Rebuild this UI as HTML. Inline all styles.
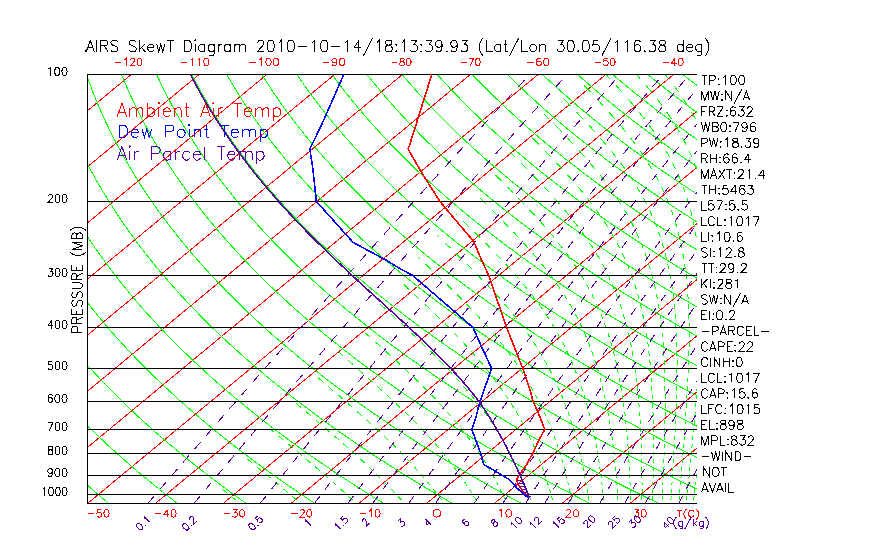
<!DOCTYPE html><html><head><meta charset="utf-8"><style>html,body{margin:0;padding:0;background:#fff;width:870px;height:560px;overflow:hidden}svg{display:block}text{font-family:"Liberation Sans",sans-serif}</style></head><body>
<svg width="870" height="560" viewBox="0 0 870 560">
<defs><clipPath id="c"><rect x="87" y="74" width="610" height="430"/></clipPath></defs>
<g clip-path="url(#c)" fill="none" shape-rendering="crispEdges">
<path d="M-454.9,503.5L63.4,74.5M-387.1,503.5L131.2,74.5M-319.3,503.5L199.0,74.5M-251.5,503.5L266.8,74.5M-183.7,503.5L334.6,74.5M-115.9,503.5L402.4,74.5M-48.1,503.5L470.2,74.5M19.7,503.5L538.0,74.5M87.5,503.5L605.8,74.5M155.3,503.5L673.6,74.5M223.1,503.5L741.4,74.5M290.9,503.5L809.2,74.5M358.7,503.5L877.0,74.5M426.5,503.5L944.8,74.5M494.3,503.5L1012.6,74.5M562.1,503.5L1080.4,74.5M629.9,503.5L1148.2,74.5M697.7,503.5L1216.0,74.5M765.5,503.5L1283.8,74.5" stroke="#f00"/>
<path d="M108.8,503.5L106.7,501.7L104.6,500.0L102.5,498.2L100.4,496.4L98.3,494.6L96.1,492.8L94.0,490.9L91.9,489.0L89.7,487.2L87.5,485.2L85.4,483.3L83.2,481.4L81.0,479.4L78.8,477.4L76.6,475.4L74.4,473.4L72.1,471.3L69.9,469.2L67.6,467.1L65.4,465.0L63.1,462.8L60.8,460.6L58.5,458.4L56.2,456.2L53.9,453.9L51.6,451.6L49.2,449.3L46.9,447.0L44.5,444.6L42.2,442.2L39.8,439.7L37.4,437.2L35.0,434.7L32.6,432.2L30.1,429.6L27.7,427.0L25.3,424.3L22.8,421.6L20.3,418.9L17.8,416.1L15.3,413.2L12.8,410.4L10.3,407.5L7.7,404.5L5.2,401.5L2.6,398.4L0.1,395.3L-2.5,392.1L-5.1,388.9L-7.8,385.6L-10.4,382.3L-13.0,378.9L-15.7,375.4L-18.4,371.8L-21.0,368.2L-23.7,364.6L-26.4,360.8L-29.2,357.0L-31.9,353.0L-34.7,349.0L-37.4,344.9L-40.2,340.7L-43.0,336.5L-45.8,332.1L-48.6,327.6L-51.4,322.9L-54.2,318.2L-57.1,313.3L-59.9,308.4L-62.8,303.2L-65.6,297.9L-68.5,292.5L-71.4,286.9L-74.2,281.1L-77.1,275.1L-80.0,268.9L-82.9,262.5L-85.7,255.9L-88.6,249.0L-91.4,241.9L-94.2,234.4L-97.0,226.7L-99.8,218.6L-102.5,210.1L-105.2,201.2L-107.8,191.8L-110.3,182.0L-112.7,171.6L-115.0,160.5L-117.2,148.8L-119.1,136.2L-120.9,122.7L-122.4,108.1L-123.5,92.2L-124.1,74.8M177.5,503.5L175.2,501.7L173.0,500.0L170.7,498.2L168.4,496.4L166.1,494.6L163.7,492.8L161.4,490.9L159.1,489.0L156.7,487.2L154.3,485.2L152.0,483.3L149.6,481.4L147.2,479.4L144.8,477.4L142.4,475.4L139.9,473.4L137.5,471.3L135.0,469.2L132.6,467.1L130.1,465.0L127.6,462.8L125.1,460.6L122.6,458.4L120.1,456.2L117.5,453.9L115.0,451.6L112.4,449.3L109.8,447.0L107.2,444.6L104.6,442.2L102.0,439.7L99.4,437.2L96.7,434.7L94.0,432.2L91.4,429.6L88.7,427.0L86.0,424.3L83.3,421.6L80.5,418.9L77.8,416.1L75.0,413.2L72.2,410.4L69.4,407.5L66.6,404.5L63.8,401.5L60.9,398.4L58.1,395.3L55.2,392.1L52.3,388.9L49.4,385.6L46.5,382.3L43.5,378.9L40.5,375.4L37.6,371.8L34.6,368.2L31.6,364.6L28.5,360.8L25.5,357.0L22.4,353.0L19.3,349.0L16.2,344.9L13.1,340.7L9.9,336.5L6.8,332.1L3.6,327.6L0.4,322.9L-2.8,318.2L-6.0,313.3L-9.3,308.4L-12.6,303.2L-15.8,297.9L-19.1,292.5L-22.4,286.9L-25.7,281.1L-29.1,275.1L-32.4,268.9L-35.8,262.5L-39.1,255.9L-42.5,249.0L-45.8,241.9L-49.2,234.4L-52.5,226.7L-55.8,218.6L-59.1,210.1L-62.4,201.2L-65.6,191.8L-68.8,182.0L-71.9,171.6L-74.9,160.5L-77.8,148.8L-80.5,136.2L-83.1,122.7L-85.4,108.1L-87.4,92.2L-89.0,74.8M246.3,503.5L243.8,501.7L241.3,500.0L238.9,498.2L236.4,496.4L233.9,494.6L231.3,492.8L228.8,490.9L226.3,489.0L223.7,487.2L221.2,485.2L218.6,483.3L216.0,481.4L213.4,479.4L210.8,477.4L208.1,475.4L205.5,473.4L202.9,471.3L200.2,469.2L197.5,467.1L194.8,465.0L192.1,462.8L189.4,460.6L186.6,458.4L183.9,456.2L181.1,453.9L178.3,451.6L175.5,449.3L172.7,447.0L169.9,444.6L167.1,442.2L164.2,439.7L161.3,437.2L158.4,434.7L155.5,432.2L152.6,429.6L149.7,427.0L146.7,424.3L143.7,421.6L140.7,418.9L137.7,416.1L134.7,413.2L131.6,410.4L128.6,407.5L125.5,404.5L122.4,401.5L119.2,398.4L116.1,395.3L112.9,392.1L109.7,388.9L106.5,385.6L103.3,382.3L100.1,378.9L96.8,375.4L93.5,371.8L90.2,368.2L86.8,364.6L83.5,360.8L80.1,357.0L76.7,353.0L73.3,349.0L69.8,344.9L66.3,340.7L62.8,336.5L59.3,332.1L55.8,327.6L52.2,322.9L48.6,318.2L45.0,313.3L41.3,308.4L37.7,303.2L34.0,297.9L30.3,292.5L26.5,286.9L22.8,281.1L19.0,275.1L15.2,268.9L11.4,262.5L7.5,255.9L3.7,249.0L-0.2,241.9L-4.1,234.4L-8.0,226.7L-11.8,218.6L-15.7,210.1L-19.6,201.2L-23.4,191.8L-27.2,182.0L-31.0,171.6L-34.7,160.5L-38.3,148.8L-41.9,136.2L-45.2,122.7L-48.4,108.1L-51.3,92.2L-53.9,74.8M315.0,503.5L312.4,501.7L309.7,500.0L307.0,498.2L304.4,496.4L301.7,494.6L298.9,492.8L296.2,490.9L293.5,489.0L290.7,487.2L288.0,485.2L285.2,483.3L282.4,481.4L279.6,479.4L276.8,477.4L273.9,475.4L271.1,473.4L268.2,471.3L265.3,469.2L262.4,467.1L259.5,465.0L256.6,462.8L253.7,460.6L250.7,458.4L247.7,456.2L244.7,453.9L241.7,451.6L238.7,449.3L235.6,447.0L232.6,444.6L229.5,442.2L226.4,439.7L223.3,437.2L220.2,434.7L217.0,432.2L213.8,429.6L210.6,427.0L207.4,424.3L204.2,421.6L200.9,418.9L197.7,416.1L194.4,413.2L191.0,410.4L187.7,407.5L184.3,404.5L180.9,401.5L177.5,398.4L174.1,395.3L170.7,392.1L167.2,388.9L163.7,385.6L160.1,382.3L156.6,378.9L153.0,375.4L149.4,371.8L145.8,368.2L142.1,364.6L138.4,360.8L134.7,357.0L131.0,353.0L127.2,349.0L123.4,344.9L119.6,340.7L115.7,336.5L111.8,332.1L107.9,327.6L104.0,322.9L100.0,318.2L96.0,313.3L92.0,308.4L87.9,303.2L83.8,297.9L79.6,292.5L75.5,286.9L71.3,281.1L67.0,275.1L62.8,268.9L58.5,262.5L54.1,255.9L49.8,249.0L45.4,241.9L41.0,234.4L36.6,226.7L32.1,218.6L27.7,210.1L23.2,201.2L18.7,191.8L14.3,182.0L9.8,171.6L5.4,160.5L1.1,148.8L-3.2,136.2L-7.4,122.7L-11.4,108.1L-15.3,92.2L-18.8,74.8M383.8,503.5L380.9,501.7L378.1,500.0L375.2,498.2L372.4,496.4L369.5,494.6L366.6,492.8L363.6,490.9L360.7,489.0L357.7,487.2L354.8,485.2L351.8,483.3L348.8,481.4L345.8,479.4L342.8,477.4L339.7,475.4L336.7,473.4L333.6,471.3L330.5,469.2L327.4,467.1L324.2,465.0L321.1,462.8L317.9,460.6L314.8,458.4L311.6,456.2L308.3,453.9L305.1,451.6L301.8,449.3L298.6,447.0L295.3,444.6L291.9,442.2L288.6,439.7L285.3,437.2L281.9,434.7L278.5,432.2L275.0,429.6L271.6,427.0L268.1,424.3L264.6,421.6L261.1,418.9L257.6,416.1L254.0,413.2L250.4,410.4L246.8,407.5L243.2,404.5L239.5,401.5L235.8,398.4L232.1,395.3L228.4,392.1L224.6,388.9L220.8,385.6L217.0,382.3L213.1,378.9L209.3,375.4L205.3,371.8L201.4,368.2L197.4,364.6L193.4,360.8L189.4,357.0L185.3,353.0L181.2,349.0L177.0,344.9L172.9,340.7L168.6,336.5L164.4,332.1L160.1,327.6L155.8,322.9L151.4,318.2L147.0,313.3L142.6,308.4L138.1,303.2L133.6,297.9L129.0,292.5L124.4,286.9L119.8,281.1L115.1,275.1L110.3,268.9L105.6,262.5L100.8,255.9L95.9,249.0L91.0,241.9L86.1,234.4L81.1,226.7L76.1,218.6L71.1,210.1L66.0,201.2L60.9,191.8L55.8,182.0L50.7,171.6L45.6,160.5L40.5,148.8L35.4,136.2L30.4,122.7L25.5,108.1L20.8,92.2L16.3,74.8M452.5,503.5L449.5,501.7L446.5,500.0L443.4,498.2L440.3,496.4L437.3,494.6L434.2,492.8L431.0,490.9L427.9,489.0L424.8,487.2L421.6,485.2L418.4,483.3L415.2,481.4L412.0,479.4L408.8,477.4L405.5,475.4L402.2,473.4L398.9,471.3L395.6,469.2L392.3,467.1L389.0,465.0L385.6,462.8L382.2,460.6L378.8,458.4L375.4,456.2L371.9,453.9L368.5,451.6L365.0,449.3L361.5,447.0L357.9,444.6L354.4,442.2L350.8,439.7L347.2,437.2L343.6,434.7L339.9,432.2L336.3,429.6L332.6,427.0L328.9,424.3L325.1,421.6L321.3,418.9L317.5,416.1L313.7,413.2L309.9,410.4L306.0,407.5L302.1,404.5L298.1,401.5L294.1,398.4L290.1,395.3L286.1,392.1L282.1,388.9L278.0,385.6L273.8,382.3L269.7,378.9L265.5,375.4L261.3,371.8L257.0,368.2L252.7,364.6L248.4,360.8L244.0,357.0L239.6,353.0L235.1,349.0L230.6,344.9L226.1,340.7L221.5,336.5L216.9,332.1L212.3,327.6L207.6,322.9L202.8,318.2L198.0,313.3L193.2,308.4L188.3,303.2L183.4,297.9L178.4,292.5L173.4,286.9L168.3,281.1L163.1,275.1L157.9,268.9L152.7,262.5L147.4,255.9L142.0,249.0L136.6,241.9L131.2,234.4L125.6,226.7L120.1,218.6L114.5,210.1L108.8,201.2L103.1,191.8L97.3,182.0L91.5,171.6L85.7,160.5L79.9,148.8L74.1,136.2L68.3,122.7L62.5,108.1L56.9,92.2L51.4,74.8M521.3,503.5L518.1,501.7L514.8,500.0L511.6,498.2L508.3,496.4L505.1,494.6L501.8,492.8L498.5,490.9L495.1,489.0L491.8,487.2L488.4,485.2L485.0,483.3L481.6,481.4L478.2,479.4L474.8,477.4L471.3,475.4L467.8,473.4L464.3,471.3L460.8,469.2L457.3,467.1L453.7,465.0L450.1,462.8L446.5,460.6L442.9,458.4L439.2,456.2L435.6,453.9L431.9,451.6L428.1,449.3L424.4,447.0L420.6,444.6L416.8,442.2L413.0,439.7L409.2,437.2L405.3,434.7L401.4,432.2L397.5,429.6L393.5,427.0L389.6,424.3L385.6,421.6L381.5,418.9L377.5,416.1L373.4,413.2L369.3,410.4L365.1,407.5L360.9,404.5L356.7,401.5L352.5,398.4L348.2,395.3L343.9,392.1L339.5,388.9L335.1,385.6L330.7,382.3L326.2,378.9L321.7,375.4L317.2,371.8L312.6,368.2L308.0,364.6L303.3,360.8L298.6,357.0L293.9,353.0L289.1,349.0L284.3,344.9L279.4,340.7L274.4,336.5L269.5,332.1L264.4,327.6L259.4,322.9L254.2,318.2L249.1,313.3L243.8,308.4L238.5,303.2L233.2,297.9L227.8,292.5L222.3,286.9L216.8,281.1L211.2,275.1L205.5,268.9L199.8,262.5L194.0,255.9L188.2,249.0L182.2,241.9L176.2,234.4L170.2,226.7L164.0,218.6L157.8,210.1L151.6,201.2L145.2,191.8L138.8,182.0L132.4,171.6L125.8,160.5L119.3,148.8L112.7,136.2L106.1,122.7L99.5,108.1L92.9,92.2L86.5,74.8M590.0,503.5L586.6,501.7L583.2,500.0L579.8,498.2L576.3,496.4L572.9,494.6L569.4,492.8L565.9,490.9L562.3,489.0L558.8,487.2L555.2,485.2L551.6,483.3L548.0,481.4L544.4,479.4L540.8,477.4L537.1,475.4L533.4,473.4L529.7,471.3L525.9,469.2L522.2,467.1L518.4,465.0L514.6,462.8L510.8,460.6L506.9,458.4L503.1,456.2L499.2,453.9L495.2,451.6L491.3,449.3L487.3,447.0L483.3,444.6L479.3,442.2L475.2,439.7L471.1,437.2L467.0,434.7L462.9,432.2L458.7,429.6L454.5,427.0L450.3,424.3L446.0,421.6L441.7,418.9L437.4,416.1L433.1,413.2L428.7,410.4L424.2,407.5L419.8,404.5L415.3,401.5L410.8,398.4L406.2,395.3L401.6,392.1L396.9,388.9L392.3,385.6L387.5,382.3L382.8,378.9L378.0,375.4L373.1,371.8L368.2,368.2L363.3,364.6L358.3,360.8L353.3,357.0L348.2,353.0L343.0,349.0L337.9,344.9L332.6,340.7L327.3,336.5L322.0,332.1L316.6,327.6L311.2,322.9L305.6,318.2L300.1,313.3L294.4,308.4L288.7,303.2L283.0,297.9L277.1,292.5L271.2,286.9L265.3,281.1L259.2,275.1L253.1,268.9L246.9,262.5L240.6,255.9L234.3,249.0L227.8,241.9L221.3,234.4L214.7,226.7L208.0,218.6L201.2,210.1L194.4,201.2L187.4,191.8L180.3,182.0L173.2,171.6L166.0,160.5L158.7,148.8L151.3,136.2L143.9,122.7L136.5,108.1L129.0,92.2L121.6,74.8M658.8,503.5L655.2,501.7L651.6,500.0L648.0,498.2L644.3,496.4L640.7,494.6L637.0,492.8L633.3,490.9L629.5,489.0L625.8,487.2L622.0,485.2L618.2,483.3L614.4,481.4L610.6,479.4L606.7,477.4L602.9,475.4L599.0,473.4L595.0,471.3L591.1,469.2L587.1,467.1L583.1,465.0L579.1,462.8L575.1,460.6L571.0,458.4L566.9,456.2L562.8,453.9L558.6,451.6L554.4,449.3L550.2,447.0L546.0,444.6L541.7,442.2L537.4,439.7L533.1,437.2L528.8,434.7L524.4,432.2L519.9,429.6L515.5,427.0L511.0,424.3L506.5,421.6L501.9,418.9L497.4,416.1L492.7,413.2L488.1,410.4L483.4,407.5L478.6,404.5L473.9,401.5L469.1,398.4L464.2,395.3L459.3,392.1L454.4,388.9L449.4,385.6L444.4,382.3L439.3,378.9L434.2,375.4L429.0,371.8L423.8,368.2L418.6,364.6L413.3,360.8L407.9,357.0L402.5,353.0L397.0,349.0L391.5,344.9L385.9,340.7L380.3,336.5L374.5,332.1L368.8,327.6L363.0,322.9L357.1,318.2L351.1,313.3L345.1,308.4L339.0,303.2L332.8,297.9L326.5,292.5L320.2,286.9L313.8,281.1L307.3,275.1L300.7,268.9L294.0,262.5L287.3,255.9L280.4,249.0L273.4,241.9L266.4,234.4L259.2,226.7L252.0,218.6L244.6,210.1L237.1,201.2L229.6,191.8L221.9,182.0L214.1,171.6L206.1,160.5L198.1,148.8L190.0,136.2L181.7,122.7L173.4,108.1L165.1,92.2L156.7,74.8M727.5,503.5L723.8,501.7L720.0,500.0L716.2,498.2L712.3,496.4L708.5,494.6L704.6,492.8L700.7,490.9L696.8,489.0L692.8,487.2L688.8,485.2L684.9,483.3L680.8,481.4L676.8,479.4L672.7,477.4L668.7,475.4L664.5,473.4L660.4,471.3L656.3,469.2L652.1,467.1L647.9,465.0L643.6,462.8L639.3,460.6L635.1,458.4L630.7,456.2L626.4,453.9L622.0,451.6L617.6,449.3L613.1,447.0L608.7,444.6L604.2,442.2L599.6,439.7L595.1,437.2L590.5,434.7L585.8,432.2L581.2,429.6L576.5,427.0L571.7,424.3L567.0,421.6L562.1,418.9L557.3,416.1L552.4,413.2L547.5,410.4L542.5,407.5L537.5,404.5L532.5,401.5L527.4,398.4L522.2,395.3L517.0,392.1L511.8,388.9L506.5,385.6L501.2,382.3L495.8,378.9L490.4,375.4L485.0,371.8L479.4,368.2L473.8,364.6L468.2,360.8L462.5,357.0L456.8,353.0L451.0,349.0L445.1,344.9L439.2,340.7L433.2,336.5L427.1,332.1L421.0,327.6L414.7,322.9L408.5,318.2L402.1,313.3L395.7,308.4L389.2,303.2L382.6,297.9L375.9,292.5L369.1,286.9L362.3,281.1L355.3,275.1L348.3,268.9L341.1,262.5L333.9,255.9L326.5,249.0L319.1,241.9L311.5,234.4L303.8,226.7L296.0,218.6L288.0,210.1L279.9,201.2L271.7,191.8L263.4,182.0L254.9,171.6L246.3,160.5L237.5,148.8L228.6,136.2L219.6,122.7L210.4,108.1L201.1,92.2L191.8,74.8M796.3,503.5L792.3,501.7L788.3,500.0L784.3,498.2L780.3,496.4L776.3,494.6L772.2,492.8L768.1,490.9L764.0,489.0L759.8,487.2L755.7,485.2L751.5,483.3L747.2,481.4L743.0,479.4L738.7,477.4L734.4,475.4L730.1,473.4L725.8,471.3L721.4,469.2L717.0,467.1L712.6,465.0L708.1,462.8L703.6,460.6L699.1,458.4L694.6,456.2L690.0,453.9L685.4,451.6L680.7,449.3L676.1,447.0L671.4,444.6L666.6,442.2L661.8,439.7L657.0,437.2L652.2,434.7L647.3,432.2L642.4,429.6L637.4,427.0L632.4,424.3L627.4,421.6L622.3,418.9L617.2,416.1L612.1,413.2L606.9,410.4L601.7,407.5L596.4,404.5L591.0,401.5L585.7,398.4L580.2,395.3L574.8,392.1L569.3,388.9L563.7,385.6L558.1,382.3L552.4,378.9L546.7,375.4L540.9,371.8L535.0,368.2L529.1,364.6L523.2,360.8L517.2,357.0L511.1,353.0L504.9,349.0L498.7,344.9L492.4,340.7L486.1,336.5L479.6,332.1L473.1,327.6L466.5,322.9L459.9,318.2L453.1,313.3L446.3,308.4L439.4,303.2L432.4,297.9L425.3,292.5L418.1,286.9L410.8,281.1L403.4,275.1L395.9,268.9L388.2,262.5L380.5,255.9L372.6,249.0L364.7,241.9L356.6,234.4L348.3,226.7L339.9,218.6L331.4,210.1L322.7,201.2L313.9,191.8L304.9,182.0L295.7,171.6L286.4,160.5L276.9,148.8L267.2,136.2L257.4,122.7L247.4,108.1L237.2,92.2L226.8,74.8M865.0,503.5L860.9,501.7L856.7,500.0L852.5,498.2L848.3,496.4L844.1,494.6L839.8,492.8L835.5,490.9L831.2,489.0L826.8,487.2L822.5,485.2L818.1,483.3L813.7,481.4L809.2,479.4L804.7,477.4L800.2,475.4L795.7,473.4L791.1,471.3L786.6,469.2L781.9,467.1L777.3,465.0L772.6,462.8L767.9,460.6L763.2,458.4L758.4,456.2L753.6,453.9L748.8,451.6L743.9,449.3L739.0,447.0L734.0,444.6L729.1,442.2L724.0,439.7L719.0,437.2L713.9,434.7L708.8,432.2L703.6,429.6L698.4,427.0L693.2,424.3L687.9,421.6L682.6,418.9L677.2,416.1L671.8,413.2L666.3,410.4L660.8,407.5L655.2,404.5L649.6,401.5L644.0,398.4L638.3,395.3L632.5,392.1L626.7,388.9L620.8,385.6L614.9,382.3L608.9,378.9L602.9,375.4L596.8,371.8L590.6,368.2L584.4,364.6L578.1,360.8L571.8,357.0L565.4,353.0L558.9,349.0L552.3,344.9L545.7,340.7L539.0,336.5L532.2,332.1L525.3,327.6L518.3,322.9L511.3,318.2L504.1,313.3L496.9,308.4L489.6,303.2L482.2,297.9L474.6,292.5L467.0,286.9L459.3,281.1L451.4,275.1L443.4,268.9L435.3,262.5L427.1,255.9L418.8,249.0L410.3,241.9L401.6,234.4L392.8,226.7L383.9,218.6L374.8,210.1L365.5,201.2L356.1,191.8L346.4,182.0L336.6,171.6L326.6,160.5L316.3,148.8L305.9,136.2L295.2,122.7L284.3,108.1L273.2,92.2L261.9,74.8M933.8,503.5L929.5,501.7L925.1,500.0L920.7,498.2L916.3,496.4L911.9,494.6L907.4,492.8L902.9,490.9L898.4,489.0L893.9,487.2L889.3,485.2L884.7,483.3L880.1,481.4L875.4,479.4L870.7,477.4L866.0,475.4L861.3,473.4L856.5,471.3L851.7,469.2L846.9,467.1L842.0,465.0L837.1,462.8L832.2,460.6L827.2,458.4L822.2,456.2L817.2,453.9L812.1,451.6L807.0,449.3L801.9,447.0L796.7,444.6L791.5,442.2L786.3,439.7L781.0,437.2L775.6,434.7L770.3,432.2L764.8,429.6L759.4,427.0L753.9,424.3L748.3,421.6L742.8,418.9L737.1,416.1L731.4,413.2L725.7,410.4L719.9,407.5L714.1,404.5L708.2,401.5L702.3,398.4L696.3,395.3L690.2,392.1L684.1,388.9L678.0,385.6L671.8,382.3L665.5,378.9L659.1,375.4L652.7,371.8L646.3,368.2L639.7,364.6L633.1,360.8L626.4,357.0L619.7,353.0L612.8,349.0L605.9,344.9L598.9,340.7L591.9,336.5L584.7,332.1L577.5,327.6L570.1,322.9L562.7,318.2L555.2,313.3L547.5,308.4L539.8,303.2L532.0,297.9L524.0,292.5L516.0,286.9L507.8,281.1L499.5,275.1L491.0,268.9L482.5,262.5L473.7,255.9L464.9,249.0L455.9,241.9L446.7,234.4L437.4,226.7L427.9,218.6L418.2,210.1L408.3,201.2L398.2,191.8L387.9,182.0L377.4,171.6L366.7,160.5L355.7,148.8L344.5,136.2L333.0,122.7L321.3,108.1L309.3,92.2L297.0,74.8M1002.6,503.5L998.0,501.7L993.5,500.0L988.9,498.2L984.3,496.4L979.7,494.6L975.0,492.8L970.3,490.9L965.6,489.0L960.9,487.2L956.1,485.2L951.3,483.3L946.5,481.4L941.6,479.4L936.7,477.4L931.8,475.4L926.9,473.4L921.9,471.3L916.9,469.2L911.8,467.1L906.7,465.0L901.6,462.8L896.5,460.6L891.3,458.4L886.1,456.2L880.8,453.9L875.5,451.6L870.2,449.3L864.8,447.0L859.4,444.6L854.0,442.2L848.5,439.7L842.9,437.2L837.4,434.7L831.7,432.2L826.1,429.6L820.4,427.0L814.6,424.3L808.8,421.6L803.0,418.9L797.1,416.1L791.1,413.2L785.1,410.4L779.1,407.5L773.0,404.5L766.8,401.5L760.6,398.4L754.3,395.3L748.0,392.1L741.6,388.9L735.1,385.6L728.6,382.3L722.0,378.9L715.4,375.4L708.6,371.8L701.9,368.2L695.0,364.6L688.1,360.8L681.1,357.0L674.0,353.0L666.8,349.0L659.5,344.9L652.2,340.7L644.8,336.5L637.2,332.1L629.6,327.6L621.9,322.9L614.1,318.2L606.2,313.3L598.2,308.4L590.0,303.2L581.8,297.9L573.4,292.5L564.9,286.9L556.3,281.1L547.5,275.1L538.6,268.9L529.6,262.5L520.4,255.9L511.0,249.0L501.5,241.9L491.8,234.4L481.9,226.7L471.8,218.6L461.6,210.1L451.1,201.2L440.4,191.8L429.5,182.0L418.3,171.6L406.8,160.5L395.1,148.8L383.2,136.2L370.9,122.7L358.3,108.1L345.4,92.2L332.1,74.8M1071.3,503.5L1066.6,501.7L1061.8,500.0L1057.1,498.2L1052.3,496.4L1047.5,494.6L1042.6,492.8L1037.7,490.9L1032.8,489.0L1027.9,487.2L1022.9,485.2L1017.9,483.3L1012.9,481.4L1007.8,479.4L1002.7,477.4L997.6,475.4L992.4,473.4L987.2,471.3L982.0,469.2L976.8,467.1L971.5,465.0L966.1,462.8L960.8,460.6L955.3,458.4L949.9,456.2L944.4,453.9L938.9,451.6L933.3,449.3L927.7,447.0L922.1,444.6L916.4,442.2L910.7,439.7L904.9,437.2L899.1,434.7L893.2,432.2L887.3,429.6L881.3,427.0L875.3,424.3L869.3,421.6L863.2,418.9L857.0,416.1L850.8,413.2L844.5,410.4L838.2,407.5L831.8,404.5L825.4,401.5L818.9,398.4L812.3,395.3L805.7,392.1L799.0,388.9L792.3,385.6L785.4,382.3L778.6,378.9L771.6,375.4L764.6,371.8L757.5,368.2L750.3,364.6L743.0,360.8L735.7,357.0L728.3,353.0L720.7,349.0L713.1,344.9L705.5,340.7L697.7,336.5L689.8,332.1L681.8,327.6L673.7,322.9L665.5,318.2L657.2,313.3L648.8,308.4L640.2,303.2L631.6,297.9L622.8,292.5L613.8,286.9L604.8,281.1L595.6,275.1L586.2,268.9L576.7,262.5L567.0,255.9L557.1,249.0L547.1,241.9L536.9,234.4L526.4,226.7L515.8,218.6L505.0,210.1L493.9,201.2L482.6,191.8L471.0,182.0L459.1,171.6L447.0,160.5L434.6,148.8L421.8,136.2L408.7,122.7L395.3,108.1L381.4,92.2L367.2,74.8M1140.1,503.5L1135.2,501.7L1130.2,500.0L1125.3,498.2L1120.3,496.4L1115.3,494.6L1110.2,492.8L1105.1,490.9L1100.0,489.0L1094.9,487.2L1089.7,485.2L1084.5,483.3L1079.3,481.4L1074.0,479.4L1068.7,477.4L1063.4,475.4L1058.0,473.4L1052.6,471.3L1047.2,469.2L1041.7,467.1L1036.2,465.0L1030.6,462.8L1025.0,460.6L1019.4,458.4L1013.7,456.2L1008.0,453.9L1002.3,451.6L996.5,449.3L990.6,447.0L984.8,444.6L978.8,442.2L972.9,439.7L966.9,437.2L960.8,434.7L954.7,432.2L948.5,429.6L942.3,427.0L936.0,424.3L929.7,421.6L923.4,418.9L916.9,416.1L910.5,413.2L903.9,410.4L897.3,407.5L890.7,404.5L884.0,401.5L877.2,398.4L870.3,395.3L863.4,392.1L856.5,388.9L849.4,385.6L842.3,382.3L835.1,378.9L827.8,375.4L820.5,371.8L813.1,368.2L805.6,364.6L798.0,360.8L790.3,357.0L782.6,353.0L774.7,349.0L766.8,344.9L758.7,340.7L750.6,336.5L742.3,332.1L734.0,327.6L725.5,322.9L716.9,318.2L708.2,313.3L699.4,308.4L690.5,303.2L681.4,297.9L672.2,292.5L662.8,286.9L653.3,281.1L643.6,275.1L633.8,268.9L623.8,262.5L613.6,255.9L603.3,249.0L592.7,241.9L581.9,234.4L571.0,226.7L559.8,218.6L548.3,210.1L536.7,201.2L524.7,191.8L512.5,182.0L500.0,171.6L487.1,160.5L474.0,148.8L460.4,136.2L446.5,122.7L432.2,108.1L417.5,92.2L402.3,74.8M1208.8,503.5L1203.7,501.7L1198.6,500.0L1193.4,498.2L1188.3,496.4L1183.1,494.6L1177.8,492.8L1172.5,490.9L1167.2,489.0L1161.9,487.2L1156.5,485.2L1151.1,483.3L1145.7,481.4L1140.2,479.4L1134.7,477.4L1129.2,475.4L1123.6,473.4L1118.0,471.3L1112.3,469.2L1106.6,467.1L1100.9,465.0L1095.1,462.8L1089.3,460.6L1083.5,458.4L1077.6,456.2L1071.6,453.9L1065.7,451.6L1059.6,449.3L1053.6,447.0L1047.4,444.6L1041.3,442.2L1035.1,439.7L1028.8,437.2L1022.5,434.7L1016.2,432.2L1009.7,429.6L1003.3,427.0L996.8,424.3L990.2,421.6L983.6,418.9L976.9,416.1L970.1,413.2L963.3,410.4L956.5,407.5L949.5,404.5L942.5,401.5L935.5,398.4L928.4,395.3L921.2,392.1L913.9,388.9L906.6,385.6L899.1,382.3L891.6,378.9L884.1,375.4L876.4,371.8L868.7,368.2L860.9,364.6L852.9,360.8L844.9,357.0L836.9,353.0L828.7,349.0L820.4,344.9L812.0,340.7L803.5,336.5L794.9,332.1L786.1,327.6L777.3,322.9L768.3,318.2L759.2,313.3L750.0,308.4L740.7,303.2L731.2,297.9L721.5,292.5L711.7,286.9L701.8,281.1L691.7,275.1L681.4,268.9L670.9,262.5L660.2,255.9L649.4,249.0L638.3,241.9L627.0,234.4L615.5,226.7L603.8,218.6L591.7,210.1L579.5,201.2L566.9,191.8L554.0,182.0L540.8,171.6L527.3,160.5L513.4,148.8L499.1,136.2L484.4,122.7L469.2,108.1L453.6,92.2L437.4,74.8M1277.6,503.5L1272.3,501.7L1267.0,500.0L1261.6,498.2L1256.3,496.4L1250.9,494.6L1245.4,492.8L1240.0,490.9L1234.5,489.0L1228.9,487.2L1223.3,485.2L1217.7,483.3L1212.1,481.4L1206.4,479.4L1200.7,477.4L1195.0,475.4L1189.2,473.4L1183.3,471.3L1177.5,469.2L1171.6,467.1L1165.6,465.0L1159.6,462.8L1153.6,460.6L1147.5,458.4L1141.4,456.2L1135.2,453.9L1129.0,451.6L1122.8,449.3L1116.5,447.0L1110.1,444.6L1103.7,442.2L1097.3,439.7L1090.8,437.2L1084.2,434.7L1077.6,432.2L1071.0,429.6L1064.3,427.0L1057.5,424.3L1050.7,421.6L1043.8,418.9L1036.8,416.1L1029.8,413.2L1022.7,410.4L1015.6,407.5L1008.4,404.5L1001.1,401.5L993.8,398.4L986.4,395.3L978.9,392.1L971.3,388.9L963.7,385.6L956.0,382.3L948.2,378.9L940.3,375.4L932.3,371.8L924.3,368.2L916.1,364.6L907.9,360.8L899.6,357.0L891.1,353.0L882.6,349.0L874.0,344.9L865.2,340.7L856.4,336.5L847.4,332.1L838.3,327.6L829.1,322.9L819.7,318.2L810.3,313.3L800.6,308.4L790.9,303.2L781.0,297.9L770.9,292.5L760.7,286.9L750.3,281.1L739.7,275.1L729.0,268.9L718.0,262.5L706.9,255.9L695.5,249.0L683.9,241.9L672.1,234.4L660.0,226.7L647.7,218.6L635.1,210.1L622.2,201.2L609.1,191.8L595.5,182.0L581.7,171.6L567.4,160.5L552.8,148.8L537.7,136.2L522.2,122.7L506.2,108.1L489.6,92.2L472.5,74.8M1346.3,503.5L1340.8,501.7L1335.4,500.0L1329.8,498.2L1324.3,496.4L1318.7,494.6L1313.0,492.8L1307.4,490.9L1301.7,489.0L1295.9,487.2L1290.2,485.2L1284.4,483.3L1278.5,481.4L1272.6,479.4L1266.7,477.4L1260.7,475.4L1254.7,473.4L1248.7,471.3L1242.6,469.2L1236.5,467.1L1230.3,465.0L1224.1,462.8L1217.9,460.6L1211.6,458.4L1205.2,456.2L1198.9,453.9L1192.4,451.6L1185.9,449.3L1179.4,447.0L1172.8,444.6L1166.2,442.2L1159.5,439.7L1152.7,437.2L1146.0,434.7L1139.1,432.2L1132.2,429.6L1125.2,427.0L1118.2,424.3L1111.1,421.6L1104.0,418.9L1096.8,416.1L1089.5,413.2L1082.1,410.4L1074.7,407.5L1067.3,404.5L1059.7,401.5L1052.1,398.4L1044.4,395.3L1036.6,392.1L1028.8,388.9L1020.8,385.6L1012.8,382.3L1004.7,378.9L996.5,375.4L988.3,371.8L979.9,368.2L971.4,364.6L962.9,360.8L954.2,357.0L945.4,353.0L936.6,349.0L927.6,344.9L918.5,340.7L909.3,336.5L899.9,332.1L890.5,327.6L880.9,322.9L871.2,318.2L861.3,313.3L851.3,308.4L841.1,303.2L830.8,297.9L820.3,292.5L809.6,286.9L798.8,281.1L787.8,275.1L776.5,268.9L765.1,262.5L753.5,255.9L741.6,249.0L729.5,241.9L717.2,234.4L704.6,226.7L691.7,218.6L678.5,210.1L665.0,201.2L651.2,191.8L637.0,182.0L622.5,171.6L607.6,160.5L592.2,148.8L576.4,136.2L560.0,122.7L543.1,108.1L525.7,92.2L507.6,74.8M1415.1,503.5L1409.4,501.7L1403.7,500.0L1398.0,498.2L1392.2,496.4L1386.5,494.6L1380.6,492.8L1374.8,490.9L1368.9,489.0L1362.9,487.2L1357.0,485.2L1351.0,483.3L1344.9,481.4L1338.8,479.4L1332.7,477.4L1326.5,475.4L1320.3,473.4L1314.1,471.3L1307.8,469.2L1301.4,467.1L1295.1,465.0L1288.6,462.8L1282.2,460.6L1275.6,458.4L1269.1,456.2L1262.5,453.9L1255.8,451.6L1249.1,449.3L1242.3,447.0L1235.5,444.6L1228.6,442.2L1221.7,439.7L1214.7,437.2L1207.7,434.7L1200.6,432.2L1193.4,429.6L1186.2,427.0L1178.9,424.3L1171.6,421.6L1164.2,418.9L1156.7,416.1L1149.2,413.2L1141.6,410.4L1133.9,407.5L1126.1,404.5L1118.3,401.5L1110.4,398.4L1102.4,395.3L1094.4,392.1L1086.2,388.9L1078.0,385.6L1069.7,382.3L1061.3,378.9L1052.8,375.4L1044.2,371.8L1035.5,368.2L1026.7,364.6L1017.8,360.8L1008.8,357.0L999.7,353.0L990.5,349.0L981.2,344.9L971.8,340.7L962.2,336.5L952.5,332.1L942.6,327.6L932.7,322.9L922.6,318.2L912.3,313.3L901.9,308.4L891.3,303.2L880.6,297.9L869.7,292.5L858.6,286.9L847.3,281.1L835.8,275.1L824.1,268.9L812.2,262.5L800.1,255.9L787.7,249.0L775.1,241.9L762.3,234.4L749.1,226.7L735.7,218.6L721.9,210.1L707.8,201.2L693.4,191.8L678.6,182.0L663.4,171.6L647.7,160.5L631.6,148.8L615.0,136.2L597.8,122.7L580.1,108.1L561.8,92.2L542.7,74.8M1483.8,503.5L1478.0,501.7L1472.1,500.0L1466.2,498.2L1460.2,496.4L1454.3,494.6L1448.2,492.8L1442.2,490.9L1436.1,489.0L1430.0,487.2L1423.8,485.2L1417.6,483.3L1411.3,481.4L1405.0,479.4L1398.7,477.4L1392.3,475.4L1385.9,473.4L1379.4,471.3L1372.9,469.2L1366.4,467.1L1359.8,465.0L1353.1,462.8L1346.4,460.6L1339.7,458.4L1332.9,456.2L1326.1,453.9L1319.2,451.6L1312.2,449.3L1305.2,447.0L1298.2,444.6L1291.1,442.2L1283.9,439.7L1276.7,437.2L1269.4,434.7L1262.0,432.2L1254.6,429.6L1247.2,427.0L1239.6,424.3L1232.0,421.6L1224.4,418.9L1216.6,416.1L1208.8,413.2L1201.0,410.4L1193.0,407.5L1185.0,404.5L1176.9,401.5L1168.7,398.4L1160.4,395.3L1152.1,392.1L1143.7,388.9L1135.1,385.6L1126.5,382.3L1117.8,378.9L1109.0,375.4L1100.1,371.8L1091.1,368.2L1082.0,364.6L1072.8,360.8L1063.5,357.0L1054.0,353.0L1044.5,349.0L1034.8,344.9L1025.0,340.7L1015.1,336.5L1005.0,332.1L994.8,327.6L984.5,322.9L974.0,318.2L963.3,313.3L952.5,308.4L941.5,303.2L930.4,297.9L919.0,292.5L907.5,286.9L895.8,281.1L883.9,275.1L871.7,268.9L859.3,262.5L846.7,255.9L833.9,249.0L820.7,241.9L807.3,234.4L793.6,226.7L779.6,218.6L765.3,210.1L750.6,201.2L735.5,191.8L720.1,182.0L704.2,171.6L687.8,160.5L671.0,148.8L653.6,136.2L635.7,122.7L617.1,108.1L597.8,92.2L577.8,74.8M1552.6,503.5L1546.5,501.7L1540.5,500.0L1534.4,498.2L1528.2,496.4L1522.1,494.6L1515.8,492.8L1509.6,490.9L1503.3,489.0L1497.0,487.2L1490.6,485.2L1484.2,483.3L1477.7,481.4L1471.2,479.4L1464.7,477.4L1458.1,475.4L1451.5,473.4L1444.8,471.3L1438.1,469.2L1431.3,467.1L1424.5,465.0L1417.6,462.8L1410.7,460.6L1403.8,458.4L1396.7,456.2L1389.7,453.9L1382.6,451.6L1375.4,449.3L1368.1,447.0L1360.9,444.6L1353.5,442.2L1346.1,439.7L1338.6,437.2L1331.1,434.7L1323.5,432.2L1315.9,429.6L1308.1,427.0L1300.4,424.3L1292.5,421.6L1284.6,418.9L1276.6,416.1L1268.5,413.2L1260.4,410.4L1252.1,407.5L1243.8,404.5L1235.5,401.5L1227.0,398.4L1218.5,395.3L1209.8,392.1L1201.1,388.9L1192.3,385.6L1183.4,382.3L1174.4,378.9L1165.2,375.4L1156.0,371.8L1146.7,368.2L1137.3,364.6L1127.8,360.8L1118.1,357.0L1108.3,353.0L1098.4,349.0L1088.4,344.9L1078.3,340.7L1068.0,336.5L1057.6,332.1L1047.0,327.6L1036.3,322.9L1025.4,318.2L1014.3,313.3L1003.1,308.4L991.7,303.2L980.2,297.9L968.4,292.5L956.5,286.9L944.3,281.1L931.9,275.1L919.3,268.9L906.5,262.5L893.4,255.9L880.0,249.0L866.4,241.9L852.4,234.4L838.2,226.7L823.6,218.6L808.7,210.1L793.4,201.2L777.7,191.8L761.6,182.0L745.0,171.6L728.0,160.5L710.4,148.8L692.3,136.2L673.5,122.7L654.1,108.1L633.9,92.2L612.9,74.8M1621.3,503.5L1615.1,501.7L1608.9,500.0L1602.6,498.2L1596.2,496.4L1589.9,494.6L1583.5,492.8L1577.0,490.9L1570.5,489.0L1564.0,487.2L1557.4,485.2L1550.8,483.3L1544.1,481.4L1537.4,479.4L1530.7,477.4L1523.9,475.4L1517.1,473.4L1510.2,471.3L1503.2,469.2L1496.3,467.1L1489.2,465.0L1482.1,462.8L1475.0,460.6L1467.8,458.4L1460.6,456.2L1453.3,453.9L1445.9,451.6L1438.5,449.3L1431.1,447.0L1423.5,444.6L1416.0,442.2L1408.3,439.7L1400.6,437.2L1392.8,434.7L1385.0,432.2L1377.1,429.6L1369.1,427.0L1361.1,424.3L1353.0,421.6L1344.8,418.9L1336.5,416.1L1328.2,413.2L1319.8,410.4L1311.3,407.5L1302.7,404.5L1294.1,401.5L1285.3,398.4L1276.5,395.3L1267.5,392.1L1258.5,388.9L1249.4,385.6L1240.2,382.3L1230.9,378.9L1221.5,375.4L1212.0,371.8L1202.3,368.2L1192.6,364.6L1182.7,360.8L1172.7,357.0L1162.6,353.0L1152.4,349.0L1142.0,344.9L1131.5,340.7L1120.9,336.5L1110.1,332.1L1099.2,327.6L1088.1,322.9L1076.8,318.2L1065.4,313.3L1053.8,308.4L1042.0,303.2L1030.0,297.9L1017.8,292.5L1005.4,286.9L992.8,281.1L980.0,275.1L966.9,268.9L953.6,262.5L940.0,255.9L926.1,249.0L912.0,241.9L897.5,234.4L882.7,226.7L867.6,218.6L852.1,210.1L836.2,201.2L819.9,191.8L803.1,182.0L785.9,171.6L768.1,160.5L749.8,148.8L730.9,136.2L711.3,122.7L691.0,108.1L669.9,92.2L648.0,74.8M1690.1,503.5L1683.7,501.7L1677.2,500.0L1670.7,498.2L1664.2,496.4L1657.7,494.6L1651.1,492.8L1644.4,490.9L1637.7,489.0L1631.0,487.2L1624.2,485.2L1617.4,483.3L1610.5,481.4L1603.6,479.4L1596.7,477.4L1589.7,475.4L1582.6,473.4L1575.5,471.3L1568.4,469.2L1561.2,467.1L1553.9,465.0L1546.6,462.8L1539.3,460.6L1531.9,458.4L1524.4,456.2L1516.9,453.9L1509.3,451.6L1501.7,449.3L1494.0,447.0L1486.2,444.6L1478.4,442.2L1470.5,439.7L1462.6,437.2L1454.6,434.7L1446.5,432.2L1438.3,429.6L1430.1,427.0L1421.8,424.3L1413.4,421.6L1405.0,418.9L1396.5,416.1L1387.9,413.2L1379.2,410.4L1370.4,407.5L1361.6,404.5L1352.6,401.5L1343.6,398.4L1334.5,395.3L1325.3,392.1L1316.0,388.9L1306.6,385.6L1297.1,382.3L1287.4,378.9L1277.7,375.4L1267.9,371.8L1257.9,368.2L1247.9,364.6L1237.7,360.8L1227.4,357.0L1216.9,353.0L1206.4,349.0L1195.6,344.9L1184.8,340.7L1173.8,336.5L1162.6,332.1L1151.3,327.6L1139.9,322.9L1128.2,318.2L1116.4,313.3L1104.4,308.4L1092.2,303.2L1079.8,297.9L1067.2,292.5L1054.3,286.9L1041.3,281.1L1028.0,275.1L1014.5,268.9L1000.7,262.5L986.6,255.9L972.2,249.0L957.6,241.9L942.6,234.4L927.2,226.7L911.5,218.6L895.5,210.1L879.0,201.2L862.0,191.8L844.6,182.0L826.7,171.6L808.3,160.5L789.2,148.8L769.5,136.2L749.2,122.7L728.0,108.1L706.0,92.2L683.1,74.8M1758.8,503.5L1752.2,501.7L1745.6,500.0L1738.9,498.2L1732.2,496.4L1725.5,494.6L1718.7,492.8L1711.8,490.9L1704.9,489.0L1698.0,487.2L1691.0,485.2L1684.0,483.3L1677.0,481.4L1669.8,479.4L1662.7,477.4L1655.5,475.4L1648.2,473.4L1640.9,471.3L1633.5,469.2L1626.1,467.1L1618.7,465.0L1611.1,462.8L1603.6,460.6L1595.9,458.4L1588.2,456.2L1580.5,453.9L1572.7,451.6L1564.8,449.3L1556.9,447.0L1548.9,444.6L1540.8,442.2L1532.7,439.7L1524.5,437.2L1516.3,434.7L1507.9,432.2L1499.5,429.6L1491.1,427.0L1482.5,424.3L1473.9,421.6L1465.2,418.9L1456.4,416.1L1447.5,413.2L1438.6,410.4L1429.6,407.5L1420.4,404.5L1411.2,401.5L1401.9,398.4L1392.5,395.3L1383.0,392.1L1373.4,388.9L1363.7,385.6L1353.9,382.3L1344.0,378.9L1334.0,375.4L1323.8,371.8L1313.5,368.2L1303.2,364.6L1292.6,360.8L1282.0,357.0L1271.2,353.0L1260.3,349.0L1249.3,344.9L1238.1,340.7L1226.7,336.5L1215.2,332.1L1203.5,327.6L1191.6,322.9L1179.6,318.2L1167.4,313.3L1155.0,308.4L1142.4,303.2L1129.6,297.9L1116.5,292.5L1103.3,286.9L1089.8,281.1L1076.1,275.1L1062.1,268.9L1047.8,262.5L1033.2,255.9L1018.4,249.0L1003.2,241.9L987.7,234.4L971.8,226.7L955.5,218.6L938.9,210.1L921.8,201.2L904.2,191.8L886.2,182.0L867.6,171.6L848.4,160.5L828.6,148.8L808.2,136.2L787.0,122.7L765.0,108.1L742.1,92.2L718.2,74.8M1827.6,503.5L1820.8,501.7L1814.0,500.0L1807.1,498.2L1800.2,496.4L1793.3,494.6L1786.3,492.8L1779.2,490.9L1772.1,489.0L1765.0,487.2L1757.8,485.2L1750.6,483.3L1743.4,481.4L1736.0,479.4L1728.7,477.4L1721.3,475.4L1713.8,473.4L1706.3,471.3L1698.7,469.2L1691.1,467.1L1683.4,465.0L1675.6,462.8L1667.8,460.6L1660.0,458.4L1652.1,456.2L1644.1,453.9L1636.1,451.6L1628.0,449.3L1619.8,447.0L1611.6,444.6L1603.3,442.2L1594.9,439.7L1586.5,437.2L1578.0,434.7L1569.4,432.2L1560.8,429.6L1552.0,427.0L1543.2,424.3L1534.4,421.6L1525.4,418.9L1516.3,416.1L1507.2,413.2L1498.0,410.4L1488.7,407.5L1479.3,404.5L1469.8,401.5L1460.2,398.4L1450.5,395.3L1440.7,392.1L1430.9,388.9L1420.9,385.6L1410.7,382.3L1400.5,378.9L1390.2,375.4L1379.7,371.8L1369.2,368.2L1358.4,364.6L1347.6,360.8L1336.6,357.0L1325.5,353.0L1314.3,349.0L1302.9,344.9L1291.3,340.7L1279.6,336.5L1267.7,332.1L1255.7,327.6L1243.4,322.9L1231.0,318.2L1218.4,313.3L1205.6,308.4L1192.6,303.2L1179.4,297.9L1165.9,292.5L1152.2,286.9L1138.3,281.1L1124.1,275.1L1109.6,268.9L1094.9,262.5L1079.8,255.9L1064.5,249.0L1048.8,241.9L1032.7,234.4L1016.3,226.7L999.5,218.6L982.2,210.1L964.5,201.2L946.4,191.8L927.7,182.0L908.4,171.6L888.6,160.5L868.1,148.8L846.8,136.2L824.8,122.7L802.0,108.1L778.1,92.2L753.3,74.8M1896.3,503.5L1889.4,501.7L1882.4,500.0L1875.3,498.2L1868.2,496.4L1861.1,494.6L1853.9,492.8L1846.6,490.9L1839.4,489.0L1832.0,487.2L1824.7,485.2L1817.2,483.3L1809.8,481.4L1802.2,479.4L1794.7,477.4L1787.0,475.4L1779.4,473.4L1771.6,471.3L1763.8,469.2L1756.0,467.1L1748.1,465.0L1740.1,462.8L1732.1,460.6L1724.1,458.4L1715.9,456.2L1707.7,453.9L1699.5,451.6L1691.1,449.3L1682.7,447.0L1674.3,444.6L1665.7,442.2L1657.1,439.7L1648.5,437.2L1639.7,434.7L1630.9,432.2L1622.0,429.6L1613.0,427.0L1604.0,424.3L1594.8,421.6L1585.6,418.9L1576.3,416.1L1566.9,413.2L1557.4,410.4L1547.8,407.5L1538.2,404.5L1528.4,401.5L1518.5,398.4L1508.5,395.3L1498.5,392.1L1488.3,388.9L1478.0,385.6L1467.6,382.3L1457.1,378.9L1446.4,375.4L1435.7,371.8L1424.8,368.2L1413.7,364.6L1402.6,360.8L1391.3,357.0L1379.8,353.0L1368.2,349.0L1356.5,344.9L1344.6,340.7L1332.5,336.5L1320.3,332.1L1307.8,327.6L1295.2,322.9L1282.4,318.2L1269.4,313.3L1256.2,308.4L1242.8,303.2L1229.2,297.9L1215.3,292.5L1201.2,286.9L1186.8,281.1L1172.2,275.1L1157.2,268.9L1142.0,262.5L1126.5,255.9L1110.6,249.0L1094.4,241.9L1077.8,234.4L1060.8,226.7L1043.5,218.6L1025.6,210.1L1007.3,201.2L988.5,191.8L969.2,182.0L949.3,171.6L928.7,160.5L907.5,148.8L885.5,136.2L862.6,122.7L838.9,108.1L814.2,92.2L788.3,74.8M1965.1,503.5L1957.9,501.7L1950.7,500.0L1943.5,498.2L1936.2,496.4L1928.9,494.6L1921.5,492.8L1914.0,490.9L1906.6,489.0L1899.0,487.2L1891.5,485.2L1883.8,483.3L1876.2,481.4L1868.4,479.4L1860.7,477.4L1852.8,475.4L1844.9,473.4L1837.0,471.3L1829.0,469.2L1820.9,467.1L1812.8,465.0L1804.6,462.8L1796.4,460.6L1788.1,458.4L1779.8,456.2L1771.3,453.9L1762.8,451.6L1754.3,449.3L1745.6,447.0L1736.9,444.6L1728.2,442.2L1719.3,439.7L1710.4,437.2L1701.4,434.7L1692.4,432.2L1683.2,429.6L1674.0,427.0L1664.7,424.3L1655.3,421.6L1645.8,418.9L1636.2,416.1L1626.6,413.2L1616.8,410.4L1607.0,407.5L1597.0,404.5L1587.0,401.5L1576.8,398.4L1566.6,395.3L1556.2,392.1L1545.7,388.9L1535.1,385.6L1524.4,382.3L1513.6,378.9L1502.7,375.4L1491.6,371.8L1480.4,368.2L1469.0,364.6L1457.5,360.8L1445.9,357.0L1434.1,353.0L1422.2,349.0L1410.1,344.9L1397.8,340.7L1385.4,336.5L1372.8,332.1L1360.0,327.6L1347.0,322.9L1333.8,318.2L1320.5,313.3L1306.9,308.4L1293.0,303.2L1279.0,297.9L1264.7,292.5L1250.1,286.9L1235.3,281.1L1220.2,275.1L1204.8,268.9L1189.1,262.5L1173.1,255.9L1156.7,249.0L1140.0,241.9L1122.9,234.4L1105.4,226.7L1087.4,218.6L1069.0,210.1L1050.1,201.2L1030.7,191.8L1010.7,182.0L990.1,171.6L968.8,160.5L946.9,148.8L924.1,136.2L900.5,122.7L875.9,108.1L850.3,92.2L823.4,74.8M2033.8,503.5L2026.5,501.7L2019.1,500.0L2011.7,498.2L2004.2,496.4L1996.7,494.6L1989.1,492.8L1981.5,490.9L1973.8,489.0L1966.1,487.2L1958.3,485.2L1950.5,483.3L1942.6,481.4L1934.6,479.4L1926.7,477.4L1918.6,475.4L1910.5,473.4L1902.4,471.3L1894.2,469.2L1885.9,467.1L1877.5,465.0L1869.2,462.8L1860.7,460.6L1852.2,458.4L1843.6,456.2L1834.9,453.9L1826.2,451.6L1817.4,449.3L1808.6,447.0L1799.6,444.6L1790.6,442.2L1781.5,439.7L1772.4,437.2L1763.2,434.7L1753.8,432.2L1744.4,429.6L1735.0,427.0L1725.4,424.3L1715.7,421.6L1706.0,418.9L1696.2,416.1L1686.2,413.2L1676.2,410.4L1666.1,407.5L1655.9,404.5L1645.6,401.5L1635.1,398.4L1624.6,395.3L1613.9,392.1L1603.2,388.9L1592.3,385.6L1581.3,382.3L1570.2,378.9L1558.9,375.4L1547.5,371.8L1536.0,368.2L1524.3,364.6L1512.5,360.8L1500.5,357.0L1488.4,353.0L1476.1,349.0L1463.7,344.9L1451.1,340.7L1438.3,336.5L1425.3,332.1L1412.2,327.6L1398.8,322.9L1385.3,318.2L1371.5,313.3L1357.5,308.4L1343.3,303.2L1328.8,297.9L1314.1,292.5L1299.1,286.9L1283.8,281.1L1268.3,275.1L1252.4,268.9L1236.2,262.5L1219.7,255.9L1202.8,249.0L1185.6,241.9L1168.0,234.4L1149.9,226.7L1131.4,218.6L1112.4,210.1L1092.9,201.2L1072.9,191.8L1052.2,182.0L1031.0,171.6L1009.0,160.5L986.3,148.8L962.7,136.2L938.3,122.7L912.9,108.1L886.3,92.2L858.5,74.8M2102.6,503.5L2095.1,501.7L2087.5,500.0L2079.9,498.2L2072.2,496.4L2064.5,494.6L2056.7,492.8L2048.9,490.9L2041.0,489.0L2033.1,487.2L2025.1,485.2L2017.1,483.3L2009.0,481.4L2000.9,479.4L1992.7,477.4L1984.4,475.4L1976.1,473.4L1967.7,471.3L1959.3,469.2L1950.8,467.1L1942.3,465.0L1933.7,462.8L1925.0,460.6L1916.2,458.4L1907.4,456.2L1898.5,453.9L1889.6,451.6L1880.6,449.3L1871.5,447.0L1862.3,444.6L1853.1,442.2L1843.8,439.7L1834.4,437.2L1824.9,434.7L1815.3,432.2L1805.7,429.6L1795.9,427.0L1786.1,424.3L1776.2,421.6L1766.2,418.9L1756.1,416.1L1745.9,413.2L1735.6,410.4L1725.2,407.5L1714.7,404.5L1704.1,401.5L1693.4,398.4L1682.6,395.3L1671.7,392.1L1660.6,388.9L1649.4,385.6L1638.1,382.3L1626.7,378.9L1615.1,375.4L1603.4,371.8L1591.6,368.2L1579.6,364.6L1567.5,360.8L1555.2,357.0L1542.7,353.0L1530.1,349.0L1517.3,344.9L1504.4,340.7L1491.2,336.5L1477.9,332.1L1464.3,327.6L1450.6,322.9L1436.7,318.2L1422.5,313.3L1408.1,308.4L1393.5,303.2L1378.6,297.9L1363.4,292.5L1348.0,286.9L1332.3,281.1L1316.3,275.1L1300.0,268.9L1283.3,262.5L1266.3,255.9L1249.0,249.0L1231.2,241.9L1213.0,234.4L1194.4,226.7L1175.4,218.6L1155.8,210.1L1135.7,201.2L1115.0,191.8L1093.7,182.0L1071.8,171.6L1049.1,160.5L1025.7,148.8L1001.4,136.2L976.1,122.7L949.8,108.1L922.4,92.2L893.6,74.8M2171.3,503.5L2163.6,501.7L2155.9,500.0L2148.0,498.2L2140.2,496.4L2132.3,494.6L2124.3,492.8L2116.3,490.9L2108.2,489.0L2100.1,487.2L2091.9,485.2L2083.7,483.3L2075.4,481.4L2067.1,479.4L2058.7,477.4L2050.2,475.4L2041.7,473.4L2033.1,471.3L2024.5,469.2L2015.8,467.1L2007.0,465.0L1998.2,462.8L1989.3,460.6L1980.3,458.4L1971.3,456.2L1962.1,453.9L1953.0,451.6L1943.7,449.3L1934.4,447.0L1925.0,444.6L1915.5,442.2L1906.0,439.7L1896.3,437.2L1886.6,434.7L1876.8,432.2L1866.9,429.6L1856.9,427.0L1846.8,424.3L1836.7,421.6L1826.4,418.9L1816.1,416.1L1805.6,413.2L1795.0,410.4L1784.4,407.5L1773.6,404.5L1762.7,401.5L1751.7,398.4L1740.6,395.3L1729.4,392.1L1718.0,388.9L1706.6,385.6L1695.0,382.3L1683.2,378.9L1671.4,375.4L1659.3,371.8L1647.2,368.2L1634.9,364.6L1622.4,360.8L1609.8,357.0L1597.0,353.0L1584.1,349.0L1570.9,344.9L1557.6,340.7L1544.1,336.5L1530.4,332.1L1516.5,327.6L1502.4,322.9L1488.1,318.2L1473.5,313.3L1458.7,308.4L1443.7,303.2L1428.4,297.9L1412.8,292.5L1397.0,286.9L1380.8,281.1L1364.4,275.1L1347.6,268.9L1330.4,262.5L1313.0,255.9L1295.1,249.0L1276.8,241.9L1258.1,234.4L1239.0,226.7L1219.3,218.6L1199.2,210.1L1178.5,201.2L1157.2,191.8L1135.3,182.0L1112.6,171.6L1089.3,160.5L1065.1,148.8L1040.0,136.2L1014.0,122.7L986.8,108.1L958.5,92.2L928.7,74.8M2240.1,503.5L2232.2,501.7L2224.2,500.0L2216.2,498.2L2208.2,496.4L2200.1,494.6L2191.9,492.8L2183.7,490.9L2175.4,489.0L2167.1,487.2L2158.7,485.2L2150.3,483.3L2141.8,481.4L2133.3,479.4L2124.6,477.4L2116.0,475.4L2107.3,473.4L2098.5,471.3L2089.6,469.2L2080.7,467.1L2071.7,465.0L2062.7,462.8L2053.5,460.6L2044.3,458.4L2035.1,456.2L2025.8,453.9L2016.4,451.6L2006.9,449.3L1997.3,447.0L1987.7,444.6L1978.0,442.2L1968.2,439.7L1958.3,437.2L1948.3,434.7L1938.3,432.2L1928.1,429.6L1917.9,427.0L1907.6,424.3L1897.1,421.6L1886.6,418.9L1876.0,416.1L1865.3,413.2L1854.4,410.4L1843.5,407.5L1832.5,404.5L1821.3,401.5L1810.0,398.4L1798.6,395.3L1787.1,392.1L1775.5,388.9L1763.7,385.6L1751.8,382.3L1739.8,378.9L1727.6,375.4L1715.3,371.8L1702.8,368.2L1690.2,364.6L1677.4,360.8L1664.4,357.0L1651.3,353.0L1638.0,349.0L1624.5,344.9L1610.9,340.7L1597.0,336.5L1583.0,332.1L1568.7,327.6L1554.2,322.9L1539.5,318.2L1524.5,313.3L1509.3,308.4L1493.9,303.2L1478.2,297.9L1462.2,292.5L1445.9,286.9L1429.3,281.1L1412.4,275.1L1395.2,268.9L1377.6,262.5L1359.6,255.9L1341.2,249.0L1322.4,241.9L1303.2,234.4L1283.5,226.7L1263.3,218.6L1242.6,210.1L1221.3,201.2L1199.4,191.8L1176.8,182.0L1153.5,171.6L1129.4,160.5L1104.5,148.8L1078.7,136.2L1051.8,122.7L1023.8,108.1L994.5,92.2L963.8,74.8M2308.9,503.5L2300.8,501.7L2292.6,500.0L2284.4,498.2L2276.2,496.4L2267.9,494.6L2259.5,492.8L2251.1,490.9L2242.6,489.0L2234.1,487.2L2225.5,485.2L2216.9,483.3L2208.2,481.4L2199.5,479.4L2190.6,477.4L2181.8,475.4L2172.8,473.4L2163.8,471.3L2154.8,469.2L2145.6,467.1L2136.4,465.0L2127.2,462.8L2117.8,460.6L2108.4,458.4L2098.9,456.2L2089.4,453.9L2079.7,451.6L2070.0,449.3L2060.2,447.0L2050.4,444.6L2040.4,442.2L2030.4,439.7L2020.2,437.2L2010.0,434.7L1999.7,432.2L1989.3,429.6L1978.9,427.0L1968.3,424.3L1957.6,421.6L1946.8,418.9L1935.9,416.1L1924.9,413.2L1913.9,410.4L1902.6,407.5L1891.3,404.5L1879.9,401.5L1868.3,398.4L1856.7,395.3L1844.9,392.1L1832.9,388.9L1820.9,385.6L1808.7,382.3L1796.3,378.9L1783.8,375.4L1771.2,371.8L1758.4,368.2L1745.5,364.6L1732.3,360.8L1719.1,357.0L1705.6,353.0L1692.0,349.0L1678.2,344.9L1664.1,340.7L1649.9,336.5L1635.5,332.1L1620.9,327.6L1606.0,322.9L1590.9,318.2L1575.6,313.3L1560.0,308.4L1544.1,303.2L1528.0,297.9L1511.6,292.5L1494.8,286.9L1477.8,281.1L1460.5,275.1L1442.7,268.9L1424.7,262.5L1406.2,255.9L1387.3,249.0L1368.0,241.9L1348.3,234.4L1328.0,226.7L1307.3,218.6L1286.0,210.1L1264.1,201.2L1241.5,191.8L1218.3,182.0L1194.3,171.6L1169.6,160.5L1143.9,148.8L1117.3,136.2L1089.6,122.7L1060.8,108.1L1030.6,92.2L998.9,74.8M2377.6,503.5L2369.3,501.7L2361.0,500.0L2352.6,498.2L2344.2,496.4L2335.7,494.6L2327.1,492.8L2318.5,490.9L2309.8,489.0L2301.1,487.2L2292.3,485.2L2283.5,483.3L2274.6,481.4L2265.7,479.4L2256.6,477.4L2247.6,475.4L2238.4,473.4L2229.2,471.3L2219.9,469.2L2210.6,467.1L2201.2,465.0L2191.7,462.8L2182.1,460.6L2172.5,458.4L2162.8,456.2L2153.0,453.9L2143.1,451.6L2133.2,449.3L2123.1,447.0L2113.0,444.6L2102.8,442.2L2092.6,439.7L2082.2,437.2L2071.8,434.7L2061.2,432.2L2050.6,429.6L2039.8,427.0L2029.0,424.3L2018.1,421.6L2007.0,418.9L1995.9,416.1L1984.6,413.2L1973.3,410.4L1961.8,407.5L1950.2,404.5L1938.5,401.5L1926.6,398.4L1914.7,395.3L1902.6,392.1L1890.4,388.9L1878.0,385.6L1865.5,382.3L1852.9,378.9L1840.1,375.4L1827.1,371.8L1814.0,368.2L1800.7,364.6L1787.3,360.8L1773.7,357.0L1759.9,353.0L1745.9,349.0L1731.8,344.9L1717.4,340.7L1702.8,336.5L1688.0,332.1L1673.0,327.6L1657.8,322.9L1642.3,318.2L1626.6,313.3L1610.6,308.4L1594.3,303.2L1577.8,297.9L1560.9,292.5L1543.8,286.9L1526.3,281.1L1508.5,275.1L1490.3,268.9L1471.8,262.5L1452.8,255.9L1433.5,249.0L1413.6,241.9L1393.4,234.4L1372.6,226.7L1351.3,218.6L1329.4,210.1L1306.9,201.2L1283.7,191.8L1259.8,182.0L1235.2,171.6L1209.7,160.5L1183.3,148.8L1155.9,136.2L1127.4,122.7L1097.7,108.1L1066.6,92.2L1034.0,74.8M2446.4,503.5L2437.9,501.7L2429.4,500.0L2420.8,498.2L2412.1,496.4L2403.5,494.6L2394.7,492.8L2385.9,490.9L2377.1,489.0L2368.1,487.2L2359.2,485.2L2350.1,483.3L2341.0,481.4L2331.9,479.4L2322.6,477.4L2313.3,475.4L2304.0,473.4L2294.6,471.3L2285.1,469.2L2275.5,467.1L2265.9,465.0L2256.2,462.8L2246.4,460.6L2236.5,458.4L2226.6,456.2L2216.6,453.9L2206.5,451.6L2196.3,449.3L2186.1,447.0L2175.7,444.6L2165.3,442.2L2154.8,439.7L2144.2,437.2L2133.5,434.7L2122.7,432.2L2111.8,429.6L2100.8,427.0L2089.7,424.3L2078.5,421.6L2067.2,418.9L2055.8,416.1L2044.3,413.2L2032.7,410.4L2020.9,407.5L2009.1,404.5L1997.1,401.5L1984.9,398.4L1972.7,395.3L1960.3,392.1L1947.8,388.9L1935.2,385.6L1922.4,382.3L1909.4,378.9L1896.3,375.4L1883.0,371.8L1869.6,368.2L1856.0,364.6L1842.3,360.8L1828.3,357.0L1814.2,353.0L1799.9,349.0L1785.4,344.9L1770.7,340.7L1755.7,336.5L1740.6,332.1L1725.2,327.6L1709.6,322.9L1693.7,318.2L1677.6,313.3L1661.2,308.4L1644.5,303.2L1627.6,297.9L1610.3,292.5L1592.7,286.9L1574.8,281.1L1556.6,275.1L1537.9,268.9L1518.9,262.5L1499.5,255.9L1479.6,249.0L1459.3,241.9L1438.4,234.4L1417.1,226.7L1395.2,218.6L1372.7,210.1L1349.6,201.2L1325.9,191.8L1301.3,182.0L1276.0,171.6L1249.8,160.5L1222.7,148.8L1194.6,136.2L1165.3,122.7L1134.7,108.1L1102.7,92.2L1069.1,74.8" stroke="#0f0"/>
<path d="M235.5,499.9L234.0,498.7L232.5,497.5L231.1,496.3M226.6,492.7L225.1,491.5L223.6,490.3L222.1,489.1M296.7,499.9L295.3,498.7L293.8,497.5L292.4,496.3M288.1,492.7L286.6,491.5L285.2,490.3L283.7,489.1M279.3,485.4L277.8,484.2L276.4,483.0L274.9,481.7M270.4,478.0L268.9,476.8L267.4,475.6L265.9,474.3M261.3,470.6L259.8,469.3L258.3,468.1L256.7,466.8M252.1,463.0L250.6,461.7L249.0,460.5L247.5,459.2M352.3,499.9L351.1,498.7L349.8,497.5L348.5,496.3M344.6,492.7L343.2,491.5L341.9,490.3L340.6,489.1M336.5,485.4L335.1,484.2L333.8,483.0L332.4,481.7M328.2,478.0L326.8,476.8L325.3,475.6L323.9,474.3M319.6,470.6L318.1,469.3L316.7,468.1L315.2,466.8M310.7,463.0L309.3,461.7L307.8,460.5L306.3,459.2M301.7,455.4L300.2,454.1L298.7,452.8L297.1,451.5M292.5,447.6L290.9,446.3L289.4,445.0L287.8,443.7M283.1,439.8L281.5,438.5L280.0,437.2L278.4,435.9M273.6,431.9L272.7,431.1L271.8,430.3L270.9,429.6M401.2,499.9L400.1,498.7L399.0,497.5L397.9,496.3M394.5,492.7L393.4,491.5L392.3,490.3L391.1,489.1M387.6,485.4L386.4,484.2L385.2,483.0L384.0,481.7M380.3,478.0L379.0,476.8L377.8,475.6L376.5,474.3M372.6,470.6L371.3,469.3L370.0,468.1L368.7,466.8M364.6,463.0L363.3,461.7L361.9,460.5L360.5,459.2M356.3,455.4L354.9,454.1L353.5,452.8L352.1,451.5M347.7,447.6L346.2,446.3L344.8,445.0L343.3,443.7M338.8,439.8L337.3,438.5L335.8,437.2L334.3,435.9M329.7,431.9L328.1,430.5L326.6,429.2L325.0,427.9M320.3,423.8L318.7,422.5L317.1,421.1L315.5,419.8M310.7,415.7L309.1,414.3L307.5,413.0L305.9,411.6M301.0,407.5L299.4,406.1L297.8,404.7L296.1,403.3M441.5,499.9L440.6,498.7L439.7,497.5L438.8,496.3M436.1,492.7L435.1,491.5L434.2,490.3L433.2,489.1M430.3,485.4L429.3,484.2L428.3,483.0L427.3,481.7M424.2,478.0L423.1,476.8L422.0,475.6L421.0,474.3M417.7,470.6L416.5,469.3L415.4,468.1L414.3,466.8M410.8,463.0L409.6,461.7L408.4,460.5L407.2,459.2M403.5,455.4L402.3,454.1L401.1,452.8L399.8,451.5M395.9,447.6L394.6,446.3L393.3,445.0L392.0,443.7M387.9,439.8L386.6,438.5L385.2,437.2L383.8,435.9M379.6,431.9L378.1,430.5L376.7,429.2L375.3,427.9M370.9,423.8L369.4,422.5L367.9,421.1L366.4,419.8M361.8,415.7L360.3,414.3L358.8,413.0L357.2,411.6M352.5,407.5L350.9,406.1L349.3,404.7L347.8,403.3M342.9,399.1L341.3,397.7L339.7,396.3L338.1,394.9M333.1,390.7L331.5,389.3L329.9,387.8L328.2,386.4M323.2,382.1L321.6,380.7L319.9,379.2L318.2,377.8M475.9,499.9L475.2,498.7L474.5,497.5L473.8,496.3M471.6,492.7L470.8,491.5L470.1,490.3L469.3,489.1M466.9,485.4L466.1,484.2L465.3,483.0L464.5,481.7M462.0,478.0L461.1,476.8L460.2,475.6L459.4,474.3M456.7,470.6L455.7,469.3L454.8,468.1L453.9,466.8M451.0,463.0L450.0,461.7L449.0,460.5L448.0,459.2M445.0,455.4L443.9,454.1L442.9,452.8L441.8,451.5M438.5,447.6L437.4,446.3L436.3,445.0L435.2,443.7M431.7,439.8L430.5,438.5L429.3,437.2L428.1,435.9M424.4,431.9L423.2,430.5L421.9,429.2L420.7,427.9M416.8,423.8L415.5,422.5L414.1,421.1L412.8,419.8M408.7,415.7L407.3,414.3L405.9,413.0L404.5,411.6M400.2,407.5L398.8,406.1L397.3,404.7L395.8,403.3M391.4,399.1L389.8,397.7L388.3,396.3L386.8,394.9M382.1,390.7L380.6,389.3L379.0,387.8L377.4,386.4M372.6,382.1L371.0,380.7L369.4,379.2L367.8,377.8M362.9,373.4L361.3,372.0L359.7,370.5L358.0,369.0M353.0,364.6L351.3,363.1L349.6,361.7L348.0,360.2M342.9,355.7L341.2,354.2L339.5,352.7L337.8,351.2M505.3,499.9L504.8,498.7L504.2,497.5L503.7,496.3M501.9,492.7L501.3,491.5L500.7,490.3L500.1,489.1M498.3,485.4L497.6,484.2L497.0,483.0L496.3,481.7M494.3,478.0L493.6,476.8L493.0,475.6L492.3,474.3M490.1,470.6L489.4,469.3L488.6,468.1L487.9,466.8M485.6,463.0L484.8,461.7L484.0,460.5L483.2,459.2M480.7,455.4L479.8,454.1L479.0,452.8L478.1,451.5M475.5,447.6L474.5,446.3L473.6,445.0L472.7,443.7M469.8,439.8L468.9,438.5L467.9,437.2L466.9,435.9M463.8,431.9L462.8,430.5L461.7,429.2L460.7,427.9M457.4,423.8L456.3,422.5L455.1,421.1L454.0,419.8M450.5,415.7L449.3,414.3L448.1,413.0L446.9,411.6M443.2,407.5L441.9,406.1L440.6,404.7L439.3,403.3M435.4,399.1L434.0,397.7L432.7,396.3L431.3,394.9M427.1,390.7L425.7,389.3L424.3,387.8L422.8,386.4M418.5,382.1L417.0,380.7L415.6,379.2L414.1,377.8M409.6,373.4L408.0,372.0L406.5,370.5L405.0,369.0M400.2,364.6L398.7,363.1L397.1,361.7L395.5,360.2M390.6,355.7L388.9,354.2L387.3,352.7L385.7,351.2M380.6,346.6L379.0,345.1L377.3,343.6L375.6,342.1M370.4,337.4L368.7,335.9L367.0,334.4L365.3,332.8M360.1,328.1L359.5,327.6L358.9,327.0L358.2,326.5M530.6,499.9L530.2,498.7L529.8,497.5L529.3,496.3M528.0,492.7L527.5,491.5L527.0,490.3L526.6,489.1M525.1,485.4L524.6,484.2L524.1,483.0L523.6,481.7M522.1,478.0L521.5,476.8L521.0,475.6L520.4,474.3M518.8,470.6L518.2,469.3L517.6,468.1L517.0,466.8M515.2,463.0L514.6,461.7L513.9,460.5L513.3,459.2M511.3,455.4L510.7,454.1L510.0,452.8L509.3,451.5M507.2,447.6L506.5,446.3L505.7,445.0L505.0,443.7M502.7,439.8L501.9,438.5L501.1,437.2L500.3,435.9M497.9,431.9L497.0,430.5L496.2,429.2L495.3,427.9M492.6,423.8L491.7,422.5L490.8,421.1L489.9,419.8M487.0,415.7L486.0,414.3L485.0,413.0L484.0,411.6M480.9,407.5L479.8,406.1L478.8,404.7L477.7,403.3M474.4,399.1L473.2,397.7L472.1,396.3L470.9,394.9M467.3,390.7L466.1,389.3L464.9,387.8L463.6,386.4M459.9,382.1L458.6,380.7L457.3,379.2L456.0,377.8M452.1,373.4L450.7,372.0L449.3,370.5L448.0,369.0M443.7,364.6L442.3,363.1L440.9,361.7L439.4,360.2M435.0,355.7L433.5,354.2L432.0,352.7L430.5,351.2M425.8,346.6L424.2,345.1L422.6,343.6L421.0,342.1M416.2,337.4L414.6,335.9L412.9,334.4L411.3,332.8M406.2,328.1L404.5,326.6L402.9,325.0L401.2,323.4M396.0,318.7L394.3,317.1L392.5,315.5L390.8,313.9M385.5,309.1L383.7,307.4L382.0,305.8L380.2,304.2M552.5,499.9L552.2,498.7L551.9,497.5L551.5,496.3M550.5,492.7L550.2,491.5L549.8,490.3L549.4,489.1M548.3,485.4L547.9,484.2L547.6,483.0L547.2,481.7M546.0,478.0L545.6,476.8L545.2,475.6L544.7,474.3M543.4,470.6L543.0,469.3L542.5,468.1L542.1,466.8M540.7,463.0L540.2,461.7L539.7,460.5L539.2,459.2M537.7,455.4L537.2,454.1L536.7,452.8L536.1,451.5M534.5,447.6L533.9,446.3L533.3,445.0L532.8,443.7M531.0,439.8L530.4,438.5L529.7,437.2L529.1,435.9M527.2,431.9L526.5,430.5L525.8,429.2L525.1,427.9M523.0,423.8L522.3,422.5L521.6,421.1L520.8,419.8M518.5,415.7L517.7,414.3L516.9,413.0L516.1,411.6M513.6,407.5L512.8,406.1L511.9,404.7L511.0,403.3M508.3,399.1L507.4,397.7L506.4,396.3L505.5,394.9M502.5,390.7L501.5,389.3L500.5,387.8L499.5,386.4M496.4,382.1L495.3,380.7L494.3,379.2L493.2,377.8M489.8,373.4L488.7,372.0L487.5,370.5L486.4,369.0M482.8,364.6L481.6,363.1L480.3,361.7L479.1,360.2M475.2,355.7L473.9,354.2L472.6,352.7L471.2,351.2M467.1,346.6L465.7,345.1L464.3,343.6L462.9,342.1M458.5,337.4L457.0,335.9L455.5,334.4L454.0,332.8M449.4,328.1L447.9,326.6L446.3,325.0L444.7,323.4M439.9,318.7L438.2,317.1L436.6,315.5L435.0,313.9M429.9,309.1L428.2,307.4L426.5,305.8L424.8,304.2M419.6,299.3L417.9,297.7L416.1,296.0L414.4,294.4M409.0,289.4L407.2,287.8L405.4,286.1L403.7,284.4M571.7,499.9L571.4,498.7L571.2,497.5L571.0,496.3M570.2,492.7L569.9,491.5L569.7,490.3L569.4,489.1M568.6,485.4L568.3,484.2L568.0,483.0L567.7,481.7M566.8,478.0L566.5,476.8L566.2,475.6L565.9,474.3M564.9,470.6L564.5,469.3L564.2,468.1L563.9,466.8M562.8,463.0L562.4,461.7L562.1,460.5L561.7,459.2M560.5,455.4L560.1,454.1L559.7,452.8L559.3,451.5M558.1,447.6L557.6,446.3L557.2,445.0L556.8,443.7M555.4,439.8L554.9,438.5L554.4,437.2L553.9,435.9M552.4,431.9L551.9,430.5L551.4,429.2L550.9,427.9M549.2,423.8L548.7,422.5L548.1,421.1L547.5,419.8M545.7,415.7L545.1,414.3L544.5,413.0L543.9,411.6M541.9,407.5L541.2,406.1L540.5,404.7L539.8,403.3M537.7,399.1L536.9,397.7L536.2,396.3L535.4,394.9M533.1,390.7L532.3,389.3L531.5,387.8L530.6,386.4M528.1,382.1L527.3,380.7L526.4,379.2L525.6,377.8M522.9,373.4L521.9,372.0L521.0,370.5L520.1,369.0M517.1,364.6L516.1,363.1L515.1,361.7L514.0,360.2M510.8,355.7L509.7,354.2L508.6,352.7L507.5,351.2M504.0,346.6L502.9,345.1L501.7,343.6L500.4,342.1M496.7,337.4L495.4,335.9L494.1,334.4L492.8,332.8M488.8,328.1L487.4,326.6L486.0,325.0L484.6,323.4M480.3,318.7L478.8,317.1L477.4,315.5L475.9,313.9M471.3,309.1L469.7,307.4L468.2,305.8L466.6,304.2M461.8,299.3L460.1,297.7L458.5,296.0L456.8,294.4M451.8,289.4L450.1,287.8L448.4,286.1L446.7,284.4M441.4,279.4L439.6,277.7L437.9,276.0L436.1,274.3M430.7,269.1L428.9,267.4L427.1,265.7L425.2,264.0M419.7,258.8L419.2,258.2L418.6,257.7L418.0,257.2M588.6,499.9L588.4,498.7L588.3,497.5L588.1,496.3M587.5,492.7L587.3,491.5L587.2,490.3L587.0,489.1M586.4,485.4L586.2,484.2L585.9,483.0L585.7,481.7M585.1,478.0L584.8,476.8L584.6,475.6L584.4,474.3M583.7,470.6L583.4,469.3L583.2,468.1L582.9,466.8M582.1,463.0L581.9,461.7L581.6,460.5L581.3,459.2M580.5,455.4L580.2,454.1L579.9,452.8L579.6,451.5M578.6,447.6L578.3,446.3L578.0,445.0L577.6,443.7M576.6,439.8L576.2,438.5L575.9,437.2L575.5,435.9M574.4,431.9L574.0,430.5L573.6,429.2L573.2,427.9M572.0,423.8L571.5,422.5L571.1,421.1L570.7,419.8M569.3,415.7L568.8,414.3L568.3,413.0L567.8,411.6M566.3,407.5L565.8,406.1L565.3,404.7L564.7,403.3M563.1,399.1L562.5,397.7L561.9,396.3L561.3,394.9M559.5,390.7L558.9,389.3L558.2,387.8L557.6,386.4M555.6,382.1L555.0,380.7L554.3,379.2L553.6,377.8M551.5,373.4L550.8,372.0L550.0,370.5L549.3,369.0M547.0,364.6L546.2,363.1L545.4,361.7L544.5,360.2M542.0,355.7L541.1,354.2L540.2,352.7L539.3,351.2M536.5,346.6L535.5,345.1L534.5,343.6L533.5,342.1M530.4,337.4L529.4,335.9L528.3,334.4L527.2,332.8M523.8,328.1L522.7,326.6L521.5,325.0L520.3,323.4M516.7,318.7L515.4,317.1L514.1,315.5L512.9,313.9M508.9,309.1L507.5,307.4L506.2,305.8L504.8,304.2M500.5,299.3L499.0,297.7L497.6,296.0L496.1,294.4M491.5,289.4L490.0,287.8L488.4,286.1L486.8,284.4M482.0,279.4L480.3,277.7L478.7,276.0L477.0,274.3M471.9,269.1L470.2,267.4L468.5,265.7L466.8,264.0M461.4,258.8L459.7,257.0L457.9,255.3L456.1,253.5M450.6,248.2L448.7,246.4L446.9,244.7L445.1,242.9M439.4,237.5L438.7,236.7L437.9,236.0L437.1,235.3M603.7,499.9L603.6,498.7L603.5,497.5L603.4,496.3M603.0,492.7L602.8,491.5L602.7,490.3L602.6,489.1M602.2,485.4L602.0,484.2L601.9,483.0L601.7,481.7M601.3,478.0L601.1,476.8L601.0,475.6L600.8,474.3M600.3,470.6L600.1,469.3L599.9,468.1L599.8,466.8M599.2,463.0L599.0,461.7L598.8,460.5L598.6,459.2M598.0,455.4L597.8,454.1L597.6,452.8L597.4,451.5M596.7,447.6L596.5,446.3L596.2,445.0L596.0,443.7M595.2,439.8L595.0,438.5L594.7,437.2L594.4,435.9M593.6,431.9L593.3,430.5L593.0,429.2L592.7,427.9M591.8,423.8L591.5,422.5L591.2,421.1L590.9,419.8M589.8,415.7L589.5,414.3L589.1,413.0L588.8,411.6M587.6,407.5L587.2,406.1L586.8,404.7L586.4,403.3M585.2,399.1L584.7,397.7L584.3,396.3L583.9,394.9M582.5,390.7L582.0,389.3L581.5,387.8L581.0,386.4M579.5,382.1L579.0,380.7L578.5,379.2L578.0,377.8M576.4,373.4L575.8,372.0L575.3,370.5L574.7,369.0M572.9,364.6L572.3,363.1L571.6,361.7L571.0,360.2M569.0,355.7L568.3,354.2L567.6,352.7L566.9,351.2M564.7,346.6L563.9,345.1L563.2,343.6L562.4,342.1M559.9,337.4L559.1,335.9L558.2,334.4L557.3,332.8M554.6,328.1L553.7,326.6L552.7,325.0L551.8,323.4M548.8,318.7L547.7,317.1L546.7,315.5L545.6,313.9M542.3,309.1L541.2,307.4L540.1,305.8L538.9,304.2M535.3,299.3L534.0,297.7L532.8,296.0L531.5,294.4M527.6,289.4L526.2,287.8L524.9,286.1L523.5,284.4M519.2,279.4L517.8,277.7L516.3,276.0L514.8,274.3M510.2,269.1L508.7,267.4L507.1,265.7L505.5,264.0M500.6,258.8L499.0,257.0L497.3,255.3L495.6,253.5M490.5,248.2L488.7,246.4L487.0,244.7L485.2,242.9M479.8,237.5L478.0,235.7L476.2,233.9L474.4,232.1M468.8,226.6L466.9,224.7L465.0,222.9L463.2,221.0M457.4,215.4L456.9,214.9L456.4,214.4L455.8,213.9M617.8,499.9L617.7,498.7L617.6,497.5L617.6,496.3M617.3,492.7L617.3,491.5L617.2,490.3L617.1,489.1M616.9,485.4L616.8,484.2L616.7,483.0L616.6,481.7M616.3,478.0L616.2,476.8L616.1,475.6L616.0,474.3M615.7,470.6L615.6,469.3L615.5,468.1L615.3,466.8M615.0,463.0L614.9,461.7L614.7,460.5L614.6,459.2M614.2,455.4L614.1,454.1L613.9,452.8L613.8,451.5M613.3,447.6L613.2,446.3L613.0,445.0L612.8,443.7M612.3,439.8L612.2,438.5L612.0,437.2L611.8,435.9M611.2,431.9L611.0,430.5L610.8,429.2L610.6,427.9M610.0,423.8L609.8,422.5L609.5,421.1L609.3,419.8M608.6,415.7L608.3,414.3L608.1,413.0L607.8,411.6M607.0,407.5L606.7,406.1L606.4,404.7L606.2,403.3M605.2,399.1L604.9,397.7L604.6,396.3L604.3,394.9M603.3,390.7L602.9,389.3L602.6,387.8L602.2,386.4M601.1,382.1L600.8,380.7L600.4,379.2L600.0,377.8M598.8,373.4L598.4,372.0L598.0,370.5L597.6,369.0M596.2,364.6L595.8,363.1L595.3,361.7L594.8,360.2M593.3,355.7L592.8,354.2L592.3,352.7L591.7,351.2M590.0,346.6L589.5,345.1L588.9,343.6L588.3,342.1M586.4,337.4L585.7,335.9L585.1,334.4L584.4,332.8M582.3,328.1L581.5,326.6L580.8,325.0L580.0,323.4M577.7,318.7L576.9,317.1L576.0,315.5L575.2,313.9M572.5,309.1L571.6,307.4L570.7,305.8L569.8,304.2M566.8,299.3L565.8,297.7L564.8,296.0L563.8,294.4M560.5,289.4L559.4,287.8L558.2,286.1L557.1,284.4M553.5,279.4L552.3,277.7L551.0,276.0L549.7,274.3M545.8,269.1L544.4,267.4L543.1,265.7L541.7,264.0M537.4,258.8L535.9,257.0L534.4,255.3L533.0,253.5M528.3,248.2L526.7,246.4L525.1,244.7L523.5,242.9M518.5,237.5L516.9,235.7L515.2,233.9L513.5,232.1M508.2,226.6L506.4,224.7L504.6,222.9L502.8,221.0M497.3,215.4L495.4,213.6L493.6,211.7L491.7,209.8M486.0,204.1L484.0,202.2L482.1,200.3L480.2,198.4M630.4,499.9L630.4,498.7L630.4,497.5L630.4,496.3M630.3,492.7L630.2,491.5L630.2,490.3L630.2,489.1M630.0,485.4L630.0,484.2L630.0,483.0L629.9,481.7M629.8,478.0L629.7,476.8L629.7,475.6L629.6,474.3M629.5,470.6L629.4,469.3L629.3,468.1L629.3,466.8M629.1,463.0L629.0,461.7L628.9,460.5L628.9,459.2M628.6,455.4L628.6,454.1L628.5,452.8L628.4,451.5M628.1,447.6L628.0,446.3L627.9,445.0L627.8,443.7M627.5,439.8L627.4,438.5L627.3,437.2L627.2,435.9M626.8,431.9L626.7,430.5L626.6,429.2L626.5,427.9M626.0,423.8L625.9,422.5L625.8,421.1L625.6,419.8M625.1,415.7L625.0,414.3L624.8,413.0L624.6,411.6M624.1,407.5L623.9,406.1L623.7,404.7L623.5,403.3M622.9,399.1L622.7,397.7L622.4,396.3L622.2,394.9M621.5,390.7L621.3,389.3L621.0,387.8L620.8,386.4M620.0,382.1L619.8,380.7L619.5,379.2L619.2,377.8M618.4,373.4L618.1,372.0L617.8,370.5L617.5,369.0M616.6,364.6L616.2,363.1L615.9,361.7L615.5,360.2M614.5,355.7L614.1,354.2L613.7,352.7L613.3,351.2M612.1,346.6L611.6,345.1L611.2,343.6L610.7,342.1M609.3,337.4L608.8,335.9L608.4,334.4L607.8,332.8M606.3,328.1L605.7,326.6L605.1,325.0L604.6,323.4M602.8,318.7L602.1,317.1L601.5,315.5L600.8,313.9M598.8,309.1L598.1,307.4L597.4,305.8L596.6,304.2M594.3,299.3L593.5,297.7L592.7,296.0L591.9,294.4M589.3,289.4L588.4,287.8L587.5,286.1L586.6,284.4M583.7,279.4L582.7,277.7L581.6,276.0L580.6,274.3M577.3,269.1L576.2,267.4L575.1,265.7L573.9,264.0M570.3,258.8L569.1,257.0L567.8,255.3L566.5,253.5M562.5,248.2L561.2,246.4L559.8,244.7L558.4,242.9M554.0,237.5L552.5,235.7L551.0,233.9L549.5,232.1M544.7,226.6L543.1,224.7L541.5,222.9L539.9,221.0M534.8,215.4L533.0,213.6L531.3,211.7L529.5,209.8M524.1,204.1L522.3,202.2L520.4,200.3L518.6,198.4M512.9,192.6L511.0,190.7L509.1,188.8L507.2,186.8M501.3,180.9L499.3,178.9L497.3,177.0L495.3,175.0M641.9,499.9L641.9,498.7L641.9,497.5L642.0,496.3M642.0,492.7L642.0,491.5L642.0,490.3L642.0,489.1M642.0,485.4L642.0,484.2L642.0,483.0L641.9,481.7M641.9,478.0L641.9,476.8L641.9,475.6L641.9,474.3M641.9,470.6L641.8,469.3L641.8,468.1L641.8,466.8M641.8,463.0L641.7,461.7L641.7,460.5L641.7,459.2M641.6,455.4L641.6,454.1L641.5,452.8L641.5,451.5M641.4,447.6L641.4,446.3L641.3,445.0L641.3,443.7M641.1,439.8L641.1,438.5L641.0,437.2L641.0,435.9M640.8,431.9L640.7,430.5L640.7,429.2L640.6,427.9M640.4,423.8L640.3,422.5L640.2,421.1L640.1,419.8M639.9,415.7L639.8,414.3L639.7,413.0L639.6,411.6M639.2,407.5L639.1,406.1L639.0,404.7L638.9,403.3M638.5,399.1L638.4,397.7L638.2,396.3L638.1,394.9M637.6,390.7L637.5,389.3L637.3,387.8L637.1,386.4M636.7,382.1L636.5,380.7L636.3,379.2L636.2,377.8M635.6,373.4L635.4,372.0L635.2,370.5L635.0,369.0M634.4,364.6L634.2,363.1L634.0,361.7L633.7,360.2M633.0,355.7L632.7,354.2L632.4,352.7L632.2,351.2M631.3,346.6L631.0,345.1L630.7,343.6L630.4,342.1M629.4,337.4L629.0,335.9L628.7,334.4L628.3,332.8M627.1,328.1L626.7,326.6L626.3,325.0L625.9,323.4M624.6,318.7L624.1,317.1L623.6,315.5L623.2,313.9M621.6,309.1L621.1,307.4L620.6,305.8L620.0,304.2M618.3,299.3L617.7,297.7L617.0,296.0L616.4,294.4M614.4,289.4L613.7,287.8L613.0,286.1L612.3,284.4M610.0,279.4L609.2,277.7L608.4,276.0L607.6,274.3M605.0,269.1L604.1,267.4L603.2,265.7L602.3,264.0M599.4,258.8L598.4,257.0L597.3,255.3L596.3,253.5M593.0,248.2L591.9,246.4L590.7,244.7L589.5,242.9M585.9,237.5L584.6,235.7L583.3,233.9L582.0,232.1M577.9,226.6L576.5,224.7L575.1,222.9L573.7,221.0M569.2,215.4L567.6,213.6L566.1,211.7L564.5,209.8M559.6,204.1L558.0,202.2L556.3,200.3L554.6,198.4M549.3,192.6L547.5,190.7L545.7,188.8L543.9,186.8M538.3,180.9L536.4,178.9L534.5,177.0L532.6,175.0M526.7,169.0L524.8,167.0L522.8,165.0L520.8,162.9M514.7,156.8L513.2,155.3L511.7,153.8L510.2,152.2M652.4,499.9L652.4,498.7L652.5,497.5L652.5,496.3M652.6,492.7L652.7,491.5L652.7,490.3L652.7,489.1M652.8,485.4L652.8,484.2L652.9,483.0L652.9,481.7M653.0,478.0L653.0,476.8L653.0,475.6L653.1,474.3M653.1,470.6L653.1,469.3L653.2,468.1L653.2,466.8M653.2,463.0L653.3,461.7L653.3,460.5L653.3,459.2M653.3,455.4L653.3,454.1L653.4,452.8L653.4,451.5M653.4,447.6L653.4,446.3L653.4,445.0L653.4,443.7M653.4,439.8L653.4,438.5L653.4,437.2L653.4,435.9M653.3,431.9L653.3,430.5L653.3,429.2L653.3,427.9M653.2,423.8L653.2,422.5L653.2,421.1L653.2,419.8M653.1,415.7L653.0,414.3L653.0,413.0L652.9,411.6M652.8,407.5L652.7,406.1L652.7,404.7L652.6,403.3M652.5,399.1L652.4,397.7L652.3,396.3L652.2,394.9M652.0,390.7L651.9,389.3L651.8,387.8L651.7,386.4M651.5,382.1L651.4,380.7L651.3,379.2L651.2,377.8M650.9,373.4L650.8,372.0L650.7,370.5L650.6,369.0M650.2,364.6L650.1,363.1L649.9,361.7L649.8,360.2M649.3,355.7L649.2,354.2L649.0,352.7L648.8,351.2M648.3,346.6L648.1,345.1L647.9,343.6L647.7,342.1M647.0,337.4L646.8,335.9L646.5,334.4L646.3,332.8M645.5,328.1L645.2,326.6L644.9,325.0L644.6,323.4M643.7,318.7L643.4,317.1L643.0,315.5L642.7,313.9M641.6,309.1L641.2,307.4L640.8,305.8L640.4,304.2M639.1,299.3L638.7,297.7L638.2,296.0L637.8,294.4M636.3,289.4L635.8,287.8L635.3,286.1L634.7,284.4M633.0,279.4L632.4,277.7L631.8,276.0L631.2,274.3M629.2,269.1L628.5,267.4L627.8,265.7L627.1,264.0M624.8,258.8L624.0,257.0L623.2,255.3L622.4,253.5M619.8,248.2L618.9,246.4L617.9,244.7L617.0,242.9M614.0,237.5L613.0,235.7L611.9,233.9L610.9,232.1M607.5,226.6L606.3,224.7L605.2,222.9L603.9,221.0M600.2,215.4L598.9,213.6L597.5,211.7L596.2,209.8M592.0,204.1L590.5,202.2L589.0,200.3L587.5,198.4M582.9,192.6L581.3,190.7L579.7,188.8L578.0,186.8M572.9,180.9L571.2,178.9L569.4,177.0L567.7,175.0M562.2,169.0L560.3,167.0L558.5,165.0L556.6,162.9M550.8,156.8L548.8,154.8L546.8,152.7L544.8,150.7M538.8,144.4L536.7,142.3L534.7,140.2L532.6,138.1M662.0,499.9L662.1,498.7L662.1,497.5L662.2,496.3M662.4,492.7L662.4,491.5L662.5,490.3L662.6,489.1M662.7,485.4L662.8,484.2L662.8,483.0L662.9,481.7M663.1,478.0L663.1,476.8L663.2,475.6L663.2,474.3M663.4,470.6L663.5,469.3L663.5,468.1L663.6,466.8M663.7,463.0L663.8,461.7L663.8,460.5L663.9,459.2M664.0,455.4L664.1,454.1L664.1,452.8L664.1,451.5M664.3,447.6L664.3,446.3L664.4,445.0L664.4,443.7M664.5,439.8L664.6,438.5L664.6,437.2L664.6,435.9M664.7,431.9L664.7,430.5L664.8,429.2L664.8,427.9M664.9,423.8L664.9,422.5L664.9,421.1L664.9,419.8M665.0,415.7L665.0,414.3L665.0,413.0L665.0,411.6M665.0,407.5L665.0,406.1L665.0,404.7L665.0,403.3M665.0,399.1L665.0,397.7L665.0,396.3L665.0,394.9M664.9,390.7L664.9,389.3L664.9,387.8L664.8,386.4M664.8,382.1L664.7,380.7L664.7,379.2L664.7,377.8M664.6,373.4L664.6,372.0L664.5,370.5L664.5,369.0M664.3,364.6L664.2,363.1L664.2,361.7L664.1,360.2M663.9,355.7L663.8,354.2L663.7,352.7L663.6,351.2M663.3,346.6L663.2,345.1L663.1,343.6L663.0,342.1M662.6,337.4L662.5,335.9L662.3,334.4L662.2,332.8M661.7,328.1L661.5,326.6L661.3,325.0L661.1,323.4M660.5,318.7L660.3,317.1L660.1,315.5L659.9,313.9M659.2,309.1L658.9,307.4L658.6,305.8L658.4,304.2M657.5,299.3L657.2,297.7L656.9,296.0L656.5,294.4M655.5,289.4L655.1,287.8L654.7,286.1L654.4,284.4M653.1,279.4L652.7,277.7L652.2,276.0L651.8,274.3M650.3,269.1L649.8,267.4L649.3,265.7L648.7,264.0M647.0,258.8L646.4,257.0L645.8,255.3L645.2,253.5M643.2,248.2L642.5,246.4L641.8,244.7L641.1,242.9M638.7,237.5L637.9,235.7L637.1,233.9L636.3,232.1M633.6,226.6L632.6,224.7L631.7,222.9L630.7,221.0M627.6,215.4L626.6,213.6L625.5,211.7L624.4,209.8M620.9,204.1L619.7,202.2L618.4,200.3L617.2,198.4M613.2,192.6L611.9,190.7L610.5,188.8L609.1,186.8M604.6,180.9L603.1,178.9L601.6,177.0L600.0,175.0M595.1,169.0L593.4,167.0L591.7,165.0L590.0,162.9M584.7,156.8L582.8,154.8L581.0,152.7L579.2,150.7M573.4,144.4L571.5,142.3L569.5,140.2L567.5,138.1M561.5,131.8L559.4,129.6L557.4,127.5L555.3,125.4M549.0,118.8L547.4,117.2L545.8,115.6L544.2,114.0M670.9,499.9L671.0,498.7L671.0,497.5L671.1,496.3M671.4,492.7L671.4,491.5L671.5,490.3L671.6,489.1M671.9,485.4L671.9,484.2L672.0,483.0L672.1,481.7M672.4,478.0L672.4,476.8L672.5,475.6L672.6,474.3M672.8,470.6L672.9,469.3L673.0,468.1L673.1,466.8M673.3,463.0L673.4,461.7L673.5,460.5L673.6,459.2M673.8,455.4L673.9,454.1L673.9,452.8L674.0,451.5M674.2,447.6L674.3,446.3L674.4,445.0L674.5,443.7M674.7,439.8L674.7,438.5L674.8,437.2L674.9,435.9M675.1,431.9L675.2,430.5L675.2,429.2L675.3,427.9M675.5,423.8L675.5,422.5L675.6,421.1L675.6,419.8M675.8,415.7L675.9,414.3L675.9,413.0L676.0,411.6M676.1,407.5L676.2,406.1L676.2,404.7L676.3,403.3M676.4,399.1L676.4,397.7L676.5,396.3L676.5,394.9M676.6,390.7L676.6,389.3L676.6,387.8L676.7,386.4M676.7,382.1L676.8,380.7L676.8,379.2L676.8,377.8M676.9,373.4L676.9,372.0L676.9,370.5L677.0,369.0M677.0,364.6L677.0,363.1L677.0,361.7L677.0,360.2M676.9,355.7L676.9,354.2L676.9,352.7L676.9,351.2M676.8,346.6L676.8,345.1L676.7,343.6L676.7,342.1M676.5,337.4L676.5,335.9L676.4,334.4L676.3,332.8M676.1,328.1L676.0,326.6L675.9,325.0L675.8,323.4M675.5,318.7L675.4,317.1L675.3,315.5L675.2,313.9M674.7,309.1L674.6,307.4L674.4,305.8L674.3,304.2M673.7,299.3L673.5,297.7L673.3,296.0L673.1,294.4M672.4,289.4L672.2,287.8L671.9,286.1L671.7,284.4M670.8,279.4L670.5,277.7L670.2,276.0L669.9,274.3M668.9,269.1L668.5,267.4L668.2,265.7L667.8,264.0M666.5,258.8L666.1,257.0L665.7,255.3L665.2,253.5M663.7,248.2L663.2,246.4L662.7,244.7L662.1,242.9M660.4,237.5L659.8,235.7L659.2,233.9L658.5,232.1M656.5,226.6L655.8,224.7L655.0,222.9L654.3,221.0M651.9,215.4L651.0,213.6L650.2,211.7L649.3,209.8M646.5,204.1L645.5,202.2L644.5,200.3L643.5,198.4M640.3,192.6L639.1,190.7L638.0,188.8L636.8,186.8M633.1,180.9L631.8,178.9L630.5,177.0L629.2,175.0M625.0,169.0L623.6,167.0L622.1,165.0L620.6,162.9M615.9,156.8L614.3,154.8L612.6,152.7L611.0,150.7M605.8,144.4L604.0,142.3L602.2,140.2L600.4,138.1M594.7,131.8L592.8,129.6L590.9,127.5L588.9,125.4M582.9,118.8L580.8,116.7L578.8,114.5L576.7,112.3M570.4,105.7L568.2,103.5L566.1,101.2L564.0,99.0M679.1,499.9L679.2,498.7L679.3,497.5L679.4,496.3M679.7,492.7L679.8,491.5L679.9,490.3L680.0,489.1M680.3,485.4L680.4,484.2L680.5,483.0L680.6,481.7M680.9,478.0L681.0,476.8L681.1,475.6L681.2,474.3M681.5,470.6L681.6,469.3L681.7,468.1L681.8,466.8M682.2,463.0L682.3,461.7L682.4,460.5L682.5,459.2M682.8,455.4L682.9,454.1L683.0,452.8L683.1,451.5M683.4,447.6L683.5,446.3L683.6,445.0L683.7,443.7M684.0,439.8L684.1,438.5L684.2,437.2L684.3,435.9M684.6,431.9L684.7,430.5L684.8,429.2L684.9,427.9M685.2,423.8L685.3,422.5L685.4,421.1L685.4,419.8M685.7,415.7L685.8,414.3L685.9,413.0L686.0,411.6M686.2,407.5L686.3,406.1L686.4,404.7L686.5,403.3M686.7,399.1L686.8,397.7L686.9,396.3L687.0,394.9M687.2,390.7L687.3,389.3L687.3,387.8L687.4,386.4M687.6,382.1L687.7,380.7L687.8,379.2L687.9,377.8M688.1,373.4L688.1,372.0L688.2,370.5L688.3,369.0M688.4,364.6L688.5,363.1L688.6,361.7L688.6,360.2M688.7,355.7L688.8,354.2L688.8,352.7L688.9,351.2M689.0,346.6L689.0,345.1L689.0,343.6L689.0,342.1M689.1,337.4L689.1,335.9L689.1,334.4L689.1,332.8M689.1,328.1L689.1,326.6L689.0,325.0L689.0,323.4M688.9,318.7L688.9,317.1L688.9,315.5L688.8,313.9M688.6,309.1L688.6,307.4L688.5,305.8L688.4,304.2M688.2,299.3L688.1,297.7L687.9,296.0L687.8,294.4M687.5,289.4L687.3,287.8L687.2,286.1L687.0,284.4M686.5,279.4L686.3,277.7L686.2,276.0L686.0,274.3M685.3,269.1L685.1,267.4L684.8,265.7L684.6,264.0M683.8,258.8L683.5,257.0L683.2,255.3L682.8,253.5M681.8,248.2L681.5,246.4L681.1,244.7L680.7,242.9M679.5,237.5L679.0,235.7L678.6,233.9L678.1,232.1M676.6,226.6L676.1,224.7L675.5,222.9L674.9,221.0M673.1,215.4L672.5,213.6L671.8,211.7L671.2,209.8M669.0,204.1L668.3,202.2L667.5,200.3L666.7,198.4M664.2,192.6L663.3,190.7L662.4,188.8L661.4,186.8M658.4,180.9L657.4,178.9L656.3,177.0L655.3,175.0M651.8,169.0L650.6,167.0L649.4,165.0L648.1,162.9M644.1,156.8L642.8,154.8L641.4,152.7L639.9,150.7M635.4,144.4L633.9,142.3L632.3,140.2L630.7,138.1M625.6,131.8L623.9,129.6L622.2,127.5L620.4,125.4M614.8,118.8L612.9,116.7L611.0,114.5L609.1,112.3M603.1,105.7L601.1,103.5L599.0,101.2L597.0,99.0M590.6,92.2L588.4,90.0L586.3,87.7L584.1,85.4M577.5,78.5L577.2,78.2L577.0,77.9L576.7,77.7M686.7,499.9L686.8,498.7L686.9,497.5L687.0,496.3M687.4,492.7L687.5,491.5L687.6,490.3L687.7,489.1M688.1,485.4L688.2,484.2L688.4,483.0L688.5,481.7M688.8,478.0L689.0,476.8L689.1,475.6L689.2,474.3M689.6,470.6L689.7,469.3L689.8,468.1L690.0,466.8M690.3,463.0L690.5,461.7L690.6,460.5L690.7,459.2M691.1,455.4L691.2,454.1L691.3,452.8L691.5,451.5M691.8,447.6L692.0,446.3L692.1,445.0L692.2,443.7M692.6,439.8L692.7,438.5L692.9,437.2L693.0,435.9M693.4,431.9L693.5,430.5L693.6,429.2L693.7,427.9M694.1,423.8L694.2,422.5L694.3,421.1L694.5,419.8M694.8,415.7L694.9,414.3L695.1,413.0L695.2,411.6M695.5,407.5L695.7,406.1L695.8,404.7L695.9,403.3M696.2,399.1L696.3,397.7L696.5,396.3L696.6,394.9M696.9,390.7L697.0,389.3L697.1,387.8L697.2,386.4M697.6,382.1L697.7,380.7L697.8,379.2L697.9,377.8M698.2,373.4L698.4,372.0L698.5,370.5L698.6,369.0M698.9,364.6L699.0,363.1L699.1,361.7L699.2,360.2M699.5,355.7L699.6,354.2L699.6,352.7L699.7,351.2M700.0,346.6L700.1,345.1L700.1,343.6L700.2,342.1M700.4,337.4L700.5,335.9L700.5,334.4L700.6,332.8M700.8,328.1L700.8,326.6L700.9,325.0L700.9,323.4M701.0,318.7L701.0,317.1L701.1,315.5L701.1,313.9M701.1,309.1L701.1,307.4L701.1,305.8L701.1,304.2M701.1,299.3L701.1,297.7L701.1,296.0L701.0,294.4M700.9,289.4L700.9,287.8L700.8,286.1L700.8,284.4M700.5,279.4L700.5,277.7L700.4,276.0L700.3,274.3M699.9,269.1L699.8,267.4L699.7,265.7L699.5,264.0M699.0,258.8L698.9,257.0L698.7,255.3L698.5,253.5M697.8,248.2L697.6,246.4L697.4,244.7L697.1,242.9M696.3,237.5L696.0,235.7L695.7,233.9L695.4,232.1M694.3,226.6L694.0,224.7L693.6,222.9L693.2,221.0M691.9,215.4L691.4,213.6L690.9,211.7L690.5,209.8M688.9,204.1L688.3,202.2L687.7,200.3L687.1,198.4M685.2,192.6L684.5,190.7L683.8,188.8L683.1,186.8M680.8,180.9L680.0,178.9L679.2,177.0L678.3,175.0M675.6,169.0L674.6,167.0L673.6,165.0L672.6,162.9M669.4,156.8L668.3,154.8L667.1,152.7L665.9,150.7M662.2,144.4L660.9,142.3L659.5,140.2L658.2,138.1M653.8,131.8L652.3,129.6L650.8,127.5L649.3,125.4M644.4,118.8L642.7,116.7L641.0,114.5L639.2,112.3M633.8,105.7L631.9,103.5L630.0,101.2L628.1,99.0M622.1,92.2L620.1,90.0L618.1,87.7L616.0,85.4M609.6,78.5L608.4,77.2L607.2,75.8L605.9,74.5M693.8,499.9L693.9,498.7L694.0,497.5L694.2,496.3M694.6,492.7L694.7,491.5L694.8,490.3L695.0,489.1M695.4,485.4L695.5,484.2L695.7,483.0L695.8,481.7M696.2,478.0L696.4,476.8L696.5,475.6L696.6,474.3M697.1,470.6L697.2,469.3L697.4,468.1L697.5,466.8M697.9,463.0L698.1,461.7L698.2,460.5L698.4,459.2M698.8,455.4L698.9,454.1L699.1,452.8L699.2,451.5M699.7,447.6L699.8,446.3L700.0,445.0L700.1,443.7M700.6,439.8L700.7,438.5L700.9,437.2L701.0,435.9M701.4,431.9L701.6,430.5L701.7,429.2L701.9,427.9M702.3,423.8L702.5,422.5L702.6,421.1L702.8,419.8M703.2,415.7L703.4,414.3L703.5,413.0L703.7,411.6M704.1,407.5L704.3,406.1L704.4,404.7L704.5,403.3M705.0,399.1L705.1,397.7L705.3,396.3L705.4,394.9M705.8,390.7L706.0,389.3L706.1,387.8L706.2,386.4M706.7,382.1L706.8,380.7L707.0,379.2L707.1,377.8M707.6,373.4L707.7,372.0L707.9,370.5L708.0,369.0M708.4,364.6L708.6,363.1L708.7,361.7L708.8,360.2M709.3,355.7L709.4,354.2L709.5,352.7L709.6,351.2M710.0,346.6L710.2,345.1L710.3,343.6L710.4,342.1M710.7,337.4L710.9,335.9L711.0,334.4L711.1,332.8M711.4,328.1L711.5,326.6L711.6,325.0L711.7,323.4M712.0,318.7L712.1,317.1L712.1,315.5L712.2,313.9M712.5,309.1L712.5,307.4L712.6,305.8L712.6,304.2M712.8,299.3L712.9,297.7L712.9,296.0L713.0,294.4M713.0,289.4L713.1,287.8L713.1,286.1L713.1,284.4M713.1,279.4L713.1,277.7L713.1,276.0L713.1,274.3M713.0,269.1L713.0,267.4L712.9,265.7L712.9,264.0M712.7,258.8L712.6,257.0L712.5,255.3L712.5,253.5M712.1,248.2L712.0,246.4L711.9,244.7L711.8,242.9M711.3,237.5L711.1,235.7L710.9,233.9L710.7,232.1M710.1,226.6L709.8,224.7L709.6,222.9L709.3,221.0M708.5,215.4L708.2,213.6L707.8,211.7L707.5,209.8M706.4,204.1L706.0,202.2L705.6,200.3L705.2,198.4M703.8,192.6L703.3,190.7L702.8,188.8L702.3,186.8M700.6,180.9L699.9,178.9L699.3,177.0L698.7,175.0M696.6,169.0L695.8,167.0L695.1,165.0L694.3,162.9M691.8,156.8L690.9,154.8L690.0,152.7L689.0,150.7M686.0,144.4L684.9,142.3L683.9,140.2L682.7,138.1M679.2,131.8L677.9,129.6L676.7,127.5L675.4,125.4M671.2,118.8L669.8,116.7L668.3,114.5L666.8,112.3M662.0,105.7L660.4,103.5L658.7,101.2L657.0,99.0M651.6,92.2L649.8,90.0L647.9,87.7L646.0,85.4M640.1,78.5L638.9,77.2L637.8,75.8L636.6,74.5M700.4,499.9L700.6,498.7L700.7,497.5L700.8,496.3M701.3,492.7L701.4,491.5L701.6,490.3L701.7,489.1M702.2,485.4L702.3,484.2L702.5,483.0L702.6,481.7M703.1,478.0L703.3,476.8L703.4,475.6L703.6,474.3M704.0,470.6L704.2,469.3L704.4,468.1L704.5,466.8M705.0,463.0L705.2,461.7L705.3,460.5L705.5,459.2M706.0,455.4L706.1,454.1L706.3,452.8L706.5,451.5M707.0,447.6L707.1,446.3L707.3,445.0L707.5,443.7M708.0,439.8L708.1,438.5L708.3,437.2L708.5,435.9M709.0,431.9L709.1,430.5L709.3,429.2L709.5,427.9M710.0,423.8L710.2,422.5L710.3,421.1L710.5,419.8M711.0,415.7L711.2,414.3L711.4,413.0L711.5,411.6M712.0,407.5L712.2,406.1L712.4,404.7L712.5,403.3M713.1,399.1L713.2,397.7L713.4,396.3L713.6,394.9M714.1,390.7L714.2,389.3L714.4,387.8L714.6,386.4M715.1,382.1L715.3,380.7L715.5,379.2L715.6,377.8M716.2,373.4L716.4,372.0L716.5,370.5L716.7,369.0M717.2,364.6L717.4,363.1L717.6,361.7L717.7,360.2M718.3,355.7L718.4,354.2L718.6,352.7L718.8,351.2M719.2,346.6L719.4,345.1L719.6,343.6L719.7,342.1M720.2,337.4L720.4,335.9L720.5,334.4L720.7,332.8M721.1,328.1L721.3,326.6L721.4,325.0L721.6,323.4M722.0,318.7L722.1,317.1L722.2,315.5L722.4,313.9M722.8,309.1L722.9,307.4L723.0,305.8L723.1,304.2M723.5,299.3L723.6,297.7L723.7,296.0L723.8,294.4M724.0,289.4L724.1,287.8L724.2,286.1L724.3,284.4M724.5,279.4L724.6,277.7L724.6,276.0L724.7,274.3M724.8,269.1L724.9,267.4L724.9,265.7L725.0,264.0M725.0,258.8L725.0,257.0L725.0,255.3L725.0,253.5M725.0,248.2L724.9,246.4L724.9,244.7L724.9,242.9M724.7,237.5L724.6,235.7L724.5,233.9L724.5,232.1M724.1,226.6L724.0,224.7L723.9,222.9L723.7,221.0M723.3,215.4L723.1,213.6L722.9,211.7L722.7,209.8M722.0,204.1L721.7,202.2L721.5,200.3L721.2,198.4M720.3,192.6L719.9,190.7L719.6,188.8L719.2,186.8M718.0,180.9L717.6,178.9L717.1,177.0L716.7,175.0M715.2,169.0L714.6,167.0L714.0,165.0L713.5,162.9M711.6,156.8L710.9,154.8L710.2,152.7L709.5,150.7M707.1,144.4L706.3,142.3L705.5,140.2L704.6,138.1M701.8,131.8L700.8,129.6L699.7,127.5L698.7,125.4M695.3,118.8L694.1,116.7L692.9,114.5L691.6,112.3M687.6,105.7L686.2,103.5L684.8,101.2L683.3,99.0M678.7,92.2L677.1,90.0L675.5,87.7L673.8,85.4M668.5,78.5L667.4,77.2L666.4,75.8L665.3,74.5" stroke="#0f0"/>
<path d="M148.4,502.7L150.4,500.5L152.3,498.2L154.2,496.0M159.9,489.3L161.9,487.0L163.8,484.8L165.7,482.6M171.5,475.9L173.4,473.6L175.3,471.4L177.2,469.2M183.0,462.4L184.9,460.2L186.9,458.0L188.8,455.7M194.6,449.0L196.5,446.8L198.5,444.5L200.4,442.3M206.2,435.6L208.2,433.4L210.1,431.1L212.0,428.9M217.9,422.2L219.8,419.9L221.8,417.7L223.7,415.5M229.6,408.8L231.5,406.5L233.5,404.3L235.4,402.1M241.3,395.3L243.2,393.1L245.2,390.9L247.1,388.6M253.0,381.9L255.0,379.7L256.9,377.4L258.9,375.2M264.8,368.5L266.8,366.3L268.7,364.0L270.7,361.8M276.6,355.1L278.6,352.8L280.5,350.6L282.5,348.4M288.4,341.7L290.4,339.4L292.4,337.2L294.3,334.9M300.3,328.2L302.3,326.0L304.2,323.8L306.2,321.5M312.2,314.8L314.2,312.6L316.1,310.3L318.1,308.1M324.1,301.4L326.1,299.2L328.1,296.9L330.1,294.7M336.0,288.0L338.0,285.7L340.0,283.5L342.0,281.3M348.0,274.6L350.0,272.3L352.0,270.1L354.0,267.9M360.0,261.1L362.0,258.9L364.0,256.7L366.0,254.4M372.0,247.7L374.1,245.5L376.1,243.2L378.1,241.0M384.1,234.3L386.1,232.1L388.1,229.8L390.1,227.6M396.2,220.9L398.2,218.6L400.2,216.4L402.2,214.2M408.3,207.5L410.3,205.2L412.3,203.0L414.4,200.7M420.4,194.0L422.5,191.8L424.5,189.6L426.5,187.3M432.6,180.6L434.6,178.4L436.7,176.1L438.7,173.9M444.8,167.2L446.8,165.0L448.9,162.7L450.9,160.5M457.0,153.8L459.0,151.5L461.1,149.3L463.1,147.1M469.2,140.4L471.3,138.1L473.3,135.9L475.4,133.7M481.5,126.9L483.6,124.7L485.6,122.5L487.6,120.2M493.8,113.5L495.8,111.3L497.9,109.0L499.9,106.8M506.1,100.1L508.2,97.9L510.2,95.6L512.3,93.4M518.4,86.7L520.5,84.4L522.6,82.2L524.6,80.0M194.7,502.7L196.5,500.5L198.4,498.2L200.2,496.0M205.8,489.3L207.7,487.0L209.6,484.8L211.4,482.6M217.0,475.9L218.9,473.6L220.8,471.4L222.7,469.2M228.3,462.4L230.2,460.2L232.0,458.0L233.9,455.7M239.5,449.0L241.4,446.8L243.3,444.5L245.2,442.3M250.9,435.6L252.7,433.4L254.6,431.1L256.5,428.9M262.2,422.2L264.1,419.9L266.0,417.7L267.9,415.5M273.6,408.8L275.5,406.5L277.4,404.3L279.3,402.1M285.0,395.3L286.9,393.1L288.8,390.9L290.7,388.6M296.4,381.9L298.3,379.7L300.3,377.4L302.2,375.2M307.9,368.5L309.8,366.3L311.7,364.0L313.7,361.8M319.4,355.1L321.3,352.8L323.3,350.6L325.2,348.4M331.0,341.7L332.9,339.4L334.8,337.2L336.8,334.9M342.5,328.2L344.5,326.0L346.4,323.8L348.3,321.5M354.2,314.8L356.1,312.6L358.0,310.3L360.0,308.1M365.8,301.4L367.7,299.2L369.7,296.9L371.6,294.7M377.5,288.0L379.4,285.7L381.4,283.5L383.3,281.3M389.2,274.6L391.1,272.3L393.1,270.1L395.0,267.9M400.9,261.1L402.8,258.9L404.8,256.7L406.8,254.4M412.6,247.7L414.6,245.5L416.6,243.2L418.5,241.0M424.4,234.3L426.4,232.1L428.4,229.8L430.3,227.6M436.3,220.9L438.2,218.6L440.2,216.4L442.2,214.2M448.1,207.5L450.1,205.2L452.1,203.0L454.0,200.7M460.0,194.0L462.0,191.8L464.0,189.6L465.9,187.3M471.9,180.6L473.9,178.4L475.9,176.1L477.9,173.9M483.8,167.2L485.8,165.0L487.8,162.7L489.8,160.5M495.8,153.8L497.8,151.5L499.8,149.3L501.8,147.1M507.8,140.4L509.8,138.1L511.8,135.9L513.8,133.7M519.8,126.9L521.8,124.7L523.8,122.5L525.8,120.2M531.8,113.5L533.9,111.3L535.9,109.0L537.9,106.8M543.9,100.1L545.9,97.9L547.9,95.6L550.0,93.4M556.0,86.7L558.0,84.4L560.1,82.2L562.1,80.0M260.7,502.7L262.5,500.5L264.3,498.2L266.1,496.0M271.4,489.3L273.2,487.0L275.0,484.8L276.8,482.6M282.2,475.9L283.9,473.6L285.7,471.4L287.5,469.2M292.9,462.4L294.7,460.2L296.5,458.0L298.3,455.7M303.7,449.0L305.5,446.8L307.3,444.5L309.2,442.3M314.6,435.6L316.4,433.4L318.2,431.1L320.0,428.9M325.5,422.2L327.3,419.9L329.1,417.7L330.9,415.5M336.4,408.8L338.2,406.5L340.0,404.3L341.9,402.1M347.4,395.3L349.2,393.1L351.0,390.9L352.9,388.6M358.4,381.9L360.2,379.7L362.0,377.4L363.9,375.2M369.4,368.5L371.2,366.3L373.1,364.0L374.9,361.8M380.5,355.1L382.3,352.8L384.2,350.6L386.0,348.4M391.6,341.7L393.5,339.4L395.3,337.2L397.2,334.9M402.8,328.2L404.6,326.0L406.5,323.8L408.3,321.5M413.9,314.8L415.8,312.6L417.7,310.3L419.5,308.1M425.2,301.4L427.0,299.2L428.9,296.9L430.8,294.7M436.4,288.0L438.3,285.7L440.2,283.5L442.1,281.3M447.7,274.6L449.6,272.3L451.5,270.1L453.4,267.9M459.0,261.1L460.9,258.9L462.8,256.7L464.7,254.4M470.4,247.7L472.3,245.5L474.2,243.2L476.1,241.0M481.8,234.3L483.7,232.1L485.6,229.8L487.5,227.6M493.2,220.9L495.1,218.6L497.1,216.4L499.0,214.2M504.7,207.5L506.6,205.2L508.5,203.0L510.4,200.7M516.2,194.0L518.1,191.8L520.0,189.6L522.0,187.3M527.7,180.6L529.6,178.4L531.6,176.1L533.5,173.9M539.3,167.2L541.2,165.0L543.1,162.7L545.1,160.5M550.9,153.8L552.8,151.5L554.7,149.3L556.7,147.1M562.5,140.4L564.4,138.1L566.4,135.9L568.3,133.7M574.2,126.9L576.1,124.7L578.1,122.5L580.0,120.2M585.8,113.5L587.8,111.3L589.7,109.0L591.7,106.8M597.6,100.1L599.5,97.9L601.5,95.6L603.4,93.4M609.3,86.7L611.3,84.4L613.2,82.2L615.2,80.0M314.9,502.7L316.6,500.5L318.3,498.2L320.1,496.0M325.2,489.3L326.9,487.0L328.6,484.8L330.4,482.6M335.5,475.9L337.3,473.6L339.0,471.4L340.7,469.2M345.9,462.4L347.6,460.2L349.4,458.0L351.1,455.7M356.3,449.0L358.0,446.8L359.8,444.5L361.5,442.3M366.8,435.6L368.5,433.4L370.3,431.1L372.0,428.9M377.3,422.2L379.0,419.9L380.8,417.7L382.5,415.5M387.8,408.8L389.6,406.5L391.3,404.3L393.1,402.1M398.4,395.3L400.2,393.1L401.9,390.9L403.7,388.6M409.0,381.9L410.8,379.7L412.6,377.4L414.3,375.2M419.7,368.5L421.5,366.3L423.3,364.0L425.0,361.8M430.4,355.1L432.2,352.8L434.0,350.6L435.8,348.4M441.2,341.7L442.9,339.4L444.7,337.2L446.5,334.9M451.9,328.2L453.7,326.0L455.5,323.8L457.4,321.5M462.8,314.8L464.6,312.6L466.4,310.3L468.2,308.1M473.6,301.4L475.5,299.2L477.3,296.9L479.1,294.7M484.6,288.0L486.4,285.7L488.2,283.5L490.0,281.3M495.5,274.6L497.3,272.3L499.2,270.1L501.0,267.9M506.5,261.1L508.3,258.9L510.2,256.7L512.0,254.4M517.5,247.7L519.4,245.5L521.2,243.2L523.1,241.0M528.6,234.3L530.4,232.1L532.3,229.8L534.1,227.6M539.7,220.9L541.5,218.6L543.4,216.4L545.3,214.2M550.8,207.5L552.7,205.2L554.5,203.0L556.4,200.7M562.0,194.0L563.9,191.8L565.7,189.6L567.6,187.3M573.2,180.6L575.1,178.4L577.0,176.1L578.8,173.9M584.5,167.2L586.3,165.0L588.2,162.7L590.1,160.5M595.7,153.8L597.6,151.5L599.5,149.3L601.4,147.1M607.0,140.4L608.9,138.1L610.8,135.9L612.7,133.7M618.4,126.9L620.3,124.7L622.2,122.5L624.1,120.2M629.8,113.5L631.7,111.3L633.6,109.0L635.5,106.8M641.2,100.1L643.1,97.9L645.0,95.6L646.9,93.4M652.6,86.7L654.6,84.4L656.5,82.2L658.4,80.0M348.5,502.7L350.1,500.5L351.8,498.2L353.5,496.0M358.5,489.3L360.2,487.0L361.8,484.8L363.5,482.6M368.6,475.9L370.2,473.6L371.9,471.4L373.6,469.2M378.7,462.4L380.4,460.2L382.0,458.0L383.7,455.7M388.8,449.0L390.5,446.8L392.2,444.5L393.9,442.3M399.0,435.6L400.7,433.4L402.4,431.1L404.1,428.9M409.3,422.2L411.0,419.9L412.7,417.7L414.4,415.5M419.6,408.8L421.3,406.5L423.0,404.3L424.7,402.1M429.9,395.3L431.7,393.1L433.4,390.9L435.1,388.6M440.3,381.9L442.0,379.7L443.8,377.4L445.5,375.2M450.7,368.5L452.5,366.3L454.2,364.0L456.0,361.8M461.2,355.1L463.0,352.8L464.7,350.6L466.5,348.4M471.7,341.7L473.5,339.4L475.3,337.2L477.0,334.9M482.3,328.2L484.1,326.0L485.8,323.8L487.6,321.5M492.9,314.8L494.7,312.6L496.5,310.3L498.2,308.1M503.6,301.4L505.3,299.2L507.1,296.9L508.9,294.7M514.3,288.0L516.0,285.7L517.8,283.5L519.6,281.3M525.0,274.6L526.8,272.3L528.6,270.1L530.4,267.9M535.8,261.1L537.6,258.9L539.4,256.7L541.2,254.4M546.6,247.7L548.4,245.5L550.2,243.2L552.0,241.0M557.4,234.3L559.2,232.1L561.1,229.8L562.9,227.6M568.3,220.9L570.1,218.6L572.0,216.4L573.8,214.2M579.2,207.5L581.1,205.2L582.9,203.0L584.7,200.7M590.2,194.0L592.1,191.8L593.9,189.6L595.7,187.3M601.2,180.6L603.1,178.4L604.9,176.1L606.7,173.9M612.3,167.2L614.1,165.0L616.0,162.7L617.8,160.5M623.4,153.8L625.2,151.5L627.1,149.3L628.9,147.1M634.5,140.4L636.3,138.1L638.2,135.9L640.0,133.7M645.6,126.9L647.5,124.7L649.4,122.5L651.2,120.2M656.8,113.5L658.7,111.3L660.6,109.0L662.4,106.8M668.0,100.1L669.9,97.9L671.8,95.6L673.7,93.4M679.3,86.7L681.2,84.4L683.1,82.2L685.0,80.0M373.2,502.7L374.8,500.5L376.4,498.2L378.1,496.0M383.0,489.3L384.6,487.0L386.3,484.8L387.9,482.6M392.8,475.9L394.5,473.6L396.1,471.4L397.8,469.2M402.8,462.4L404.4,460.2L406.1,458.0L407.7,455.7M412.7,449.0L414.4,446.8L416.1,444.5L417.7,442.3M422.8,435.6L424.4,433.4L426.1,431.1L427.8,428.9M432.8,422.2L434.5,419.9L436.2,417.7L437.9,415.5M442.9,408.8L444.6,406.5L446.3,404.3L448.0,402.1M453.1,395.3L454.8,393.1L456.5,390.9L458.2,388.6M463.3,381.9L465.0,379.7L466.7,377.4L468.4,375.2M473.6,368.5L475.3,366.3L477.0,364.0L478.7,361.8M483.9,355.1L485.6,352.8L487.3,350.6L489.0,348.4M494.2,341.7L495.9,339.4L497.7,337.2L499.4,334.9M504.6,328.2L506.3,326.0L508.1,323.8L509.8,321.5M515.1,314.8L516.8,312.6L518.5,310.3L520.3,308.1M525.5,301.4L527.3,299.2L529.0,296.9L530.8,294.7M536.1,288.0L537.8,285.7L539.6,283.5L541.3,281.3M546.6,274.6L548.4,272.3L550.2,270.1L551.9,267.9M557.2,261.1L559.0,258.9L560.8,256.7L562.6,254.4M567.9,247.7L569.7,245.5L571.5,243.2L573.2,241.0M578.6,234.3L580.4,232.1L582.2,229.8L584.0,227.6M589.3,220.9L591.1,218.6L592.9,216.4L594.7,214.2M600.1,207.5L601.9,205.2L603.7,203.0L605.5,200.7M610.9,194.0L612.7,191.8L614.5,189.6L616.3,187.3M621.8,180.6L623.6,178.4L625.4,176.1L627.2,173.9M632.7,167.2L634.5,165.0L636.3,162.7L638.1,160.5M643.6,153.8L645.4,151.5L647.3,149.3L649.1,147.1M654.6,140.4L656.4,138.1L658.2,135.9L660.1,133.7M665.6,126.9L667.4,124.7L669.3,122.5L671.1,120.2M676.6,113.5L678.5,111.3L680.3,109.0L682.2,106.8M687.7,100.1L689.6,97.9L691.4,95.6L693.3,93.4M698.8,86.7L700.7,84.4L702.6,82.2L704.4,80.0M409.2,502.7L410.8,500.5L412.4,498.2L414.0,496.0M418.8,489.3L420.4,487.0L422.0,484.8L423.6,482.6M428.4,475.9L430.0,473.6L431.6,471.4L433.2,469.2M438.0,462.4L439.6,460.2L441.2,458.0L442.8,455.7M447.7,449.0L449.3,446.8L450.9,444.5L452.5,442.3M457.4,435.6L459.0,433.4L460.7,431.1L462.3,428.9M467.2,422.2L468.8,419.9L470.5,417.7L472.1,415.5M477.1,408.8L478.7,406.5L480.3,404.3L482.0,402.1M486.9,395.3L488.6,393.1L490.3,390.9L491.9,388.6M496.9,381.9L498.6,379.7L500.2,377.4L501.9,375.2M506.9,368.5L508.6,366.3L510.2,364.0L511.9,361.8M516.9,355.1L518.6,352.8L520.3,350.6L522.0,348.4M527.0,341.7L528.7,339.4L530.4,337.2L532.1,334.9M537.2,328.2L538.9,326.0L540.6,323.8L542.3,321.5M547.4,314.8L549.1,312.6L550.8,310.3L552.5,308.1M557.6,301.4L559.3,299.2L561.0,296.9L562.7,294.7M567.9,288.0L569.6,285.7L571.3,283.5L573.0,281.3M578.2,274.6L579.9,272.3L581.6,270.1L583.4,267.9M588.6,261.1L590.3,258.9L592.0,256.7L593.8,254.4M599.0,247.7L600.7,245.5L602.5,243.2L604.2,241.0M609.4,234.3L611.2,232.1L612.9,229.8L614.7,227.6M619.9,220.9L621.7,218.6L623.5,216.4L625.2,214.2M630.5,207.5L632.3,205.2L634.0,203.0L635.8,200.7M641.1,194.0L642.9,191.8L644.6,189.6L646.4,187.3M651.7,180.6L653.5,178.4L655.3,176.1L657.1,173.9M662.4,167.2L664.2,165.0L666.0,162.7L667.7,160.5M673.1,153.8L674.9,151.5L676.7,149.3L678.5,147.1M683.9,140.4L685.7,138.1L687.5,135.9L689.3,133.7M694.7,126.9L696.5,124.7L698.3,122.5L700.1,120.2M705.5,113.5L707.3,111.3L709.1,109.0L710.9,106.8M716.4,100.1L718.2,97.9L720.0,95.6L721.8,93.4M727.3,86.7L729.1,84.4L730.9,82.2L732.8,80.0M435.8,502.7L437.4,500.5L438.9,498.2L440.5,496.0M445.1,489.3L446.7,487.0L448.2,484.8L449.8,482.6M454.5,475.9L456.0,473.6L457.6,471.4L459.2,469.2M463.9,462.4L465.5,460.2L467.1,458.0L468.6,455.7M473.4,449.0L475.0,446.8L476.6,444.5L478.1,442.3M482.9,435.6L484.5,433.4L486.1,431.1L487.7,428.9M492.5,422.2L494.1,419.9L495.7,417.7L497.3,415.5M502.1,408.8L503.7,406.5L505.4,404.3L507.0,402.1M511.8,395.3L513.5,393.1L515.1,390.9L516.7,388.6M521.6,381.9L523.2,379.7L524.8,377.4L526.5,375.2M531.4,368.5L533.0,366.3L534.7,364.0L536.3,361.8M541.2,355.1L542.9,352.8L544.5,350.6L546.2,348.4M551.1,341.7L552.8,339.4L554.4,337.2L556.1,334.9M561.1,328.2L562.7,326.0L564.4,323.8L566.1,321.5M571.1,314.8L572.8,312.6L574.4,310.3L576.1,308.1M581.1,301.4L582.8,299.2L584.5,296.9L586.2,294.7M591.2,288.0L592.9,285.7L594.6,283.5L596.3,281.3M601.4,274.6L603.1,272.3L604.8,270.1L606.5,267.9M611.6,261.1L613.3,258.9L615.0,256.7L616.7,254.4M621.8,247.7L623.5,245.5L625.2,243.2L626.9,241.0M632.1,234.3L633.8,232.1L635.5,229.8L637.3,227.6M642.4,220.9L644.2,218.6L645.9,216.4L647.6,214.2M652.8,207.5L654.5,205.2L656.3,203.0L658.0,200.7M663.2,194.0L665.0,191.8L666.7,189.6L668.5,187.3M673.7,180.6L675.4,178.4L677.2,176.1L678.9,173.9M684.2,167.2L686.0,165.0L687.7,162.7L689.5,160.5M694.8,153.8L696.5,151.5L698.3,149.3L700.0,147.1M705.3,140.4L707.1,138.1L708.9,135.9L710.7,133.7M716.0,126.9L717.8,124.7L719.5,122.5L721.3,120.2M726.7,113.5L728.5,111.3L730.2,109.0L732.0,106.8M737.4,100.1L739.2,97.9L741.0,95.6L742.8,93.4M748.1,86.7L749.9,84.4L751.7,82.2L753.5,80.0M474.7,502.7L476.2,500.5L477.7,498.2L479.1,496.0M483.6,489.3L485.1,487.0L486.7,484.8L488.2,482.6M492.7,475.9L494.2,473.6L495.7,471.4L497.2,469.2M501.8,462.4L503.3,460.2L504.8,458.0L506.4,455.7M511.0,449.0L512.5,446.8L514.0,444.5L515.6,442.3M520.2,435.6L521.7,433.4L523.3,431.1L524.8,428.9M529.5,422.2L531.0,419.9L532.6,417.7L534.1,415.5M538.8,408.8L540.3,406.5L541.9,404.3L543.5,402.1M548.2,395.3L549.8,393.1L551.3,390.9L552.9,388.6M557.6,381.9L559.2,379.7L560.8,377.4L562.4,375.2M567.1,368.5L568.7,366.3L570.3,364.0L571.9,361.8M576.7,355.1L578.3,352.8L579.9,350.6L581.5,348.4M586.3,341.7L587.9,339.4L589.5,337.2L591.1,334.9M596.0,328.2L597.6,326.0L599.2,323.8L600.8,321.5M605.7,314.8L607.3,312.6L609.0,310.3L610.6,308.1M615.5,301.4L617.1,299.2L618.7,296.9L620.4,294.7M625.3,288.0L626.9,285.7L628.6,283.5L630.2,281.3M635.2,274.6L636.8,272.3L638.5,270.1L640.1,267.9M645.1,261.1L646.8,258.9L648.4,256.7L650.1,254.4M655.1,247.7L656.8,245.5L658.4,243.2L660.1,241.0M665.1,234.3L666.8,232.1L668.5,229.8L670.1,227.6M675.2,220.9L676.9,218.6L678.6,216.4L680.2,214.2M685.3,207.5L687.0,205.2L688.7,203.0L690.4,200.7M695.5,194.0L697.2,191.8L698.9,189.6L700.6,187.3M705.7,180.6L707.4,178.4L709.1,176.1L710.8,173.9M716.0,167.2L717.7,165.0L719.4,162.7L721.1,160.5M726.3,153.8L728.0,151.5L729.7,149.3L731.5,147.1M736.6,140.4L738.4,138.1L740.1,135.9L741.8,133.7M747.0,126.9L748.8,124.7L750.5,122.5L752.3,120.2M757.5,113.5L759.2,111.3L761.0,109.0L762.7,106.8M768.0,100.1L769.7,97.9L771.5,95.6L773.2,93.4M778.5,86.7L780.3,84.4L782.0,82.2L783.8,80.0M503.3,502.7L504.7,500.5L506.2,498.2L507.6,496.0M512.0,489.3L513.5,487.0L514.9,484.8L516.4,482.6M520.8,475.9L522.3,473.6L523.7,471.4L525.2,469.2M529.7,462.4L531.1,460.2L532.6,458.0L534.1,455.7M538.6,449.0L540.1,446.8L541.6,444.5L543.1,442.3M547.6,435.6L549.1,433.4L550.6,431.1L552.1,428.9M556.6,422.2L558.1,419.9L559.6,417.7L561.2,415.5M565.7,408.8L567.3,406.5L568.8,404.3L570.3,402.1M574.9,395.3L576.4,393.1L578.0,390.9L579.5,388.6M584.1,381.9L585.7,379.7L587.2,377.4L588.8,375.2M593.4,368.5L595.0,366.3L596.5,364.0L598.1,361.8M602.8,355.1L604.3,352.8L605.9,350.6L607.5,348.4M612.2,341.7L613.7,339.4L615.3,337.2L616.9,334.9M621.6,328.2L623.2,326.0L624.8,323.8L626.4,321.5M631.1,314.8L632.7,312.6L634.3,310.3L635.9,308.1M640.7,301.4L642.3,299.2L643.9,296.9L645.5,294.7M650.3,288.0L651.9,285.7L653.5,283.5L655.2,281.3M660.0,274.6L661.6,272.3L663.2,270.1L664.9,267.9M669.7,261.1L671.4,258.9L673.0,256.7L674.6,254.4M679.5,247.7L681.1,245.5L682.8,243.2L684.4,241.0M689.3,234.3L691.0,232.1L692.6,229.8L694.3,227.6M699.2,220.9L700.9,218.6L702.5,216.4L704.2,214.2M709.2,207.5L710.8,205.2L712.5,203.0L714.1,200.7M719.1,194.0L720.8,191.8L722.5,189.6L724.2,187.3M729.2,180.6L730.9,178.4L732.5,176.1L734.2,173.9M739.3,167.2L740.9,165.0L742.6,162.7L744.3,160.5M749.4,153.8L751.1,151.5L752.8,149.3L754.5,147.1M759.6,140.4L761.3,138.1L763.0,135.9L764.7,133.7M769.8,126.9L771.5,124.7L773.2,122.5L774.9,120.2M780.1,113.5L781.8,111.3L783.5,109.0L785.2,106.8M790.4,100.1L792.1,97.9L793.8,95.6L795.6,93.4M800.7,86.7L802.5,84.4L804.2,82.2L805.9,80.0M526.0,502.7L527.5,500.5L528.9,498.2L530.3,496.0M534.6,489.3L536.0,487.0L537.4,484.8L538.9,482.6M543.2,475.9L544.6,473.6L546.1,471.4L547.5,469.2M551.9,462.4L553.3,460.2L554.8,458.0L556.2,455.7M560.6,449.0L562.0,446.8L563.5,444.5L565.0,442.3M569.4,435.6L570.9,433.4L572.3,431.1L573.8,428.9M578.2,422.2L579.7,419.9L581.2,417.7L582.7,415.5M587.2,408.8L588.7,406.5L590.2,404.3L591.7,402.1M596.2,395.3L597.7,393.1L599.2,390.9L600.7,388.6M605.2,381.9L606.7,379.7L608.2,377.4L609.8,375.2M614.3,368.5L615.8,366.3L617.4,364.0L618.9,361.8M623.5,355.1L625.0,352.8L626.6,350.6L628.1,348.4M632.7,341.7L634.3,339.4L635.8,337.2L637.4,334.9M642.0,328.2L643.6,326.0L645.1,323.8L646.7,321.5M651.4,314.8L652.9,312.6L654.5,310.3L656.0,308.1M660.8,301.4L662.3,299.2L663.9,296.9L665.5,294.7M670.2,288.0L671.8,285.7L673.4,283.5L675.0,281.3M679.7,274.6L681.3,272.3L682.9,270.1L684.5,267.9M689.3,261.1L690.9,258.9L692.5,256.7L694.1,254.4M698.9,247.7L700.5,245.5L702.1,243.2L703.8,241.0M708.6,234.3L710.2,232.1L711.8,229.8L713.5,227.6M718.3,220.9L720.0,218.6L721.6,216.4L723.2,214.2M728.1,207.5L729.7,205.2L731.4,203.0L733.0,200.7M737.9,194.0L739.6,191.8L741.2,189.6L742.9,187.3M747.8,180.6L749.5,178.4L751.1,176.1L752.8,173.9M757.8,167.2L759.4,165.0L761.1,162.7L762.7,160.5M767.7,153.8L769.4,151.5L771.1,149.3L772.8,147.1M777.8,140.4L779.5,138.1L781.1,135.9L782.8,133.7M787.9,126.9L789.5,124.7L791.2,122.5L792.9,120.2M798.0,113.5L799.7,111.3L801.4,109.0L803.1,106.8M808.2,100.1L809.9,97.9L811.6,95.6L813.3,93.4M818.4,86.7L820.1,84.4L821.8,82.2L823.5,80.0M545.0,502.7L546.4,500.5L547.8,498.2L549.2,496.0M553.4,489.3L554.8,487.0L556.2,484.8L557.6,482.6M561.9,475.9L563.3,473.6L564.7,471.4L566.1,469.2M570.4,462.4L571.8,460.2L573.2,458.0L574.6,455.7M578.9,449.0L580.4,446.8L581.8,444.5L583.2,442.3M587.6,435.6L589.0,433.4L590.5,431.1L591.9,428.9M596.3,422.2L597.7,419.9L599.2,417.7L600.7,415.5M605.0,408.8L606.5,406.5L608.0,404.3L609.5,402.1M613.9,395.3L615.4,393.1L616.8,390.9L618.3,388.6M622.8,381.9L624.3,379.7L625.8,377.4L627.3,375.2M631.7,368.5L633.2,366.3L634.7,364.0L636.2,361.8M640.8,355.1L642.3,352.8L643.8,350.6L645.3,348.4M649.8,341.7L651.4,339.4L652.9,337.2L654.4,334.9M659.0,328.2L660.5,326.0L662.1,323.8L663.6,321.5M668.2,314.8L669.7,312.6L671.3,310.3L672.8,308.1M677.5,301.4L679.0,299.2L680.6,296.9L682.1,294.7M686.8,288.0L688.3,285.7L689.9,283.5L691.5,281.3M696.2,274.6L697.7,272.3L699.3,270.1L700.9,267.9M705.6,261.1L707.2,258.9L708.7,256.7L710.3,254.4M715.1,247.7L716.7,245.5L718.3,243.2L719.8,241.0M724.6,234.3L726.2,232.1L727.8,229.8L729.4,227.6M734.2,220.9L735.8,218.6L737.4,216.4L739.0,214.2M743.9,207.5L745.5,205.2L747.1,203.0L748.7,200.7M753.6,194.0L755.2,191.8L756.8,189.6L758.5,187.3M763.3,180.6L765.0,178.4L766.6,176.1L768.2,173.9M773.2,167.2L774.8,165.0L776.4,162.7L778.1,160.5M783.0,153.8L784.7,151.5L786.3,149.3L788.0,147.1M792.9,140.4L794.6,138.1L796.2,135.9L797.9,133.7M802.9,126.9L804.6,124.7L806.2,122.5L807.9,120.2M812.9,113.5L814.6,111.3L816.3,109.0L817.9,106.8M823.0,100.1L824.7,97.9L826.3,95.6L828.0,93.4M833.1,86.7L834.8,84.4L836.5,82.2L838.2,80.0M568.8,502.7L570.1,500.5L571.5,498.2L572.8,496.0M576.9,489.3L578.3,487.0L579.7,484.8L581.0,482.6M585.2,475.9L586.5,473.6L587.9,471.4L589.3,469.2M593.5,462.4L594.9,460.2L596.2,458.0L597.6,455.7M601.8,449.0L603.2,446.8L604.6,444.5L606.0,442.3M610.3,435.6L611.7,433.4L613.1,431.1L614.5,428.9M618.8,422.2L620.2,419.9L621.6,417.7L623.1,415.5M627.4,408.8L628.8,406.5L630.2,404.3L631.7,402.1M636.0,395.3L637.4,393.1L638.9,390.9L640.3,388.6M644.7,381.9L646.2,379.7L647.6,377.4L649.1,375.2M653.5,368.5L654.9,366.3L656.4,364.0L657.9,361.8M662.3,355.1L663.8,352.8L665.3,350.6L666.8,348.4M671.2,341.7L672.7,339.4L674.2,337.2L675.7,334.9M680.2,328.2L681.7,326.0L683.2,323.8L684.7,321.5M689.2,314.8L690.7,312.6L692.2,310.3L693.7,308.1M698.3,301.4L699.8,299.2L701.3,296.9L702.9,294.7M707.4,288.0L709.0,285.7L710.5,283.5L712.0,281.3M716.6,274.6L718.2,272.3L719.7,270.1L721.3,267.9M725.9,261.1L727.5,258.9L729.0,256.7L730.6,254.4M735.2,247.7L736.8,245.5L738.3,243.2L739.9,241.0M744.6,234.3L746.2,232.1L747.7,229.8L749.3,227.6M754.0,220.9L755.6,218.6L757.2,216.4L758.8,214.2M763.5,207.5L765.1,205.2L766.7,203.0L768.3,200.7M773.1,194.0L774.7,191.8L776.3,189.6L777.9,187.3M782.7,180.6L784.3,178.4L785.9,176.1L787.5,173.9M792.3,167.2L794.0,165.0L795.6,162.7L797.2,160.5M802.0,153.8L803.7,151.5L805.3,149.3L806.9,147.1M811.8,140.4L813.4,138.1L815.1,135.9L816.7,133.7M821.6,126.9L823.3,124.7L824.9,122.5L826.5,120.2M831.5,113.5L833.1,111.3L834.8,109.0L836.4,106.8M841.4,100.1L843.1,97.9L844.7,95.6L846.4,93.4M851.4,86.7L853.0,84.4L854.7,82.2L856.4,80.0M600.1,502.7L601.4,500.5L602.7,498.2L604.1,496.0M608.0,489.3L609.3,487.0L610.6,484.8L612.0,482.6M616.0,475.9L617.3,473.6L618.6,471.4L620.0,469.2M624.0,462.4L625.3,460.2L626.7,458.0L628.0,455.7M632.1,449.0L633.4,446.8L634.8,444.5L636.1,442.3M640.2,435.6L641.6,433.4L643.0,431.1L644.4,428.9M648.5,422.2L649.9,419.9L651.2,417.7L652.6,415.5M656.8,408.8L658.2,406.5L659.6,404.3L661.0,402.1M665.2,395.3L666.6,393.1L668.0,390.9L669.4,388.6M673.6,381.9L675.0,379.7L676.5,377.4L677.9,375.2M682.2,368.5L683.6,366.3L685.0,364.0L686.4,361.8M690.7,355.1L692.2,352.8L693.6,350.6L695.1,348.4M699.4,341.7L700.8,339.4L702.3,337.2L703.8,334.9M708.1,328.2L709.6,326.0L711.0,323.8L712.5,321.5M716.9,314.8L718.4,312.6L719.8,310.3L721.3,308.1M725.8,301.4L727.2,299.2L728.7,296.9L730.2,294.7M734.7,288.0L736.2,285.7L737.7,283.5L739.1,281.3M743.6,274.6L745.1,272.3L746.6,270.1L748.2,267.9M752.7,261.1L754.2,258.9L755.7,256.7L757.2,254.4M761.8,247.7L763.3,245.5L764.8,243.2L766.4,241.0M770.9,234.3L772.5,232.1L774.0,229.8L775.5,227.6M780.2,220.9L781.7,218.6L783.2,216.4L784.8,214.2M789.4,207.5L791.0,205.2L792.5,203.0L794.1,200.7M798.8,194.0L800.3,191.8L801.9,189.6L803.5,187.3M808.2,180.6L809.7,178.4L811.3,176.1L812.9,173.9M817.6,167.2L819.2,165.0L820.8,162.7L822.3,160.5M827.1,153.8L828.7,151.5L830.3,149.3L831.9,147.1M836.7,140.4L838.3,138.1L839.9,135.9L841.5,133.7M846.3,126.9L847.9,124.7L849.5,122.5L851.1,120.2M855.9,113.5L857.6,111.3L859.2,109.0L860.8,106.8M865.7,100.1L867.3,97.9L868.9,95.6L870.5,93.4M875.4,86.7L877.1,84.4L878.7,82.2L880.3,80.0M625.0,502.7L626.3,500.5L627.6,498.2L628.8,496.0M632.7,489.3L633.9,487.0L635.2,484.8L636.5,482.6M640.4,475.9L641.7,473.6L643.0,471.4L644.3,469.2M648.2,462.4L649.5,460.2L650.8,458.0L652.1,455.7M656.1,449.0L657.4,446.8L658.7,444.5L660.0,442.3M664.0,435.6L665.3,433.4L666.7,431.1L668.0,428.9M672.0,422.2L673.4,419.9L674.7,417.7L676.1,415.5M680.1,408.8L681.5,406.5L682.9,404.3L684.2,402.1M688.3,395.3L689.7,393.1L691.1,390.9L692.4,388.6M696.6,381.9L698.0,379.7L699.3,377.4L700.7,375.2M704.9,368.5L706.3,366.3L707.7,364.0L709.1,361.8M713.3,355.1L714.7,352.8L716.1,350.6L717.5,348.4M721.7,341.7L723.2,339.4L724.6,337.2L726.0,334.9M730.3,328.2L731.7,326.0L733.1,323.8L734.5,321.5M738.9,314.8L740.3,312.6L741.7,310.3L743.2,308.1M747.5,301.4L749.0,299.2L750.4,296.9L751.9,294.7M756.2,288.0L757.7,285.7L759.2,283.5L760.6,281.3M765.0,274.6L766.5,272.3L768.0,270.1L769.5,267.9M773.9,261.1L775.4,258.9L776.9,256.7L778.3,254.4M782.8,247.7L784.3,245.5L785.8,243.2L787.3,241.0M791.8,234.3L793.3,232.1L794.8,229.8L796.3,227.6M800.8,220.9L802.3,218.6L803.9,216.4L805.4,214.2M809.9,207.5L811.5,205.2L813.0,203.0L814.5,200.7M819.1,194.0L820.6,191.8L822.2,189.6L823.7,187.3M828.3,180.6L829.9,178.4L831.4,176.1L832.9,173.9M837.6,167.2L839.1,165.0L840.7,162.7L842.3,160.5M846.9,153.8L848.5,151.5L850.1,149.3L851.6,147.1M856.3,140.4L857.9,138.1L859.5,135.9L861.0,133.7M865.8,126.9L867.4,124.7L868.9,122.5L870.5,120.2M875.3,113.5L876.9,111.3L878.5,109.0L880.1,106.8M884.8,100.1L886.4,97.9L888.0,95.6L889.6,93.4M894.5,86.7L896.1,84.4L897.7,82.2L899.3,80.0M645.7,502.7L646.9,500.5L648.2,498.2L649.4,496.0M653.2,489.3L654.4,487.0L655.7,484.8L656.9,482.6M660.7,475.9L661.9,473.6L663.2,471.4L664.5,469.2M668.3,462.4L669.6,460.2L670.9,458.0L672.1,455.7M676.0,449.0L677.3,446.8L678.6,444.5L679.9,442.3M683.8,435.6L685.1,433.4L686.4,431.1L687.7,428.9M691.6,422.2L692.9,419.9L694.2,417.7L695.6,415.5M699.5,408.8L700.9,406.5L702.2,404.3L703.5,402.1M707.5,395.3L708.9,393.1L710.2,390.9L711.6,388.6M715.6,381.9L717.0,379.7L718.3,377.4L719.7,375.2M723.8,368.5L725.1,366.3L726.5,364.0L727.9,361.8M732.0,355.1L733.4,352.8L734.7,350.6L736.1,348.4M740.3,341.7L741.7,339.4L743.1,337.2L744.4,334.9M748.6,328.2L750.0,326.0L751.4,323.8L752.8,321.5M757.1,314.8L758.5,312.6L759.9,310.3L761.3,308.1M765.6,301.4L767.0,299.2L768.4,296.9L769.8,294.7M774.1,288.0L775.6,285.7L777.0,283.5L778.4,281.3M782.8,274.6L784.2,272.3L785.7,270.1L787.1,267.9M791.5,261.1L792.9,258.9L794.4,256.7L795.8,254.4M800.2,247.7L801.7,245.5L803.2,243.2L804.6,241.0M809.1,234.3L810.5,232.1L812.0,229.8L813.5,227.6M818.0,220.9L819.5,218.6L820.9,216.4L822.4,214.2M826.9,207.5L828.4,205.2L829.9,203.0L831.4,200.7M835.9,194.0L837.4,191.8L839.0,189.6L840.5,187.3M845.0,180.6L846.5,178.4L848.1,176.1L849.6,173.9M854.2,167.2L855.7,165.0L857.2,162.7L858.8,160.5M863.4,153.8L864.9,151.5L866.4,149.3L868.0,147.1M872.6,140.4L874.2,138.1L875.7,135.9L877.3,133.7M881.9,126.9L883.5,124.7L885.1,122.5L886.6,120.2M891.3,113.5L892.9,111.3L894.4,109.0L896.0,106.8M900.7,100.1L902.3,97.9L903.9,95.6L905.5,93.4M910.2,86.7L911.8,84.4L913.4,82.2L915.0,80.0M678.9,502.7L680.1,500.5L681.3,498.2L682.5,496.0M686.1,489.3L687.2,487.0L688.4,484.8L689.7,482.6M693.3,475.9L694.5,473.6L695.7,471.4L696.9,469.2M700.6,462.4L701.8,460.2L703.0,458.0L704.3,455.7M708.0,449.0L709.2,446.8L710.5,444.5L711.7,442.3M715.4,435.6L716.7,433.4L718.0,431.1L719.2,428.9M723.0,422.2L724.3,419.9L725.5,417.7L726.8,415.5M730.6,408.8L731.9,406.5L733.2,404.3L734.5,402.1M738.4,395.3L739.6,393.1L740.9,390.9L742.2,388.6M746.1,381.9L747.5,379.7L748.8,377.4L750.1,375.2M754.0,368.5L755.3,366.3L756.7,364.0L758.0,361.8M762.0,355.1L763.3,352.8L764.6,350.6L766.0,348.4M770.0,341.7L771.3,339.4L772.7,337.2L774.0,334.9M778.1,328.2L779.4,326.0L780.8,323.8L782.2,321.5M786.3,314.8L787.6,312.6L789.0,310.3L790.4,308.1M794.5,301.4L795.9,299.2L797.3,296.9L798.6,294.7M802.8,288.0L804.2,285.7L805.6,283.5L807.0,281.3M811.2,274.6L812.6,272.3L814.0,270.1L815.4,267.9M819.6,261.1L821.1,258.9L822.5,256.7L823.9,254.4M828.2,247.7L829.6,245.5L831.0,243.2L832.5,241.0M836.8,234.3L838.2,232.1L839.6,229.8L841.1,227.6M845.4,220.9L846.9,218.6L848.3,216.4L849.8,214.2M854.1,207.5L855.6,205.2L857.1,203.0L858.5,200.7M862.9,194.0L864.4,191.8L865.9,189.6L867.3,187.3M871.8,180.6L873.3,178.4L874.7,176.1L876.2,173.9M880.7,167.2L882.2,165.0L883.7,162.7L885.2,160.5M889.7,153.8L891.2,151.5L892.7,149.3L894.2,147.1M898.7,140.4L900.2,138.1L901.7,135.9L903.2,133.7M907.8,126.9L909.3,124.7L910.8,122.5L912.4,120.2M917.0,113.5L918.5,111.3L920.0,109.0L921.6,106.8M926.2,100.1L927.7,97.9L929.3,95.6L930.8,93.4M935.4,86.7L937.0,84.4L938.6,82.2L940.1,80.0" stroke="#5a00a0"/>
</g>
<path d="M87,74.5L697,74.5M87,503.5L697,503.5M87.5,74L87.5,504M87,201.5L697,201.5M87,275.5L697,275.5M87,327.5L697,327.5M87,368.5L697,368.5M87,401.5L697,401.5M87,429.5L697,429.5M87,453.5L697,453.5M87,475.5L697,475.5M87,494.5L697,494.5" stroke="#000" fill="none" shape-rendering="crispEdges"/>
<g fill="none" stroke-width="1.6" stroke-linejoin="round" shape-rendering="crispEdges">
<path d="M431.8,74.5L409.6,145.0L408.1,148.9L420.3,170.4L439.7,201.2L456.2,220.9L473.7,241.4L481.5,260.0L488.5,274.9L506.5,327.2L522.7,368.3L530.3,391.0L533.1,401.5L537.5,411.0L544.8,429.4L539.0,440.0L532.9,453.2L525.8,466.0L520.7,472.6L517.6,477.6L516.6,480.7L519.7,486.8L523.7,492.9L528.8,497.5" stroke="#f00"/>
<path d="M343.8,74.5L321.1,126.0L309.9,148.8L310.9,156.2L312.3,164.5L313.2,172.0L316.4,201.4L352.9,242.2L369.6,251.3L386.4,260.3L398.9,268.0L412.7,275.5L472.9,327.4L482.9,349.7L491.7,368.4L480.1,401.2L476.0,417.0L471.8,429.5L480.6,453.1L483.6,464.4L494.2,470.5L509.5,479.7L516.6,487.8L524.8,494.9L527.8,497.5" stroke="#00f"/>
<path d="M529.3,497.5L529.0,496.6L528.6,495.7L528.3,494.8L527.9,493.9L527.6,493.0L527.2,492.0L526.8,491.1L526.4,490.2L526.1,489.2L525.7,488.3L525.3,487.4L524.9,486.4L524.5,485.4L524.1,484.5L523.7,483.5L523.2,482.5L522.8,481.6L522.4,480.6L522.0,479.6L521.5,478.6L521.1,477.6L520.6,476.6L520.2,475.6L519.7,474.6L519.2,473.6L518.8,472.5L518.3,471.5L517.9,470.5L517.4,469.4L516.9,468.4L516.4,467.3L515.9,466.3L515.4,465.2L514.9,464.1L514.4,463.0L513.8,462.0L513.3,460.9L512.8,459.8L512.2,458.7L511.6,457.5L511.1,456.4L510.5,455.3L509.9,454.2L509.3,453.0L508.8,451.9L508.2,450.7L507.6,449.5L507.1,448.4L506.5,447.2L505.9,446.0L505.2,444.8L504.6,443.6L504.0,442.4L503.3,441.2L502.7,440.0L502.0,438.7L501.3,437.5L500.6,436.2L499.9,435.0L499.2,433.7L498.5,432.4L497.8,431.1L497.0,429.8L496.3,428.5L495.5,427.2L494.7,425.9L494.0,424.6L493.2,423.2L492.3,421.9L491.5,420.5L490.7,419.1L489.8,417.8L488.9,416.4L488.0,415.0L487.1,413.5L486.2,412.1L485.3,410.7L484.3,409.2L483.3,407.8L482.3,406.3L481.3,404.8L480.3,403.3L479.2,401.8L478.0,400.3L476.8,398.7L475.6,397.2L474.4,395.6L473.1,394.0L471.8,392.5L470.5,390.9L469.2,389.2L467.8,387.6L466.4,386.0L465.0,384.3L463.6,382.6L462.1,380.9L460.6,379.2L459.1,377.5L457.5,375.8L455.9,374.0L454.3,372.2L452.6,370.4L450.9,368.6L449.2,366.8L447.4,364.9L445.7,363.1L443.8,361.2L442.0,359.3L440.1,357.4L438.2,355.4L436.2,353.4L434.2,351.5L432.1,349.5L430.1,347.4L428.0,345.4L425.8,343.3L423.6,341.2L421.4,339.1L419.1,336.9L416.8,334.7L414.4,332.5L412.0,330.3L409.6,328.0L407.1,325.7L404.6,323.4L402.1,321.1L399.5,318.7L396.8,316.3L394.2,313.9L391.5,311.4L388.7,308.9L385.9,306.3L383.1,303.8L380.2,301.1L377.3,298.5L374.3,295.8L371.3,293.1L368.2,290.3L365.2,287.5L362.0,284.6L358.9,281.7L355.7,278.7L352.4,275.7L349.2,272.7L345.9,269.6L342.5,266.4L339.0,263.2L335.6,259.9L332.1,256.6L328.5,253.2L325.0,249.8L321.4,246.2L317.7,242.6L314.0,239.0L310.3,235.2L306.5,231.4L302.7,227.5L298.9,223.5L295.1,219.4L291.2,215.3L287.2,211.0L283.2,206.6L279.2,202.1L275.2,197.5L271.1,192.8L267.0,188.0L262.8,183.0L258.6,177.9L254.4,172.7L250.1,167.3L245.8,161.7L241.5,155.9L237.1,150.0L232.7,143.9L228.3,137.5L223.8,130.9L219.3,124.1L214.7,117.0L210.2,109.6L205.5,102.0L200.9,93.9L196.3,85.5L191.6,76.7L190.6,74.5" stroke="#5a00a0"/>
</g>
<path d="M516.7,480.5H522.3M518.0,483.5H523.7M519.5,486.5H524.9M521.5,489.5H526.2M523.4,492.5H527.4M526.6,495.5H528.6" stroke="#5a00a0" stroke-width="1" shape-rendering="crispEdges"/>
<g fill="none" stroke-width="1" shape-rendering="crispEdges"><path d="M86.20,51.80L90.23,40.30L94.27,51.80M87.71,47.97L92.75,47.97M96.79,40.30L96.79,51.80M100.82,51.80L100.82,40.30L105.36,40.30L106.87,40.85L107.37,41.40L107.88,42.49L107.88,43.59L107.37,44.68L106.87,45.23L105.36,45.78L100.82,45.78M104.35,45.78L107.88,51.80M117.96,41.94L116.95,40.85L115.44,40.30L113.42,40.30L111.91,40.85L110.90,41.94L110.90,43.04L111.41,44.13L111.91,44.68L112.92,45.23L115.94,46.32L116.95,46.87L117.46,47.42L117.96,48.51L117.96,50.16L116.95,51.25L115.44,51.80L113.42,51.80L111.91,51.25L110.90,50.16M136.11,41.94L135.10,40.85L133.59,40.30L131.57,40.30L130.06,40.85L129.05,41.94L129.05,43.04L129.56,44.13L130.06,44.68L131.07,45.23L134.09,46.32L135.10,46.87L135.60,47.42L136.11,48.51L136.11,50.16L135.10,51.25L133.59,51.80L131.57,51.80L130.06,51.25L129.05,50.16M139.64,40.30L139.64,51.80M144.68,44.13L139.64,49.61M141.65,47.42L145.18,51.80M147.70,47.42L153.75,47.42L153.75,46.32L153.25,45.23L152.75,44.68L151.74,44.13L150.22,44.13L149.22,44.68L148.21,45.78L147.70,47.42L147.70,48.51L148.21,50.16L149.22,51.25L150.22,51.80L151.74,51.80L152.75,51.25L153.75,50.16M156.78,44.13L158.79,51.80L160.81,44.13L162.83,51.80L164.84,44.13M170.39,40.30L170.39,51.80M166.86,40.30L173.92,40.30M184.51,51.80L184.51,40.30L188.03,40.30L189.55,40.85L190.55,41.94L191.06,43.04L191.56,44.68L191.56,47.42L191.06,49.06L190.55,50.16L189.55,51.25L188.03,51.80L184.51,51.80M194.59,40.30L195.09,40.85L195.60,40.30L195.09,39.75L194.59,40.30M195.09,44.13L195.09,51.80M204.67,44.13L204.67,51.80M204.67,45.78L203.66,44.68L202.65,44.13L201.14,44.13L200.13,44.68L199.13,45.78L198.62,47.42L198.62,48.51L199.13,50.16L200.13,51.25L201.14,51.80L202.65,51.80L203.66,51.25L204.67,50.16M214.25,44.13L214.25,52.90L213.74,54.54L213.24,55.09L212.23,55.63L210.72,55.63L209.71,55.09M214.25,45.78L213.24,44.68L212.23,44.13L210.72,44.13L209.71,44.68L208.70,45.78L208.20,47.42L208.20,48.51L208.70,50.16L209.71,51.25L210.72,51.80L212.23,51.80L213.24,51.25L214.25,50.16M218.28,44.13L218.28,51.80M218.28,47.42L218.79,45.78L219.79,44.68L220.80,44.13L222.31,44.13M230.38,44.13L230.38,51.80M230.38,45.78L229.37,44.68L228.36,44.13L226.85,44.13L225.84,44.68L224.84,45.78L224.33,47.42L224.33,48.51L224.84,50.16L225.84,51.25L226.85,51.80L228.36,51.80L229.37,51.25L230.38,50.16M234.41,44.13L234.41,51.80M234.41,46.32L235.93,44.68L236.93,44.13L238.45,44.13L239.46,44.68L239.96,46.32L239.96,51.80M239.96,46.32L241.47,44.68L242.48,44.13L243.99,44.13L245.00,44.68L245.50,46.32L245.50,51.80M257.60,43.04L257.60,42.49L258.11,41.40L258.61,40.85L259.62,40.30L261.64,40.30L262.65,40.85L263.15,41.40L263.65,42.49L263.65,43.59L263.15,44.68L262.14,46.32L257.10,51.80L264.16,51.80M270.21,40.30L268.69,40.85L267.69,42.49L267.18,45.23L267.18,46.87L267.69,49.61L268.69,51.25L270.21,51.80L271.22,51.80L272.73,51.25L273.74,49.61L274.24,46.87L274.24,45.23L273.74,42.49L272.73,40.85L271.22,40.30L270.21,40.30M278.78,42.49L279.79,41.94L281.30,40.30L281.30,51.80M290.37,40.30L288.86,40.85L287.85,42.49L287.35,45.23L287.35,46.87L287.85,49.61L288.86,51.25L290.37,51.80L291.38,51.80L292.89,51.25L293.90,49.61L294.41,46.87L294.41,45.23L293.90,42.49L292.89,40.85L291.38,40.30L290.37,40.30M297.93,46.87L307.01,46.87M312.05,42.49L313.06,41.94L314.57,40.30L314.57,51.80M323.65,40.30L322.13,40.85L321.12,42.49L320.62,45.23L320.62,46.87L321.12,49.61L322.13,51.25L323.65,51.80L324.65,51.80L326.17,51.25L327.17,49.61L327.68,46.87L327.68,45.23L327.17,42.49L326.17,40.85L324.65,40.30L323.65,40.30M331.21,46.87L340.28,46.87M345.32,42.49L346.33,41.94L347.84,40.30L347.84,51.80M358.93,40.30L353.89,47.97L361.45,47.97M358.93,40.30L358.93,51.80M372.55,38.11L363.47,55.63M376.58,42.49L377.59,41.94L379.10,40.30L379.10,51.80M387.67,40.30L386.16,40.85L385.65,41.94L385.65,43.04L386.16,44.13L387.17,44.68L389.18,45.23L390.69,45.78L391.70,46.87L392.21,47.97L392.21,49.61L391.70,50.70L391.20,51.25L389.69,51.80L387.67,51.80L386.16,51.25L385.65,50.70L385.15,49.61L385.15,47.97L385.65,46.87L386.66,45.78L388.17,45.23L390.19,44.68L391.20,44.13L391.70,43.04L391.70,41.94L391.20,40.85L389.69,40.30L387.67,40.30M396.24,44.13L395.74,44.68L396.24,45.23L396.74,44.68L396.24,44.13M396.24,50.70L395.74,51.25L396.24,51.80L396.74,51.25L396.24,50.70M401.79,42.49L402.79,41.94L404.31,40.30L404.31,51.80M411.36,40.30L416.91,40.30L413.88,44.68L415.40,44.68L416.40,45.23L416.91,45.78L417.41,47.42L417.41,48.51L416.91,50.16L415.90,51.25L414.39,51.80L412.88,51.80L411.36,51.25L410.86,50.70L410.36,49.61M421.45,44.13L420.94,44.68L421.45,45.23L421.95,44.68L421.45,44.13M421.45,50.70L420.94,51.25L421.45,51.80L421.95,51.25L421.45,50.70M426.49,40.30L432.03,40.30L429.01,44.68L430.52,44.68L431.53,45.23L432.03,45.78L432.54,47.42L432.54,48.51L432.03,50.16L431.02,51.25L429.51,51.80L428.00,51.80L426.49,51.25L425.98,50.70L425.48,49.61M442.12,44.13L441.61,45.78L440.60,46.87L439.09,47.42L438.59,47.42L437.07,46.87L436.07,45.78L435.56,44.13L435.56,43.59L436.07,41.94L437.07,40.85L438.59,40.30L439.09,40.30L440.60,40.85L441.61,41.94L442.12,44.13L442.12,46.87L441.61,49.61L440.60,51.25L439.09,51.80L438.08,51.80L436.57,51.25L436.07,50.16M446.65,50.70L446.15,51.25L446.65,51.80L447.16,51.25L446.65,50.70M457.24,44.13L456.74,45.78L455.73,46.87L454.21,47.42L453.71,47.42L452.20,46.87L451.19,45.78L450.69,44.13L450.69,43.59L451.19,41.94L452.20,40.85L453.71,40.30L454.21,40.30L455.73,40.85L456.74,41.94L457.24,44.13L457.24,46.87L456.74,49.61L455.73,51.25L454.21,51.80L453.21,51.80L451.69,51.25L451.19,50.16M461.78,40.30L467.32,40.30L464.30,44.68L465.81,44.68L466.82,45.23L467.32,45.78L467.83,47.42L467.83,48.51L467.32,50.16L466.31,51.25L464.80,51.80L463.29,51.80L461.78,51.25L461.27,50.70L460.77,49.61M482.95,38.11L481.94,39.20L480.93,40.85L479.93,43.04L479.42,45.78L479.42,47.97L479.93,50.70L480.93,52.90L481.94,54.54L482.95,55.63M486.48,40.30L486.48,51.80L492.53,51.80M500.59,44.13L500.59,51.80M500.59,45.78L499.59,44.68L498.58,44.13L497.07,44.13L496.06,44.68L495.05,45.78L494.54,47.42L494.54,48.51L495.05,50.16L496.06,51.25L497.07,51.80L498.58,51.80L499.59,51.25L500.59,50.16M505.13,40.30L505.13,49.61L505.64,51.25L506.64,51.80L507.65,51.80M503.62,44.13L507.15,44.13M518.74,38.11L509.67,55.63M521.77,40.30L521.77,51.80L527.82,51.80M532.35,44.13L531.35,44.68L530.34,45.78L529.83,47.42L529.83,48.51L530.34,50.16L531.35,51.25L532.35,51.80L533.87,51.80L534.88,51.25L535.88,50.16L536.39,48.51L536.39,47.42L535.88,45.78L534.88,44.68L533.87,44.13L532.35,44.13M539.92,44.13L539.92,51.80M539.92,46.32L541.43,44.68L542.44,44.13L543.95,44.13L544.96,44.68L545.46,46.32L545.46,51.80M558.07,40.30L563.61,40.30L560.59,44.68L562.10,44.68L563.11,45.23L563.61,45.78L564.11,47.42L564.11,48.51L563.61,50.16L562.60,51.25L561.09,51.80L559.58,51.80L558.07,51.25L557.56,50.70L557.06,49.61M570.16,40.30L568.65,40.85L567.64,42.49L567.14,45.23L567.14,46.87L567.64,49.61L568.65,51.25L570.16,51.80L571.17,51.80L572.69,51.25L573.69,49.61L574.20,46.87L574.20,45.23L573.69,42.49L572.69,40.85L571.17,40.30L570.16,40.30M578.23,50.70L577.73,51.25L578.23,51.80L578.73,51.25L578.23,50.70M585.29,40.30L583.78,40.85L582.77,42.49L582.26,45.23L582.26,46.87L582.77,49.61L583.78,51.25L585.29,51.80L586.30,51.80L587.81,51.25L588.82,49.61L589.32,46.87L589.32,45.23L588.82,42.49L587.81,40.85L586.30,40.30L585.29,40.30M598.40,40.30L593.35,40.30L592.85,45.23L593.35,44.68L594.87,44.13L596.38,44.13L597.89,44.68L598.90,45.78L599.40,47.42L599.40,48.51L598.90,50.16L597.89,51.25L596.38,51.80L594.87,51.80L593.35,51.25L592.85,50.70L592.35,49.61M611.00,38.11L601.92,55.63M615.03,42.49L616.04,41.94L617.55,40.30L617.55,51.80M625.11,42.49L626.12,41.94L627.64,40.30L627.64,51.80M640.24,41.94L639.73,40.85L638.22,40.30L637.21,40.30L635.70,40.85L634.69,42.49L634.19,45.23L634.19,47.97L634.69,50.16L635.70,51.25L637.21,51.80L637.72,51.80L639.23,51.25L640.24,50.16L640.74,48.51L640.74,47.97L640.24,46.32L639.23,45.23L637.72,44.68L637.21,44.68L635.70,45.23L634.69,46.32L634.19,47.97M644.78,50.70L644.27,51.25L644.78,51.80L645.28,51.25L644.78,50.70M649.82,40.30L655.36,40.30L652.34,44.68L653.85,44.68L654.86,45.23L655.36,45.78L655.87,47.42L655.87,48.51L655.36,50.16L654.35,51.25L652.84,51.80L651.33,51.80L649.82,51.25L649.31,50.70L648.81,49.61M661.41,40.30L659.90,40.85L659.40,41.94L659.40,43.04L659.90,44.13L660.91,44.68L662.92,45.23L664.44,45.78L665.44,46.87L665.95,47.97L665.95,49.61L665.44,50.70L664.94,51.25L663.43,51.80L661.41,51.80L659.90,51.25L659.40,50.70L658.89,49.61L658.89,47.97L659.40,46.87L660.40,45.78L661.92,45.23L663.93,44.68L664.94,44.13L665.44,43.04L665.44,41.94L664.94,40.85L663.43,40.30L661.41,40.30M683.09,40.30L683.09,51.80M683.09,45.78L682.08,44.68L681.07,44.13L679.56,44.13L678.55,44.68L677.54,45.78L677.04,47.42L677.04,48.51L677.54,50.16L678.55,51.25L679.56,51.80L681.07,51.80L682.08,51.25L683.09,50.16M686.62,47.42L692.67,47.42L692.67,46.32L692.16,45.23L691.66,44.68L690.65,44.13L689.14,44.13L688.13,44.68L687.12,45.78L686.62,47.42L686.62,48.51L687.12,50.16L688.13,51.25L689.14,51.80L690.65,51.80L691.66,51.25L692.67,50.16M701.74,44.13L701.74,52.90L701.24,54.54L700.73,55.09L699.73,55.63L698.21,55.63L697.21,55.09M701.74,45.78L700.73,44.68L699.73,44.13L698.21,44.13L697.21,44.68L696.20,45.78L695.69,47.42L695.69,48.51L696.20,50.16L697.21,51.25L698.21,51.80L699.73,51.80L700.73,51.25L701.74,50.16M705.27,38.11L706.28,39.20L707.29,40.85L708.30,43.04L708.80,45.78L708.80,47.97L708.30,50.70L707.29,52.90L706.28,54.54L705.27,55.63" stroke="#000"/><path d="M114.90,62.47L121.03,62.47M124.43,59.69L125.12,59.34L126.14,58.30L126.14,65.60M130.56,60.04L130.56,59.69L130.90,59.00L131.24,58.65L131.93,58.30L133.29,58.30L133.97,58.65L134.31,59.00L134.65,59.69L134.65,60.39L134.31,61.08L133.63,62.12L130.22,65.60L134.99,65.60M139.08,58.30L138.05,58.65L137.37,59.69L137.03,61.43L137.03,62.47L137.37,64.21L138.05,65.25L139.08,65.60L139.76,65.60L140.78,65.25L141.46,64.21L141.80,62.47L141.80,61.43L141.46,59.69L140.78,58.65L139.76,58.30L139.08,58.30" stroke="#f00"/><path d="M181.10,62.47L187.39,62.47M190.88,59.69L191.58,59.34L192.63,58.30L192.63,65.60M197.87,59.69L198.57,59.34L199.62,58.30L199.62,65.60M205.91,58.30L204.86,58.65L204.16,59.69L203.81,61.43L203.81,62.47L204.16,64.21L204.86,65.25L205.91,65.60L206.60,65.60L207.65,65.25L208.35,64.21L208.70,62.47L208.70,61.43L208.35,59.69L207.65,58.65L206.60,58.30L205.91,58.30" stroke="#f00"/><path d="M249.10,62.47L255.80,62.47M259.52,59.69L260.26,59.34L261.38,58.30L261.38,65.60M268.08,58.30L266.96,58.65L266.22,59.69L265.85,61.43L265.85,62.47L266.22,64.21L266.96,65.25L268.08,65.60L268.82,65.60L269.94,65.25L270.68,64.21L271.06,62.47L271.06,61.43L270.68,59.69L269.94,58.65L268.82,58.30L268.08,58.30M275.52,58.30L274.41,58.65L273.66,59.69L273.29,61.43L273.29,62.47L273.66,64.21L274.41,65.25L275.52,65.60L276.27,65.60L277.38,65.25L278.13,64.21L278.50,62.47L278.50,61.43L278.13,59.69L277.38,58.65L276.27,58.30L275.52,58.30" stroke="#f00"/><path d="M322.60,62.47L329.34,62.47M336.83,60.73L336.46,61.78L335.71,62.47L334.59,62.82L334.21,62.82L333.09,62.47L332.34,61.78L331.96,60.73L331.96,60.39L332.34,59.34L333.09,58.65L334.21,58.30L334.59,58.30L335.71,58.65L336.46,59.34L336.83,60.73L336.83,62.47L336.46,64.21L335.71,65.25L334.59,65.60L333.84,65.60L332.71,65.25L332.34,64.56M341.70,58.30L340.58,58.65L339.83,59.69L339.46,61.43L339.46,62.47L339.83,64.21L340.58,65.25L341.70,65.60L342.45,65.60L343.58,65.25L344.33,64.21L344.70,62.47L344.70,61.43L344.33,59.69L343.58,58.65L342.45,58.30L341.70,58.30" stroke="#f00"/><path d="M391.50,62.47L397.45,62.47M401.42,58.30L400.42,58.65L400.09,59.34L400.09,60.04L400.42,60.73L401.08,61.08L402.41,61.43L403.40,61.78L404.06,62.47L404.39,63.17L404.39,64.21L404.06,64.90L403.73,65.25L402.74,65.60L401.42,65.60L400.42,65.25L400.09,64.90L399.76,64.21L399.76,63.17L400.09,62.47L400.75,61.78L401.75,61.43L403.07,61.08L403.73,60.73L404.06,60.04L404.06,59.34L403.73,58.65L402.74,58.30L401.42,58.30M408.36,58.30L407.36,58.65L406.70,59.69L406.37,61.43L406.37,62.47L406.70,64.21L407.36,65.25L408.36,65.60L409.02,65.60L410.01,65.25L410.67,64.21L411.00,62.47L411.00,61.43L410.67,59.69L410.01,58.65L409.02,58.30L408.36,58.30" stroke="#f00"/><path d="M460.70,62.47L466.62,62.47M473.52,58.30L470.24,65.60M468.92,58.30L473.52,58.30M477.47,58.30L476.48,58.65L475.83,59.69L475.50,61.43L475.50,62.47L475.83,64.21L476.48,65.25L477.47,65.60L478.13,65.60L479.11,65.25L479.77,64.21L480.10,62.47L480.10,61.43L479.77,59.69L479.11,58.65L478.13,58.30L477.47,58.30" stroke="#f00"/><path d="M526.80,62.47L533.54,62.47M541.03,59.34L540.66,58.65L539.54,58.30L538.79,58.30L537.66,58.65L536.91,59.69L536.54,61.43L536.54,63.17L536.91,64.56L537.66,65.25L538.79,65.60L539.16,65.60L540.28,65.25L541.03,64.56L541.41,63.51L541.41,63.17L541.03,62.12L540.28,61.43L539.16,61.08L538.79,61.08L537.66,61.43L536.91,62.12L536.54,63.17M545.90,58.30L544.78,58.65L544.03,59.69L543.66,61.43L543.66,62.47L544.03,64.21L544.78,65.25L545.90,65.60L546.65,65.60L547.78,65.25L548.53,64.21L548.90,62.47L548.90,61.43L548.53,59.69L547.78,58.65L546.65,58.30L545.90,58.30" stroke="#f00"/><path d="M594.90,62.47L601.03,62.47M607.51,58.30L604.10,58.30L603.76,61.43L604.10,61.08L605.12,60.73L606.14,60.73L607.16,61.08L607.85,61.78L608.19,62.82L608.19,63.51L607.85,64.56L607.16,65.25L606.14,65.60L605.12,65.60L604.10,65.25L603.76,64.90L603.42,64.21M612.27,58.30L611.25,58.65L610.57,59.69L610.23,61.43L610.23,62.47L610.57,64.21L611.25,65.25L612.27,65.60L612.96,65.60L613.98,65.25L614.66,64.21L615.00,62.47L615.00,61.43L614.66,59.69L613.98,58.65L612.96,58.30L612.27,58.30" stroke="#f00"/><path d="M662.90,62.47L669.06,62.47M674.88,58.30L671.46,63.17L676.59,63.17M674.88,58.30L674.88,65.60M680.36,58.30L679.33,58.65L678.65,59.69L678.31,61.43L678.31,62.47L678.65,64.21L679.33,65.25L680.36,65.60L681.05,65.60L682.07,65.25L682.76,64.21L683.10,62.47L683.10,61.43L682.76,59.69L682.07,58.65L681.05,58.30L680.36,58.30" stroke="#f00"/><path d="M87.70,513.87L94.20,513.87M101.06,509.70L97.45,509.70L97.09,512.83L97.45,512.48L98.53,512.13L99.61,512.13L100.70,512.48L101.42,513.18L101.78,514.22L101.78,514.91L101.42,515.96L100.70,516.65L99.61,517.00L98.53,517.00L97.45,516.65L97.09,516.30L96.73,515.61M106.11,509.70L105.03,510.05L104.31,511.09L103.95,512.83L103.95,513.87L104.31,515.61L105.03,516.65L106.11,517.00L106.83,517.00L107.92,516.65L108.64,515.61L109.00,513.87L109.00,512.83L108.64,511.09L107.92,510.05L106.83,509.70L106.11,509.70" stroke="#f00"/><path d="M155.00,513.87L161.41,513.87M167.46,509.70L163.90,514.57L169.24,514.57M167.46,509.70L167.46,517.00M173.15,509.70L172.08,510.05L171.37,511.09L171.02,512.83L171.02,513.87L171.37,515.61L172.08,516.65L173.15,517.00L173.86,517.00L174.93,516.65L175.64,515.61L176.00,513.87L176.00,512.83L175.64,511.09L174.93,510.05L173.86,509.70L173.15,509.70" stroke="#f00"/><path d="M223.80,513.87L230.15,513.87M233.32,509.70L237.20,509.70L235.08,512.48L236.14,512.48L236.84,512.83L237.20,513.18L237.55,514.22L237.55,514.91L237.20,515.96L236.49,516.65L235.43,517.00L234.38,517.00L233.32,516.65L232.97,516.30L232.61,515.61M241.78,509.70L240.72,510.05L240.02,511.09L239.66,512.83L239.66,513.87L240.02,515.61L240.72,516.65L241.78,517.00L242.48,517.00L243.54,516.65L244.25,515.61L244.60,513.87L244.60,512.83L244.25,511.09L243.54,510.05L242.48,509.70L241.78,509.70" stroke="#f00"/><path d="M291.40,513.87L297.56,513.87M300.30,511.44L300.30,511.09L300.64,510.40L300.99,510.05L301.67,509.70L303.04,509.70L303.73,510.05L304.07,510.40L304.41,511.09L304.41,511.79L304.07,512.48L303.38,513.52L299.96,517.00L304.75,517.00M308.86,509.70L307.83,510.05L307.15,511.09L306.81,512.83L306.81,513.87L307.15,515.61L307.83,516.65L308.86,517.00L309.55,517.00L310.57,516.65L311.26,515.61L311.60,513.87L311.60,512.83L311.26,511.09L310.57,510.05L309.55,509.70L308.86,509.70" stroke="#f00"/><path d="M359.60,513.87L365.82,513.87M369.28,511.09L369.97,510.74L371.01,509.70L371.01,517.00M377.23,509.70L376.20,510.05L375.51,511.09L375.16,512.83L375.16,513.87L375.51,515.61L376.20,516.65L377.23,517.00L377.93,517.00L378.96,516.65L379.65,515.61L380.00,513.87L380.00,512.83L379.65,511.09L378.96,510.05L377.93,509.70L377.23,509.70" stroke="#f00"/><path d="M436.26,509.70L434.63,510.05L433.54,511.09L433.00,512.83L433.00,513.87L433.54,515.61L434.63,516.65L436.26,517.00L437.34,517.00L438.97,516.65L440.06,515.61L440.60,513.87L440.60,512.83L440.06,511.09L438.97,510.05L437.34,509.70L436.26,509.70" stroke="#f00"/><path d="M499.00,511.09L499.81,510.74L501.03,509.70L501.03,517.00M508.35,509.70L507.13,510.05L506.32,511.09L505.91,512.83L505.91,513.87L506.32,515.61L507.13,516.65L508.35,517.00L509.16,517.00L510.38,516.65L511.19,515.61L511.60,513.87L511.60,512.83L511.19,511.09L510.38,510.05L509.16,509.70L508.35,509.70" stroke="#f00"/><path d="M566.37,511.44L566.37,511.09L566.74,510.40L567.11,510.05L567.85,509.70L569.34,509.70L570.08,510.05L570.45,510.40L570.82,511.09L570.82,511.79L570.45,512.48L569.71,513.52L566.00,517.00L571.19,517.00M575.64,509.70L574.52,510.05L573.78,511.09L573.41,512.83L573.41,513.87L573.78,515.61L574.52,516.65L575.64,517.00L576.38,517.00L577.49,516.65L578.23,515.61L578.60,513.87L578.60,512.83L578.23,511.09L577.49,510.05L576.38,509.70L575.64,509.70" stroke="#f00"/><path d="M634.53,509.70L638.54,509.70L636.35,512.48L637.45,512.48L638.18,512.83L638.54,513.18L638.91,514.22L638.91,514.91L638.54,515.96L637.81,516.65L636.72,517.00L635.62,517.00L634.53,516.65L634.16,516.30L633.80,515.61M643.28,509.70L642.19,510.05L641.46,511.09L641.09,512.83L641.09,513.87L641.46,515.61L642.19,516.65L643.28,517.00L644.01,517.00L645.11,516.65L645.84,515.61L646.20,513.87L646.20,512.83L645.84,511.09L645.11,510.05L644.01,509.70L643.28,509.70" stroke="#f00"/><path d="M679.70,510.24L679.70,517.00M677.20,510.24L682.19,510.24M686.47,508.95L685.76,509.60L685.05,510.56L684.33,511.85L683.98,513.46L683.98,514.75L684.33,516.36L685.05,517.64L685.76,518.61L686.47,519.25M693.96,511.85L693.61,511.21L692.89,510.56L692.18,510.24L690.75,510.24L690.04,510.56L689.33,511.21L688.97,511.85L688.61,512.82L688.61,514.42L688.97,515.39L689.33,516.03L690.04,516.68L690.75,517.00L692.18,517.00L692.89,516.68L693.61,516.03L693.96,515.39M696.10,508.95L696.82,509.60L697.53,510.56L698.24,511.85L698.60,513.46L698.60,514.75L698.24,516.36L697.53,517.64L696.82,518.61L696.10,519.25" stroke="#f00"/><path d="M676.29,517.19L675.58,517.92L674.87,519.03L674.16,520.50L673.80,522.35L673.80,523.82L674.16,525.66L674.87,527.14L675.58,528.24L676.29,528.98M682.69,521.24L682.69,527.14L682.34,528.24L681.98,528.61L681.27,528.98L680.20,528.98L679.49,528.61M682.69,522.35L681.98,521.61L681.27,521.24L680.20,521.24L679.49,521.61L678.78,522.35L678.42,523.45L678.42,524.19L678.78,525.29L679.49,526.03L680.20,526.40L681.27,526.40L681.98,526.03L682.69,525.29M691.23,517.19L684.83,528.98M693.36,518.66L693.36,526.40M696.92,521.24L693.36,524.93M694.78,523.45L697.27,526.40M703.32,521.24L703.32,527.14L702.96,528.24L702.61,528.61L701.90,528.98L700.83,528.98L700.12,528.61M703.32,522.35L702.61,521.61L701.90,521.24L700.83,521.24L700.12,521.61L699.41,522.35L699.05,523.45L699.05,524.19L699.41,525.29L700.12,526.03L700.83,526.40L701.90,526.40L702.61,526.03L703.32,525.29M705.81,517.19L706.52,517.92L707.23,519.03L707.94,520.50L708.30,522.35L708.30,523.82L707.94,525.66L707.23,527.14L706.52,528.24L705.81,528.98" stroke="#5a00a0"/><path d="M48.60,69.02L49.32,68.64L50.40,67.50L50.40,75.50M56.90,67.50L55.82,67.88L55.09,69.02L54.73,70.93L54.73,72.07L55.09,73.98L55.82,75.12L56.90,75.50L57.62,75.50L58.70,75.12L59.42,73.98L59.78,72.07L59.78,70.93L59.42,69.02L58.70,67.88L57.62,67.50L56.90,67.50M64.11,67.50L63.03,67.88L62.31,69.02L61.95,70.93L61.95,72.07L62.31,73.98L63.03,75.12L64.11,75.50L64.84,75.50L65.92,75.12L66.64,73.98L67.00,72.07L67.00,70.93L66.64,69.02L65.92,67.88L64.84,67.50L64.11,67.50" stroke="#000"/><path d="M48.35,196.40L48.35,196.02L48.70,195.26L49.06,194.88L49.76,194.50L51.17,194.50L51.87,194.88L52.22,195.26L52.57,196.02L52.57,196.79L52.22,197.55L51.52,198.69L48.00,202.50L52.93,202.50M57.15,194.50L56.09,194.88L55.39,196.02L55.04,197.93L55.04,199.07L55.39,200.98L56.09,202.12L57.15,202.50L57.85,202.50L58.91,202.12L59.61,200.98L59.96,199.07L59.96,197.93L59.61,196.02L58.91,194.88L57.85,194.50L57.15,194.50M64.19,194.50L63.13,194.88L62.43,196.02L62.07,197.93L62.07,199.07L62.43,200.98L63.13,202.12L64.19,202.50L64.89,202.50L65.94,202.12L66.65,200.98L67.00,199.07L67.00,197.93L66.65,196.02L65.94,194.88L64.89,194.50L64.19,194.50" stroke="#000"/><path d="M48.80,268.50L52.65,268.50L50.55,271.55L51.60,271.55L52.30,271.93L52.65,272.31L53.00,273.45L53.00,274.21L52.65,275.36L51.95,276.12L50.90,276.50L49.85,276.50L48.80,276.12L48.45,275.74L48.10,274.98M57.20,268.50L56.15,268.88L55.45,270.02L55.10,271.93L55.10,273.07L55.45,274.98L56.15,276.12L57.20,276.50L57.90,276.50L58.95,276.12L59.65,274.98L60.00,273.07L60.00,271.93L59.65,270.02L58.95,268.88L57.90,268.50L57.20,268.50M64.20,268.50L63.15,268.88L62.45,270.02L62.10,271.93L62.10,273.07L62.45,274.98L63.15,276.12L64.20,276.50L64.90,276.50L65.95,276.12L66.65,274.98L67.00,273.07L67.00,271.93L66.65,270.02L65.95,268.88L64.90,268.50L64.20,268.50" stroke="#000"/><path d="M51.52,320.50L48.00,325.83L53.28,325.83M51.52,320.50L51.52,328.50M57.15,320.50L56.09,320.88L55.39,322.02L55.04,323.93L55.04,325.07L55.39,326.98L56.09,328.12L57.15,328.50L57.85,328.50L58.91,328.12L59.61,326.98L59.96,325.07L59.96,323.93L59.61,322.02L58.91,320.88L57.85,320.50L57.15,320.50M64.19,320.50L63.13,320.88L62.43,322.02L62.07,323.93L62.07,325.07L62.43,326.98L63.13,328.12L64.19,328.50L64.89,328.50L65.94,328.12L66.65,326.98L67.00,325.07L67.00,323.93L66.65,322.02L65.94,320.88L64.89,320.50L64.19,320.50" stroke="#000"/><path d="M52.22,361.50L48.70,361.50L48.35,364.93L48.70,364.55L49.76,364.17L50.81,364.17L51.87,364.55L52.57,365.31L52.93,366.45L52.93,367.21L52.57,368.36L51.87,369.12L50.81,369.50L49.76,369.50L48.70,369.12L48.35,368.74L48.00,367.98M57.15,361.50L56.09,361.88L55.39,363.02L55.04,364.93L55.04,366.07L55.39,367.98L56.09,369.12L57.15,369.50L57.85,369.50L58.91,369.12L59.61,367.98L59.96,366.07L59.96,364.93L59.61,363.02L58.91,361.88L57.85,361.50L57.15,361.50M64.19,361.50L63.13,361.88L62.43,363.02L62.07,364.93L62.07,366.07L62.43,367.98L63.13,369.12L64.19,369.50L64.89,369.50L65.94,369.12L66.65,367.98L67.00,366.07L67.00,364.93L66.65,363.02L65.94,361.88L64.89,361.50L64.19,361.50" stroke="#000"/><path d="M52.30,395.64L51.94,394.88L50.87,394.50L50.15,394.50L49.08,394.88L48.36,396.02L48.00,397.93L48.00,399.83L48.36,401.36L49.08,402.12L50.15,402.50L50.51,402.50L51.58,402.12L52.30,401.36L52.66,400.21L52.66,399.83L52.30,398.69L51.58,397.93L50.51,397.55L50.15,397.55L49.08,397.93L48.36,398.69L48.00,399.83M56.96,394.50L55.89,394.88L55.17,396.02L54.81,397.93L54.81,399.07L55.17,400.98L55.89,402.12L56.96,402.50L57.68,402.50L58.75,402.12L59.47,400.98L59.83,399.07L59.83,397.93L59.47,396.02L58.75,394.88L57.68,394.50L56.96,394.50M64.13,394.50L63.06,394.88L62.34,396.02L61.98,397.93L61.98,399.07L62.34,400.98L63.06,402.12L64.13,402.50L64.85,402.50L65.92,402.12L66.64,400.98L67.00,399.07L67.00,397.93L66.64,396.02L65.92,394.88L64.85,394.50L64.13,394.50" stroke="#000"/><path d="M52.93,422.50L49.41,430.50M48.00,422.50L52.93,422.50M57.15,422.50L56.09,422.88L55.39,424.02L55.04,425.93L55.04,427.07L55.39,428.98L56.09,430.12L57.15,430.50L57.85,430.50L58.91,430.12L59.61,428.98L59.96,427.07L59.96,425.93L59.61,424.02L58.91,422.88L57.85,422.50L57.15,422.50M64.19,422.50L63.13,422.88L62.43,424.02L62.07,425.93L62.07,427.07L62.43,428.98L63.13,430.12L64.19,430.50L64.89,430.50L65.94,430.12L66.65,428.98L67.00,427.07L67.00,425.93L66.65,424.02L65.94,422.88L64.89,422.50L64.19,422.50" stroke="#000"/><path d="M49.76,446.50L48.70,446.88L48.35,447.64L48.35,448.40L48.70,449.17L49.41,449.55L50.81,449.93L51.87,450.31L52.57,451.07L52.93,451.83L52.93,452.98L52.57,453.74L52.22,454.12L51.17,454.50L49.76,454.50L48.70,454.12L48.35,453.74L48.00,452.98L48.00,451.83L48.35,451.07L49.06,450.31L50.11,449.93L51.52,449.55L52.22,449.17L52.57,448.40L52.57,447.64L52.22,446.88L51.17,446.50L49.76,446.50M57.15,446.50L56.09,446.88L55.39,448.02L55.04,449.93L55.04,451.07L55.39,452.98L56.09,454.12L57.15,454.50L57.85,454.50L58.91,454.12L59.61,452.98L59.96,451.07L59.96,449.93L59.61,448.02L58.91,446.88L57.85,446.50L57.15,446.50M64.19,446.50L63.13,446.88L62.43,448.02L62.07,449.93L62.07,451.07L62.43,452.98L63.13,454.12L64.19,454.50L64.89,454.50L65.94,454.12L66.65,452.98L67.00,451.07L67.00,449.93L66.65,448.02L65.94,446.88L64.89,446.50L64.19,446.50" stroke="#000"/><path d="M52.42,471.17L52.07,472.31L51.36,473.07L50.29,473.45L49.93,473.45L48.87,473.07L48.16,472.31L47.80,471.17L47.80,470.79L48.16,469.64L48.87,468.88L49.93,468.50L50.29,468.50L51.36,468.88L52.07,469.64L52.42,471.17L52.42,473.07L52.07,474.98L51.36,476.12L50.29,476.50L49.58,476.50L48.51,476.12L48.16,475.36M57.04,468.50L55.98,468.88L55.27,470.02L54.91,471.93L54.91,473.07L55.27,474.98L55.98,476.12L57.04,476.50L57.76,476.50L58.82,476.12L59.53,474.98L59.89,473.07L59.89,471.93L59.53,470.02L58.82,468.88L57.76,468.50L57.04,468.50M64.16,468.50L63.09,468.88L62.38,470.02L62.02,471.93L62.02,473.07L62.38,474.98L63.09,476.12L64.16,476.50L64.87,476.50L65.93,476.12L66.64,474.98L67.00,473.07L67.00,471.93L66.64,470.02L65.93,468.88L64.87,468.50L64.16,468.50" stroke="#000"/><path d="M43.00,489.02L43.68,488.64L44.69,487.50L44.69,495.50M50.77,487.50L49.76,487.88L49.08,489.02L48.75,490.93L48.75,492.07L49.08,493.98L49.76,495.12L50.77,495.50L51.45,495.50L52.46,495.12L53.14,493.98L53.48,492.07L53.48,490.93L53.14,489.02L52.46,487.88L51.45,487.50L50.77,487.50M57.54,487.50L56.52,487.88L55.85,489.02L55.51,490.93L55.51,492.07L55.85,493.98L56.52,495.12L57.54,495.50L58.21,495.50L59.23,495.12L59.90,493.98L60.24,492.07L60.24,490.93L59.90,489.02L59.23,487.88L58.21,487.50L57.54,487.50M64.30,487.50L63.28,487.88L62.61,489.02L62.27,490.93L62.27,492.07L62.61,493.98L63.28,495.12L64.30,495.50L64.97,495.50L65.99,495.12L66.66,493.98L67.00,492.07L67.00,490.93L66.66,489.02L65.99,487.88L64.97,487.50L64.30,487.50" stroke="#000"/><path d="M82.45,332.10L71.95,332.10L71.95,328.24L72.45,326.95L72.95,326.52L73.95,326.09L75.45,326.09L76.45,326.52L76.95,326.95L77.45,328.24L77.45,332.10M82.45,323.09L71.95,323.09L71.95,319.23L72.45,317.94L72.95,317.51L73.95,317.08L74.95,317.08L75.95,317.51L76.45,317.94L76.95,319.23L76.95,323.09M76.95,320.09L82.45,317.08M71.95,308.50L71.95,314.08L82.45,314.08L82.45,308.50M76.95,314.08L76.95,310.65M73.45,300.35L72.45,301.20L71.95,302.49L71.95,304.21L72.45,305.50L73.45,306.35L74.45,306.35L75.45,305.93L75.95,305.50L76.45,304.64L77.45,302.06L77.95,301.20L78.45,300.78L79.45,300.35L80.95,300.35L81.95,301.20L82.45,302.49L82.45,304.21L81.95,305.50L80.95,306.35M73.45,291.76L72.45,292.62L71.95,293.91L71.95,295.63L72.45,296.91L73.45,297.77L74.45,297.77L75.45,297.34L75.95,296.91L76.45,296.06L77.45,293.48L77.95,292.62L78.45,292.19L79.45,291.76L80.95,291.76L81.95,292.62L82.45,293.91L82.45,295.63L81.95,296.91L80.95,297.77M71.95,288.76L79.45,288.76L80.95,288.33L81.95,287.47L82.45,286.19L82.45,285.33L81.95,284.04L80.95,283.18L79.45,282.75L71.95,282.75M82.45,279.32L71.95,279.32L71.95,275.46L72.45,274.17L72.95,273.74L73.95,273.31L74.95,273.31L75.95,273.74L76.45,274.17L76.95,275.46L76.95,279.32M76.95,276.32L82.45,273.31M71.95,264.73L71.95,270.31L82.45,270.31L82.45,264.73M76.95,270.31L76.95,266.88M69.95,252.29L70.95,253.15L72.45,254.00L74.45,254.86L76.95,255.29L78.95,255.29L81.45,254.86L83.45,254.00L84.95,253.15L85.95,252.29M82.45,249.28L71.95,249.28L82.45,245.85L71.95,242.42L82.45,242.42M82.45,238.99L71.95,238.99L71.95,235.12L72.45,233.84L72.95,233.41L73.95,232.98L74.95,232.98L75.95,233.41L76.45,233.84L76.95,235.12M76.95,238.99L76.95,235.12L77.45,233.84L77.95,233.41L78.95,232.98L80.45,232.98L81.45,233.41L81.95,233.84L82.45,235.12L82.45,238.99M69.95,230.40L70.95,229.55L72.45,228.69L74.45,227.83L76.95,227.40L78.95,227.40L81.45,227.83L83.45,228.69L84.95,229.55L85.95,230.40" stroke="#000"/><path d="M117.20,116.70L121.97,103.30L126.75,116.70M118.99,112.23L124.96,112.23M129.73,107.77L129.73,116.70M129.73,110.32L131.52,108.40L132.71,107.77L134.50,107.77L135.70,108.40L136.29,110.32L136.29,116.70M136.29,110.32L138.09,108.40L139.28,107.77L141.07,107.77L142.26,108.40L142.86,110.32L142.86,116.70M147.63,103.30L147.63,116.70M147.63,109.68L148.83,108.40L150.02,107.77L151.81,107.77L153.00,108.40L154.20,109.68L154.79,111.60L154.79,112.87L154.20,114.79L153.00,116.06L151.81,116.70L150.02,116.70L148.83,116.06L147.63,114.79M158.37,103.30L158.97,103.94L159.57,103.30L158.97,102.66L158.37,103.30M158.97,107.77L158.97,116.70M163.15,111.60L170.31,111.60L170.31,110.32L169.71,109.04L169.11,108.40L167.92,107.77L166.13,107.77L164.94,108.40L163.74,109.68L163.15,111.60L163.15,112.87L163.74,114.79L164.94,116.06L166.13,116.70L167.92,116.70L169.11,116.06L170.31,114.79M174.48,107.77L174.48,116.70M174.48,110.32L176.27,108.40L177.47,107.77L179.26,107.77L180.45,108.40L181.05,110.32L181.05,116.70M186.42,103.30L186.42,114.15L187.02,116.06L188.21,116.70L189.40,116.70M184.63,107.77L188.81,107.77M200.74,116.70L205.51,103.30L210.29,116.70M202.53,112.23L208.50,112.23M212.67,103.30L213.27,103.94L213.87,103.30L213.27,102.66L212.67,103.30M213.27,107.77L213.27,116.70M218.04,107.77L218.04,116.70M218.04,111.60L218.64,109.68L219.84,108.40L221.03,107.77L222.82,107.77M237.74,103.30L237.74,116.70M233.56,103.30L241.91,103.30M244.30,111.60L251.46,111.60L251.46,110.32L250.86,109.04L250.27,108.40L249.07,107.77L247.28,107.77L246.09,108.40L244.90,109.68L244.30,111.60L244.30,112.87L244.90,114.79L246.09,116.06L247.28,116.70L249.07,116.70L250.27,116.06L251.46,114.79M255.64,107.77L255.64,116.70M255.64,110.32L257.43,108.40L258.62,107.77L260.41,107.77L261.61,108.40L262.20,110.32L262.20,116.70M262.20,110.32L263.99,108.40L265.19,107.77L266.98,107.77L268.17,108.40L268.77,110.32L268.77,116.70M273.54,107.77L273.54,121.17M273.54,109.68L274.73,108.40L275.93,107.77L277.72,107.77L278.91,108.40L280.10,109.68L280.70,111.60L280.70,112.87L280.10,114.79L278.91,116.06L277.72,116.70L275.93,116.70L274.73,116.06L273.54,114.79" stroke="#f00"/><path d="M119.30,137.40L119.30,125.00L123.49,125.00L125.28,125.59L126.48,126.77L127.07,127.95L127.67,129.72L127.67,132.68L127.07,134.45L126.48,135.63L125.28,136.81L123.49,137.40L119.30,137.40M131.26,132.68L138.44,132.68L138.44,131.50L137.84,130.31L137.24,129.72L136.04,129.13L134.25,129.13L133.05,129.72L131.86,130.90L131.26,132.68L131.26,133.86L131.86,135.63L133.05,136.81L134.25,137.40L136.04,137.40L137.24,136.81L138.44,135.63M142.02,129.13L144.42,137.40L146.81,129.13L149.20,137.40L151.59,129.13M165.34,137.40L165.34,125.00L170.73,125.00L172.52,125.59L173.12,126.18L173.72,127.36L173.72,129.13L173.12,130.31L172.52,130.90L170.73,131.50L165.34,131.50M180.29,129.13L179.10,129.72L177.90,130.90L177.30,132.68L177.30,133.86L177.90,135.63L179.10,136.81L180.29,137.40L182.09,137.40L183.28,136.81L184.48,135.63L185.08,133.86L185.08,132.68L184.48,130.90L183.28,129.72L182.09,129.13L180.29,129.13M188.67,125.00L189.26,125.59L189.86,125.00L189.26,124.41L188.67,125.00M189.26,129.13L189.26,137.40M194.05,129.13L194.05,137.40M194.05,131.50L195.84,129.72L197.04,129.13L198.83,129.13L200.03,129.72L200.63,131.50L200.63,137.40M206.01,125.00L206.01,135.04L206.61,136.81L207.80,137.40L209.00,137.40M204.21,129.13L208.40,129.13M224.55,125.00L224.55,137.40M220.36,125.00L228.73,125.00M231.12,132.68L238.30,132.68L238.30,131.50L237.70,130.31L237.10,129.72L235.91,129.13L234.11,129.13L232.92,129.72L231.72,130.90L231.12,132.68L231.12,133.86L231.72,135.63L232.92,136.81L234.11,137.40L235.91,137.40L237.10,136.81L238.30,135.63M242.48,129.13L242.48,137.40M242.48,131.50L244.28,129.72L245.47,129.13L247.27,129.13L248.46,129.72L249.06,131.50L249.06,137.40M249.06,131.50L250.86,129.72L252.05,129.13L253.85,129.13L255.04,129.72L255.64,131.50L255.64,137.40M260.42,129.13L260.42,141.53M260.42,130.90L261.62,129.72L262.82,129.13L264.61,129.13L265.81,129.72L267.00,130.90L267.60,132.68L267.60,133.86L267.00,135.63L265.81,136.81L264.61,137.40L262.82,137.40L261.62,136.81L260.42,135.63" stroke="#00f"/><path d="M117.20,160.00L121.96,146.60L126.72,160.00M118.98,155.53L124.93,155.53M129.09,146.60L129.69,147.24L130.28,146.60L129.69,145.96L129.09,146.60M129.69,151.07L129.69,160.00M134.45,151.07L134.45,160.00M134.45,154.90L135.04,152.98L136.23,151.70L137.42,151.07L139.21,151.07M151.69,160.00L151.69,146.60L157.05,146.60L158.83,147.24L159.43,147.88L160.02,149.15L160.02,151.07L159.43,152.34L158.83,152.98L157.05,153.62L151.69,153.62M170.73,151.07L170.73,160.00M170.73,152.98L169.54,151.70L168.35,151.07L166.56,151.07L165.37,151.70L164.18,152.98L163.59,154.90L163.59,156.17L164.18,158.09L165.37,159.36L166.56,160.00L168.35,160.00L169.54,159.36L170.73,158.09M175.48,151.07L175.48,160.00M175.48,154.90L176.08,152.98L177.27,151.70L178.46,151.07L180.24,151.07M189.76,152.98L188.57,151.70L187.38,151.07L185.59,151.07L184.41,151.70L183.22,152.98L182.62,154.90L182.62,156.17L183.22,158.09L184.41,159.36L185.59,160.00L187.38,160.00L188.57,159.36L189.76,158.09M193.33,154.90L200.46,154.90L200.46,153.62L199.87,152.34L199.27,151.70L198.08,151.07L196.30,151.07L195.11,151.70L193.92,152.98L193.33,154.90L193.33,156.17L193.92,158.09L195.11,159.36L196.30,160.00L198.08,160.00L199.27,159.36L200.46,158.09M204.63,146.60L204.63,160.00M221.28,146.60L221.28,160.00M217.12,146.60L225.44,146.60M227.82,154.90L234.96,154.90L234.96,153.62L234.36,152.34L233.77,151.70L232.58,151.07L230.79,151.07L229.61,151.70L228.42,152.98L227.82,154.90L227.82,156.17L228.42,158.09L229.61,159.36L230.79,160.00L232.58,160.00L233.77,159.36L234.96,158.09M239.12,151.07L239.12,160.00M239.12,153.62L240.91,151.70L242.09,151.07L243.88,151.07L245.07,151.70L245.66,153.62L245.66,160.00M245.66,153.62L247.45,151.70L248.64,151.07L250.42,151.07L251.61,151.70L252.21,153.62L252.21,160.00M256.96,151.07L256.96,164.47M256.96,152.98L258.15,151.70L259.34,151.07L261.13,151.07L262.32,151.70L263.51,152.98L264.10,154.90L264.10,156.17L263.51,158.09L262.32,159.36L261.13,160.00L259.34,160.00L258.15,159.36L256.96,158.09" stroke="#5a00a0"/><path d="M704.43,75.50L704.43,84.70M701.50,75.50L707.37,75.50M709.47,84.70L709.47,75.50L713.24,75.50L714.50,75.94L714.92,76.38L715.34,77.25L715.34,78.57L714.92,79.44L714.50,79.88L713.24,80.32L709.47,80.32M718.69,78.57L718.27,79.00L718.69,79.44L719.11,79.00L718.69,78.57M718.69,83.82L718.27,84.26L718.69,84.70L719.11,84.26L718.69,83.82M723.30,77.25L724.14,76.81L725.40,75.50L725.40,84.70M732.94,75.50L731.69,75.94L730.85,77.25L730.43,79.44L730.43,80.76L730.85,82.95L731.69,84.26L732.94,84.70L733.78,84.70L735.04,84.26L735.88,82.95L736.30,80.76L736.30,79.44L735.88,77.25L735.04,75.94L733.78,75.50L732.94,75.50M741.33,75.50L740.07,75.94L739.23,77.25L738.81,79.44L738.81,80.76L739.23,82.95L740.07,84.26L741.33,84.70L742.17,84.70L743.43,84.26L744.26,82.95L744.68,80.76L744.68,79.44L744.26,77.25L743.43,75.94L742.17,75.50L741.33,75.50" stroke="#000"/><path d="M701.50,100.37L701.50,91.17L704.85,100.37L708.21,91.17L708.21,100.37M710.72,91.17L712.82,100.37L714.92,91.17L717.01,100.37L719.11,91.17M722.04,94.24L721.62,94.67L722.04,95.11L722.46,94.67L722.04,94.24M722.04,99.49L721.62,99.93L722.04,100.37L722.46,99.93L722.04,99.49M725.82,100.37L725.82,91.17L731.69,100.37L731.69,91.17M741.75,89.42L734.20,103.44M743.01,100.37L746.36,91.17L749.71,100.37M744.26,97.30L748.46,97.30" stroke="#000"/><path d="M706.95,106.84L701.50,106.84L701.50,116.04M701.50,111.22L704.85,111.22M709.05,116.04L709.05,106.84L712.82,106.84L714.08,107.28L714.50,107.72L714.92,108.59L714.92,109.47L714.50,110.34L714.08,110.78L712.82,111.22L709.05,111.22M711.98,111.22L714.92,116.04M723.30,106.84L717.43,116.04M717.43,106.84L723.30,106.84M717.43,116.04L723.30,116.04M726.66,109.91L726.24,110.34L726.66,110.78L727.07,110.34L726.66,109.91M726.66,115.16L726.24,115.60L726.66,116.04L727.07,115.60L726.66,115.16M735.46,108.15L735.04,107.28L733.78,106.84L732.94,106.84L731.69,107.28L730.85,108.59L730.43,110.78L730.43,112.97L730.85,114.73L731.69,115.60L732.94,116.04L733.36,116.04L734.62,115.60L735.46,114.73L735.88,113.41L735.88,112.97L735.46,111.66L734.62,110.78L733.36,110.34L732.94,110.34L731.69,110.78L730.85,111.66L730.43,112.97M739.23,106.84L743.84,106.84L741.33,110.34L742.59,110.34L743.43,110.78L743.84,111.22L744.26,112.54L744.26,113.41L743.84,114.73L743.01,115.60L741.75,116.04L740.49,116.04L739.23,115.60L738.81,115.16L738.39,114.29M747.20,109.03L747.20,108.59L747.62,107.72L748.04,107.28L748.88,106.84L750.55,106.84L751.39,107.28L751.81,107.72L752.23,108.59L752.23,109.47L751.81,110.34L750.97,111.66L746.78,116.04L752.65,116.04" stroke="#000"/><path d="M701.50,122.51L703.60,131.71L705.69,122.51L707.79,131.71L709.89,122.51M712.40,131.71L712.40,122.51L716.17,122.51L717.43,122.95L717.85,123.39L718.27,124.26L718.27,125.14L717.85,126.01L717.43,126.45L716.17,126.89M712.40,126.89L716.17,126.89L717.43,127.33L717.85,127.77L718.27,128.64L718.27,129.96L717.85,130.83L717.43,131.27L716.17,131.71L712.40,131.71M723.30,122.51L722.04,122.95L721.21,124.26L720.79,126.45L720.79,127.77L721.21,129.96L722.04,131.27L723.30,131.71L724.14,131.71L725.40,131.27L726.24,129.96L726.66,127.77L726.66,126.45L726.24,124.26L725.40,122.95L724.14,122.51L723.30,122.51M730.01,125.58L729.59,126.01L730.01,126.45L730.43,126.01L730.01,125.58M730.01,130.83L729.59,131.27L730.01,131.71L730.43,131.27L730.01,130.83M739.23,122.51L735.04,131.71M733.36,122.51L739.23,122.51M747.20,125.58L746.78,126.89L745.94,127.77L744.68,128.21L744.26,128.21L743.01,127.77L742.17,126.89L741.75,125.58L741.75,125.14L742.17,123.82L743.01,122.95L744.26,122.51L744.68,122.51L745.94,122.95L746.78,123.82L747.20,125.58L747.20,127.77L746.78,129.96L745.94,131.27L744.68,131.71L743.84,131.71L742.59,131.27L742.17,130.40M755.58,123.82L755.16,122.95L753.91,122.51L753.07,122.51L751.81,122.95L750.97,124.26L750.55,126.45L750.55,128.64L750.97,130.40L751.81,131.27L753.07,131.71L753.49,131.71L754.75,131.27L755.58,130.40L756.00,129.08L756.00,128.64L755.58,127.33L754.75,126.45L753.49,126.01L753.07,126.01L751.81,126.45L750.97,127.33L750.55,128.64" stroke="#000"/><path d="M701.50,147.38L701.50,138.18L705.27,138.18L706.53,138.62L706.95,139.06L707.37,139.93L707.37,141.25L706.95,142.12L706.53,142.56L705.27,143.00L701.50,143.00M709.47,138.18L711.56,147.38L713.66,138.18L715.75,147.38L717.85,138.18M720.79,141.25L720.37,141.68L720.79,142.12L721.21,141.68L720.79,141.25M720.79,146.50L720.37,146.94L720.79,147.38L721.21,146.94L720.79,146.50M725.40,139.93L726.24,139.49L727.49,138.18L727.49,147.38M734.62,138.18L733.36,138.62L732.94,139.49L732.94,140.37L733.36,141.25L734.20,141.68L735.88,142.12L737.14,142.56L737.98,143.44L738.39,144.31L738.39,145.63L737.98,146.50L737.56,146.94L736.30,147.38L734.62,147.38L733.36,146.94L732.94,146.50L732.53,145.63L732.53,144.31L732.94,143.44L733.78,142.56L735.04,142.12L736.72,141.68L737.56,141.25L737.98,140.37L737.98,139.49L737.56,138.62L736.30,138.18L734.62,138.18M741.75,146.50L741.33,146.94L741.75,147.38L742.17,146.94L741.75,146.50M745.94,138.18L750.55,138.18L748.04,141.68L749.30,141.68L750.13,142.12L750.55,142.56L750.97,143.88L750.97,144.75L750.55,146.07L749.71,146.94L748.46,147.38L747.20,147.38L745.94,146.94L745.52,146.50L745.10,145.63M758.94,141.25L758.52,142.56L757.68,143.44L756.42,143.88L756.00,143.88L754.75,143.44L753.91,142.56L753.49,141.25L753.49,140.81L753.91,139.49L754.75,138.62L756.00,138.18L756.42,138.18L757.68,138.62L758.52,139.49L758.94,141.25L758.94,143.44L758.52,145.63L757.68,146.94L756.42,147.38L755.58,147.38L754.33,146.94L753.91,146.07" stroke="#000"/><path d="M701.50,163.05L701.50,153.85L705.27,153.85L706.53,154.29L706.95,154.73L707.37,155.60L707.37,156.48L706.95,157.35L706.53,157.79L705.27,158.23L701.50,158.23M704.43,158.23L707.37,163.05M710.30,153.85L710.30,163.05M716.17,153.85L716.17,163.05M710.30,158.23L716.17,158.23M719.95,156.92L719.53,157.35L719.95,157.79L720.37,157.35L719.95,156.92M719.95,162.17L719.53,162.61L719.95,163.05L720.37,162.61L719.95,162.17M728.75,155.16L728.33,154.29L727.07,153.85L726.24,153.85L724.98,154.29L724.14,155.60L723.72,157.79L723.72,159.98L724.14,161.74L724.98,162.61L726.24,163.05L726.66,163.05L727.91,162.61L728.75,161.74L729.17,160.42L729.17,159.98L728.75,158.67L727.91,157.79L726.66,157.35L726.24,157.35L724.98,157.79L724.14,158.67L723.72,159.98M737.14,155.16L736.72,154.29L735.46,153.85L734.62,153.85L733.36,154.29L732.53,155.60L732.11,157.79L732.11,159.98L732.53,161.74L733.36,162.61L734.62,163.05L735.04,163.05L736.30,162.61L737.14,161.74L737.56,160.42L737.56,159.98L737.14,158.67L736.30,157.79L735.04,157.35L734.62,157.35L733.36,157.79L732.53,158.67L732.11,159.98M740.91,162.17L740.49,162.61L740.91,163.05L741.33,162.61L740.91,162.17M748.46,153.85L744.26,159.98L750.55,159.98M748.46,153.85L748.46,163.05" stroke="#000"/><path d="M701.50,178.72L701.50,169.52L704.85,178.72L708.21,169.52L708.21,178.72M710.30,178.72L713.66,169.52L717.01,178.72M711.56,175.65L715.75,175.65M718.69,169.52L724.56,178.72M724.56,169.52L718.69,178.72M729.17,169.52L729.17,178.72M726.24,169.52L732.11,169.52M734.62,172.59L734.20,173.02L734.62,173.46L735.04,173.02L734.62,172.59M734.62,177.84L734.20,178.28L734.62,178.72L735.04,178.28L734.62,177.84M738.39,171.71L738.39,171.27L738.81,170.40L739.23,169.96L740.07,169.52L741.75,169.52L742.59,169.96L743.01,170.40L743.43,171.27L743.43,172.15L743.01,173.02L742.17,174.34L737.98,178.72L743.84,178.72M747.62,171.27L748.46,170.83L749.71,169.52L749.71,178.72M755.58,177.84L755.16,178.28L755.58,178.72L756.00,178.28L755.58,177.84M763.13,169.52L758.94,175.65L765.23,175.65M763.13,169.52L763.13,178.72" stroke="#000"/><path d="M704.43,185.19L704.43,194.39M701.50,185.19L707.37,185.19M709.47,185.19L709.47,194.39M715.34,185.19L715.34,194.39M709.47,189.57L715.34,189.57M719.11,188.26L718.69,188.69L719.11,189.13L719.53,188.69L719.11,188.26M719.11,193.51L718.69,193.95L719.11,194.39L719.53,193.95L719.11,193.51M727.49,185.19L723.30,185.19L722.88,189.13L723.30,188.69L724.56,188.26L725.82,188.26L727.07,188.69L727.91,189.57L728.33,190.89L728.33,191.76L727.91,193.08L727.07,193.95L725.82,194.39L724.56,194.39L723.30,193.95L722.88,193.51L722.46,192.64M735.04,185.19L730.85,191.32L737.14,191.32M735.04,185.19L735.04,194.39M744.68,186.50L744.26,185.63L743.01,185.19L742.17,185.19L740.91,185.63L740.07,186.94L739.65,189.13L739.65,191.32L740.07,193.08L740.91,193.95L742.17,194.39L742.59,194.39L743.84,193.95L744.68,193.08L745.10,191.76L745.10,191.32L744.68,190.01L743.84,189.13L742.59,188.69L742.17,188.69L740.91,189.13L740.07,190.01L739.65,191.32M748.46,185.19L753.07,185.19L750.55,188.69L751.81,188.69L752.65,189.13L753.07,189.57L753.49,190.89L753.49,191.76L753.07,193.08L752.23,193.95L750.97,194.39L749.71,194.39L748.46,193.95L748.04,193.51L747.62,192.64" stroke="#000"/><path d="M701.50,200.86L701.50,210.06L706.53,210.06M713.24,200.86L709.05,200.86L708.63,204.80L709.05,204.36L710.30,203.93L711.56,203.93L712.82,204.36L713.66,205.24L714.08,206.56L714.08,207.43L713.66,208.75L712.82,209.62L711.56,210.06L710.30,210.06L709.05,209.62L708.63,209.18L708.21,208.31M722.46,200.86L718.27,210.06M716.59,200.86L722.46,200.86M725.82,203.93L725.40,204.36L725.82,204.80L726.24,204.36L725.82,203.93M725.82,209.18L725.40,209.62L725.82,210.06L726.24,209.62L725.82,209.18M734.20,200.86L730.01,200.86L729.59,204.80L730.01,204.36L731.27,203.93L732.53,203.93L733.78,204.36L734.62,205.24L735.04,206.56L735.04,207.43L734.62,208.75L733.78,209.62L732.53,210.06L731.27,210.06L730.01,209.62L729.59,209.18L729.17,208.31M738.39,209.18L737.98,209.62L738.39,210.06L738.81,209.62L738.39,209.18M746.78,200.86L742.59,200.86L742.17,204.80L742.59,204.36L743.84,203.93L745.10,203.93L746.36,204.36L747.20,205.24L747.62,206.56L747.62,207.43L747.20,208.75L746.36,209.62L745.10,210.06L743.84,210.06L742.59,209.62L742.17,209.18L741.75,208.31" stroke="#000"/><path d="M701.50,216.53L701.50,225.73L706.53,225.73M714.50,218.72L714.08,217.84L713.24,216.97L712.40,216.53L710.72,216.53L709.89,216.97L709.05,217.84L708.63,218.72L708.21,220.03L708.21,222.23L708.63,223.54L709.05,224.42L709.89,225.29L710.72,225.73L712.40,225.73L713.24,225.29L714.08,224.42L714.50,223.54M717.43,216.53L717.43,225.73L722.46,225.73M724.98,219.60L724.56,220.03L724.98,220.47L725.40,220.03L724.98,219.60M724.98,224.85L724.56,225.29L724.98,225.73L725.40,225.29L724.98,224.85M729.59,218.28L730.43,217.84L731.69,216.53L731.69,225.73M739.23,216.53L737.98,216.97L737.14,218.28L736.72,220.47L736.72,221.79L737.14,223.98L737.98,225.29L739.23,225.73L740.07,225.73L741.33,225.29L742.17,223.98L742.59,221.79L742.59,220.47L742.17,218.28L741.33,216.97L740.07,216.53L739.23,216.53M746.36,218.28L747.20,217.84L748.46,216.53L748.46,225.73M759.36,216.53L755.16,225.73M753.49,216.53L759.36,216.53" stroke="#000"/><path d="M701.50,232.20L701.50,241.40L706.53,241.40M708.63,232.20L708.63,241.40M712.40,235.27L711.98,235.70L712.40,236.14L712.82,235.70L712.40,235.27M712.40,240.52L711.98,240.96L712.40,241.40L712.82,240.96L712.40,240.52M717.01,233.95L717.85,233.51L719.11,232.20L719.11,241.40M726.66,232.20L725.40,232.64L724.56,233.95L724.14,236.14L724.14,237.46L724.56,239.65L725.40,240.96L726.66,241.40L727.49,241.40L728.75,240.96L729.59,239.65L730.01,237.46L730.01,236.14L729.59,233.95L728.75,232.64L727.49,232.20L726.66,232.20M733.36,240.52L732.94,240.96L733.36,241.40L733.78,240.96L733.36,240.52M742.17,233.51L741.75,232.64L740.49,232.20L739.65,232.20L738.39,232.64L737.56,233.95L737.14,236.14L737.14,238.33L737.56,240.09L738.39,240.96L739.65,241.40L740.07,241.40L741.33,240.96L742.17,240.09L742.59,238.77L742.59,238.33L742.17,237.02L741.33,236.14L740.07,235.70L739.65,235.70L738.39,236.14L737.56,237.02L737.14,238.33" stroke="#000"/><path d="M707.37,249.18L706.53,248.31L705.27,247.87L703.60,247.87L702.34,248.31L701.50,249.18L701.50,250.06L701.92,250.94L702.34,251.37L703.18,251.81L705.69,252.69L706.53,253.13L706.95,253.57L707.37,254.44L707.37,255.76L706.53,256.63L705.27,257.07L703.60,257.07L702.34,256.63L701.50,255.76M710.30,247.87L710.30,257.07M714.08,250.94L713.66,251.37L714.08,251.81L714.50,251.37L714.08,250.94M714.08,256.19L713.66,256.63L714.08,257.07L714.50,256.63L714.08,256.19M718.69,249.62L719.53,249.18L720.79,247.87L720.79,257.07M726.24,250.06L726.24,249.62L726.66,248.75L727.07,248.31L727.91,247.87L729.59,247.87L730.43,248.31L730.85,248.75L731.27,249.62L731.27,250.50L730.85,251.37L730.01,252.69L725.82,257.07L731.69,257.07M735.04,256.19L734.62,256.63L735.04,257.07L735.46,256.63L735.04,256.19M740.49,247.87L739.23,248.31L738.81,249.18L738.81,250.06L739.23,250.94L740.07,251.37L741.75,251.81L743.01,252.25L743.84,253.13L744.26,254.00L744.26,255.32L743.84,256.19L743.43,256.63L742.17,257.07L740.49,257.07L739.23,256.63L738.81,256.19L738.39,255.32L738.39,254.00L738.81,253.13L739.65,252.25L740.91,251.81L742.59,251.37L743.43,250.94L743.84,250.06L743.84,249.18L743.43,248.31L742.17,247.87L740.49,247.87" stroke="#000"/><path d="M704.43,263.54L704.43,272.74M701.50,263.54L707.37,263.54M711.14,263.54L711.14,272.74M708.21,263.54L714.08,263.54M716.59,266.61L716.17,267.04L716.59,267.48L717.01,267.04L716.59,266.61M716.59,271.86L716.17,272.30L716.59,272.74L717.01,272.30L716.59,271.86M720.37,265.73L720.37,265.29L720.79,264.42L721.21,263.98L722.04,263.54L723.72,263.54L724.56,263.98L724.98,264.42L725.40,265.29L725.40,266.17L724.98,267.04L724.14,268.36L719.95,272.74L725.82,272.74M733.78,266.61L733.36,267.92L732.53,268.80L731.27,269.24L730.85,269.24L729.59,268.80L728.75,267.92L728.33,266.61L728.33,266.17L728.75,264.85L729.59,263.98L730.85,263.54L731.27,263.54L732.53,263.98L733.36,264.85L733.78,266.61L733.78,268.80L733.36,270.99L732.53,272.30L731.27,272.74L730.43,272.74L729.17,272.30L728.75,271.43M737.56,271.86L737.14,272.30L737.56,272.74L737.98,272.30L737.56,271.86M741.33,265.73L741.33,265.29L741.75,264.42L742.17,263.98L743.01,263.54L744.68,263.54L745.52,263.98L745.94,264.42L746.36,265.29L746.36,266.17L745.94,267.04L745.10,268.36L740.91,272.74L746.78,272.74" stroke="#000"/><path d="M701.50,279.21L701.50,288.41M707.37,279.21L701.50,285.34M703.60,283.15L707.37,288.41M710.30,279.21L710.30,288.41M714.08,282.28L713.66,282.71L714.08,283.15L714.50,282.71L714.08,282.28M714.08,287.53L713.66,287.97L714.08,288.41L714.50,287.97L714.08,287.53M717.85,281.40L717.85,280.96L718.27,280.09L718.69,279.65L719.53,279.21L721.21,279.21L722.04,279.65L722.46,280.09L722.88,280.96L722.88,281.84L722.46,282.71L721.62,284.03L717.43,288.41L723.30,288.41M727.91,279.21L726.66,279.65L726.24,280.52L726.24,281.40L726.66,282.28L727.49,282.71L729.17,283.15L730.43,283.59L731.27,284.47L731.69,285.34L731.69,286.66L731.27,287.53L730.85,287.97L729.59,288.41L727.91,288.41L726.66,287.97L726.24,287.53L725.82,286.66L725.82,285.34L726.24,284.47L727.07,283.59L728.33,283.15L730.01,282.71L730.85,282.28L731.27,281.40L731.27,280.52L730.85,279.65L729.59,279.21L727.91,279.21M735.46,280.96L736.30,280.52L737.56,279.21L737.56,288.41" stroke="#000"/><path d="M707.37,296.19L706.53,295.32L705.27,294.88L703.60,294.88L702.34,295.32L701.50,296.19L701.50,297.07L701.92,297.95L702.34,298.38L703.18,298.82L705.69,299.70L706.53,300.14L706.95,300.58L707.37,301.45L707.37,302.77L706.53,303.64L705.27,304.08L703.60,304.08L702.34,303.64L701.50,302.77M709.47,294.88L711.56,304.08L713.66,294.88L715.75,304.08L717.85,294.88M720.79,297.95L720.37,298.38L720.79,298.82L721.21,298.38L720.79,297.95M720.79,303.20L720.37,303.64L720.79,304.08L721.21,303.64L720.79,303.20M724.56,304.08L724.56,294.88L730.43,304.08L730.43,294.88M740.49,293.13L732.94,307.15M741.75,304.08L745.10,294.88L748.46,304.08M743.01,301.01L747.20,301.01" stroke="#000"/><path d="M706.95,310.55L701.50,310.55L701.50,319.75L706.95,319.75M701.50,314.93L704.85,314.93M709.47,310.55L709.47,319.75M713.24,313.62L712.82,314.05L713.24,314.49L713.66,314.05L713.24,313.62M713.24,318.87L712.82,319.31L713.24,319.75L713.66,319.31L713.24,318.87M719.11,310.55L717.85,310.99L717.01,312.30L716.59,314.49L716.59,315.81L717.01,318.00L717.85,319.31L719.11,319.75L719.95,319.75L721.21,319.31L722.04,318.00L722.46,315.81L722.46,314.49L722.04,312.30L721.21,310.99L719.95,310.55L719.11,310.55M725.82,318.87L725.40,319.31L725.82,319.75L726.24,319.31L725.82,318.87M729.59,312.74L729.59,312.30L730.01,311.43L730.43,310.99L731.27,310.55L732.94,310.55L733.78,310.99L734.20,311.43L734.62,312.30L734.62,313.18L734.20,314.05L733.36,315.37L729.17,319.75L735.04,319.75" stroke="#000"/><path d="M701.50,331.48L709.05,331.48M712.40,335.42L712.40,326.22L716.17,326.22L717.43,326.66L717.85,327.10L718.27,327.97L718.27,329.29L717.85,330.16L717.43,330.60L716.17,331.04L712.40,331.04M719.95,335.42L723.30,326.22L726.66,335.42M721.21,332.35L725.40,332.35M728.75,335.42L728.75,326.22L732.53,326.22L733.78,326.66L734.20,327.10L734.62,327.97L734.62,328.85L734.20,329.72L733.78,330.16L732.53,330.60L728.75,330.60M731.69,330.60L734.62,335.42M743.43,328.41L743.01,327.53L742.17,326.66L741.33,326.22L739.65,326.22L738.81,326.66L737.98,327.53L737.56,328.41L737.14,329.72L737.14,331.92L737.56,333.23L737.98,334.11L738.81,334.98L739.65,335.42L741.33,335.42L742.17,334.98L743.01,334.11L743.43,333.23M751.81,326.22L746.36,326.22L746.36,335.42L751.81,335.42M746.36,330.60L749.71,330.60M754.33,326.22L754.33,335.42L759.36,335.42M761.45,331.48L769.00,331.48" stroke="#000"/><path d="M707.79,344.08L707.37,343.20L706.53,342.33L705.69,341.89L704.02,341.89L703.18,342.33L702.34,343.20L701.92,344.08L701.50,345.39L701.50,347.59L701.92,348.90L702.34,349.78L703.18,350.65L704.02,351.09L705.69,351.09L706.53,350.65L707.37,349.78L707.79,348.90M709.47,351.09L712.82,341.89L716.17,351.09M710.72,348.02L714.92,348.02M718.27,351.09L718.27,341.89L722.04,341.89L723.30,342.33L723.72,342.77L724.14,343.64L724.14,344.96L723.72,345.83L723.30,346.27L722.04,346.71L718.27,346.71M732.53,341.89L727.07,341.89L727.07,351.09L732.53,351.09M727.07,346.27L730.43,346.27M735.46,344.96L735.04,345.39L735.46,345.83L735.88,345.39L735.46,344.96M735.46,350.21L735.04,350.65L735.46,351.09L735.88,350.65L735.46,350.21M739.23,344.08L739.23,343.64L739.65,342.77L740.07,342.33L740.91,341.89L742.59,341.89L743.43,342.33L743.84,342.77L744.26,343.64L744.26,344.52L743.84,345.39L743.01,346.71L738.81,351.09L744.68,351.09M747.62,344.08L747.62,343.64L748.04,342.77L748.46,342.33L749.30,341.89L750.97,341.89L751.81,342.33L752.23,342.77L752.65,343.64L752.65,344.52L752.23,345.39L751.39,346.71L747.20,351.09L753.07,351.09" stroke="#000"/><path d="M707.79,359.75L707.37,358.87L706.53,358.00L705.69,357.56L704.02,357.56L703.18,358.00L702.34,358.87L701.92,359.75L701.50,361.06L701.50,363.26L701.92,364.57L702.34,365.45L703.18,366.32L704.02,366.76L705.69,366.76L706.53,366.32L707.37,365.45L707.79,364.57M710.72,357.56L710.72,366.76M714.08,366.76L714.08,357.56L719.95,366.76L719.95,357.56M723.30,357.56L723.30,366.76M729.17,357.56L729.17,366.76M723.30,361.94L729.17,361.94M732.94,360.63L732.53,361.06L732.94,361.50L733.36,361.06L732.94,360.63M732.94,365.88L732.53,366.32L732.94,366.76L733.36,366.32L732.94,365.88M738.81,357.56L737.56,358.00L736.72,359.31L736.30,361.50L736.30,362.82L736.72,365.01L737.56,366.32L738.81,366.76L739.65,366.76L740.91,366.32L741.75,365.01L742.17,362.82L742.17,361.50L741.75,359.31L740.91,358.00L739.65,357.56L738.81,357.56" stroke="#000"/><path d="M701.50,373.23L701.50,382.43L706.53,382.43M714.50,375.42L714.08,374.54L713.24,373.67L712.40,373.23L710.72,373.23L709.89,373.67L709.05,374.54L708.63,375.42L708.21,376.73L708.21,378.93L708.63,380.24L709.05,381.12L709.89,381.99L710.72,382.43L712.40,382.43L713.24,381.99L714.08,381.12L714.50,380.24M717.43,373.23L717.43,382.43L722.46,382.43M724.98,376.30L724.56,376.73L724.98,377.17L725.40,376.73L724.98,376.30M724.98,381.55L724.56,381.99L724.98,382.43L725.40,381.99L724.98,381.55M729.59,374.98L730.43,374.54L731.69,373.23L731.69,382.43M739.23,373.23L737.98,373.67L737.14,374.98L736.72,377.17L736.72,378.49L737.14,380.68L737.98,381.99L739.23,382.43L740.07,382.43L741.33,381.99L742.17,380.68L742.59,378.49L742.59,377.17L742.17,374.98L741.33,373.67L740.07,373.23L739.23,373.23M746.36,374.98L747.20,374.54L748.46,373.23L748.46,382.43M759.36,373.23L755.16,382.43M753.49,373.23L759.36,373.23" stroke="#000"/><path d="M707.79,391.09L707.37,390.21L706.53,389.34L705.69,388.90L704.02,388.90L703.18,389.34L702.34,390.21L701.92,391.09L701.50,392.40L701.50,394.60L701.92,395.91L702.34,396.79L703.18,397.66L704.02,398.10L705.69,398.10L706.53,397.66L707.37,396.79L707.79,395.91M709.47,398.10L712.82,388.90L716.17,398.10M710.72,395.03L714.92,395.03M718.27,398.10L718.27,388.90L722.04,388.90L723.30,389.34L723.72,389.78L724.14,390.65L724.14,391.97L723.72,392.84L723.30,393.28L722.04,393.72L718.27,393.72M727.49,391.97L727.07,392.40L727.49,392.84L727.91,392.40L727.49,391.97M727.49,397.22L727.07,397.66L727.49,398.10L727.91,397.66L727.49,397.22M732.11,390.65L732.94,390.21L734.20,388.90L734.20,398.10M744.26,388.90L740.07,388.90L739.65,392.84L740.07,392.40L741.33,391.97L742.59,391.97L743.84,392.40L744.68,393.28L745.10,394.60L745.10,395.47L744.68,396.79L743.84,397.66L742.59,398.10L741.33,398.10L740.07,397.66L739.65,397.22L739.23,396.35M748.46,397.22L748.04,397.66L748.46,398.10L748.88,397.66L748.46,397.22M757.26,390.21L756.84,389.34L755.58,388.90L754.75,388.90L753.49,389.34L752.65,390.65L752.23,392.84L752.23,395.03L752.65,396.79L753.49,397.66L754.75,398.10L755.16,398.10L756.42,397.66L757.26,396.79L757.68,395.47L757.68,395.03L757.26,393.72L756.42,392.84L755.16,392.40L754.75,392.40L753.49,392.84L752.65,393.72L752.23,395.03" stroke="#000"/><path d="M701.50,404.57L701.50,413.77L706.53,413.77M714.08,404.57L708.63,404.57L708.63,413.77M708.63,408.95L711.98,408.95M722.04,406.76L721.62,405.88L720.79,405.01L719.95,404.57L718.27,404.57L717.43,405.01L716.59,405.88L716.17,406.76L715.75,408.07L715.75,410.27L716.17,411.58L716.59,412.46L717.43,413.33L718.27,413.77L719.95,413.77L720.79,413.33L721.62,412.46L722.04,411.58M725.40,407.64L724.98,408.07L725.40,408.51L725.82,408.07L725.40,407.64M725.40,412.89L724.98,413.33L725.40,413.77L725.82,413.33L725.40,412.89M730.01,406.32L730.85,405.88L732.11,404.57L732.11,413.77M739.65,404.57L738.39,405.01L737.56,406.32L737.14,408.51L737.14,409.83L737.56,412.02L738.39,413.33L739.65,413.77L740.49,413.77L741.75,413.33L742.59,412.02L743.01,409.83L743.01,408.51L742.59,406.32L741.75,405.01L740.49,404.57L739.65,404.57M746.78,406.32L747.62,405.88L748.88,404.57L748.88,413.77M758.94,404.57L754.75,404.57L754.33,408.51L754.75,408.07L756.00,407.64L757.26,407.64L758.52,408.07L759.36,408.95L759.78,410.27L759.78,411.14L759.36,412.46L758.52,413.33L757.26,413.77L756.00,413.77L754.75,413.33L754.33,412.89L753.91,412.02" stroke="#000"/><path d="M706.95,420.24L701.50,420.24L701.50,429.44L706.95,429.44M701.50,424.62L704.85,424.62M709.47,420.24L709.47,429.44L714.50,429.44M717.01,423.31L716.59,423.74L717.01,424.18L717.43,423.74L717.01,423.31M717.01,428.56L716.59,429.00L717.01,429.44L717.43,429.00L717.01,428.56M722.46,420.24L721.21,420.68L720.79,421.55L720.79,422.43L721.21,423.31L722.04,423.74L723.72,424.18L724.98,424.62L725.82,425.50L726.24,426.37L726.24,427.69L725.82,428.56L725.40,429.00L724.14,429.44L722.46,429.44L721.21,429.00L720.79,428.56L720.37,427.69L720.37,426.37L720.79,425.50L721.62,424.62L722.88,424.18L724.56,423.74L725.40,423.31L725.82,422.43L725.82,421.55L725.40,420.68L724.14,420.24L722.46,420.24M734.20,423.31L733.78,424.62L732.94,425.50L731.69,425.94L731.27,425.94L730.01,425.50L729.17,424.62L728.75,423.31L728.75,422.87L729.17,421.55L730.01,420.68L731.27,420.24L731.69,420.24L732.94,420.68L733.78,421.55L734.20,423.31L734.20,425.50L733.78,427.69L732.94,429.00L731.69,429.44L730.85,429.44L729.59,429.00L729.17,428.13M739.23,420.24L737.98,420.68L737.56,421.55L737.56,422.43L737.98,423.31L738.81,423.74L740.49,424.18L741.75,424.62L742.59,425.50L743.01,426.37L743.01,427.69L742.59,428.56L742.17,429.00L740.91,429.44L739.23,429.44L737.98,429.00L737.56,428.56L737.14,427.69L737.14,426.37L737.56,425.50L738.39,424.62L739.65,424.18L741.33,423.74L742.17,423.31L742.59,422.43L742.59,421.55L742.17,420.68L740.91,420.24L739.23,420.24" stroke="#000"/><path d="M701.50,445.11L701.50,435.91L704.85,445.11L708.21,435.91L708.21,445.11M711.56,445.11L711.56,435.91L715.34,435.91L716.59,436.35L717.01,436.79L717.43,437.66L717.43,438.98L717.01,439.85L716.59,440.29L715.34,440.73L711.56,440.73M720.37,435.91L720.37,445.11L725.40,445.11M727.91,438.98L727.49,439.41L727.91,439.85L728.33,439.41L727.91,438.98M727.91,444.23L727.49,444.67L727.91,445.11L728.33,444.67L727.91,444.23M733.36,435.91L732.11,436.35L731.69,437.22L731.69,438.10L732.11,438.98L732.94,439.41L734.62,439.85L735.88,440.29L736.72,441.17L737.14,442.04L737.14,443.36L736.72,444.23L736.30,444.67L735.04,445.11L733.36,445.11L732.11,444.67L731.69,444.23L731.27,443.36L731.27,442.04L731.69,441.17L732.53,440.29L733.78,439.85L735.46,439.41L736.30,438.98L736.72,438.10L736.72,437.22L736.30,436.35L735.04,435.91L733.36,435.91M740.49,435.91L745.10,435.91L742.59,439.41L743.84,439.41L744.68,439.85L745.10,440.29L745.52,441.61L745.52,442.48L745.10,443.80L744.26,444.67L743.01,445.11L741.75,445.11L740.49,444.67L740.07,444.23L739.65,443.36M748.46,438.10L748.46,437.66L748.88,436.79L749.30,436.35L750.13,435.91L751.81,435.91L752.65,436.35L753.07,436.79L753.49,437.66L753.49,438.54L753.07,439.41L752.23,440.73L748.04,445.11L753.91,445.11" stroke="#000"/><path d="M701.50,456.84L709.05,456.84M711.56,451.58L713.66,460.78L715.75,451.58L717.85,460.78L719.95,451.58M722.46,451.58L722.46,460.78M725.82,460.78L725.82,451.58L731.69,460.78L731.69,451.58M735.04,460.78L735.04,451.58L737.98,451.58L739.23,452.02L740.07,452.89L740.49,453.77L740.91,455.08L740.91,457.28L740.49,458.59L740.07,459.47L739.23,460.34L737.98,460.78L735.04,460.78M743.84,456.84L751.39,456.84" stroke="#000"/><path d="M703.50,476.45L703.50,467.25L709.37,476.45L709.37,467.25M714.82,467.25L713.98,467.69L713.14,468.56L712.72,469.44L712.30,470.75L712.30,472.95L712.72,474.26L713.14,475.14L713.98,476.01L714.82,476.45L716.50,476.45L717.34,476.01L718.17,475.14L718.59,474.26L719.01,472.95L719.01,470.75L718.59,469.44L718.17,468.56L717.34,467.69L716.50,467.25L714.82,467.25M723.62,467.25L723.62,476.45M720.69,467.25L726.56,467.25" stroke="#000"/><path d="M701.50,492.12L704.85,482.92L708.21,492.12M702.76,489.05L706.95,489.05M709.05,482.92L712.40,492.12L715.75,482.92M716.59,492.12L719.95,482.92L723.30,492.12M717.85,489.05L722.04,489.05M725.40,482.92L725.40,492.12M728.75,482.92L728.75,492.12L733.78,492.12" stroke="#000"/><path d="M136.88,524.20L136.43,525.15L136.70,526.36L137.69,527.82L138.43,528.56L139.89,529.55L141.10,529.82L142.05,529.37L142.51,528.90L142.97,527.95L142.70,526.75L141.70,525.29L140.96,524.55L139.50,523.55L138.30,523.28L137.35,523.74L136.88,524.20M145.29,525.14L145.30,525.62L145.78,525.63L145.77,525.15L145.29,525.14M144.17,518.88L144.39,518.17L144.36,516.73L149.52,521.89" stroke="#5a00a0"/><path d="M182.98,524.56L182.53,525.50L182.80,526.71L183.79,528.17L184.53,528.91L185.99,529.90L187.20,530.17L188.14,529.72L188.61,529.25L189.07,528.30L188.80,527.10L187.80,525.64L187.06,524.90L185.60,523.90L184.40,523.63L183.45,524.09L182.98,524.56M191.39,525.49L191.40,525.97L191.88,525.98L191.87,525.50L191.39,525.49M190.05,519.95L189.80,519.70L189.55,518.98L189.53,518.50L189.75,517.78L190.69,516.85L191.40,516.63L191.88,516.64L192.61,516.90L193.10,517.39L193.36,518.12L193.63,519.32L193.75,524.11L197.02,520.84" stroke="#5a00a0"/><path d="M249.18,524.16L248.73,525.10L249.00,526.31L249.99,527.77L250.73,528.51L252.19,529.50L253.40,529.77L254.34,529.32L254.81,528.85L255.27,527.90L255.00,526.70L254.00,525.24L253.26,524.50L251.80,523.50L250.60,523.23L249.65,523.69L249.18,524.16M257.59,525.09L257.60,525.57L258.08,525.58L258.07,525.10L257.59,525.09M257.59,515.75L255.25,518.08L257.23,520.53L257.22,520.05L257.68,519.10L258.38,518.40L259.32,517.95L260.28,517.97L261.25,518.48L261.74,518.97L262.25,519.94L262.27,520.90L261.82,521.84L261.12,522.55L260.17,523.00L259.69,522.99L258.97,522.73" stroke="#5a00a0"/><path d="M305.62,522.39L305.84,521.67L305.80,520.24L310.96,525.40" stroke="#5a00a0"/><path d="M335.02,525.89L335.24,525.18L335.20,523.74L340.36,528.90M343.14,525.14L343.15,525.62L343.63,525.63L343.62,525.15L343.14,525.14M343.14,515.80L340.80,518.13L342.78,520.58L342.77,520.10L343.23,519.15L343.93,518.45L344.87,518.00L345.83,518.02L346.80,518.53L347.29,519.02L347.80,519.99L347.82,520.95L347.37,521.89L346.67,522.60L345.72,523.05L345.24,523.04L344.52,522.78" stroke="#5a00a0"/><path d="M362.65,522.15L362.40,521.90L362.14,521.18L362.13,520.70L362.35,519.99L363.29,519.05L364.00,518.83L364.48,518.84L365.20,519.10L365.69,519.59L365.95,520.32L366.22,521.52L366.35,526.32L369.62,523.05" stroke="#5a00a0"/><path d="M397.65,521.39L400.22,518.82L400.79,522.19L401.49,521.48L402.20,521.26L402.68,521.28L403.65,521.78L404.14,522.27L404.64,523.24L404.67,524.20L404.21,525.15L403.51,525.85L402.57,526.30L402.09,526.29L401.36,526.03" stroke="#5a00a0"/><path d="M425.90,519.34L427.01,525.11L430.51,521.61M425.90,519.34L431.06,524.50" stroke="#5a00a0"/><path d="M465.24,519.57L464.52,519.31L463.57,519.77L463.10,520.24L462.65,521.18L462.92,522.39L463.91,523.85L465.14,525.08L466.36,525.83L467.32,525.85L468.26,525.40L468.50,525.16L468.95,524.22L468.93,523.26L468.42,522.29L468.18,522.04L467.21,521.54L466.25,521.51L465.30,521.97L465.07,522.20L464.61,523.15L464.64,524.11L465.14,525.08" stroke="#5a00a0"/><path d="M491.45,520.89L491.00,521.83L491.26,522.56L491.75,523.05L492.47,523.31L493.18,523.09L494.36,522.40L495.31,521.94L496.27,521.97L496.99,522.23L497.73,522.96L497.99,523.69L498.00,524.17L497.55,525.11L496.61,526.05L495.67,526.50L495.19,526.49L494.46,526.23L493.73,525.49L493.47,524.77L493.44,523.81L493.90,522.86L494.59,521.68L494.81,520.97L494.55,520.25L494.06,519.76L493.33,519.50L492.39,519.95L491.45,520.89" stroke="#5a00a0"/><path d="M511.38,524.52L511.60,523.81L511.57,522.37L516.73,527.53M515.77,518.17L515.32,519.11L515.59,520.32L516.58,521.78L517.32,522.52L518.78,523.51L519.99,523.78L520.93,523.33L521.40,522.86L521.85,521.92L521.58,520.71L520.59,519.25L519.85,518.51L518.39,517.52L517.18,517.25L516.24,517.70L515.77,518.17" stroke="#5a00a0"/><path d="M530.38,524.52L530.60,523.81L530.57,522.37L535.73,527.53M534.83,520.56L534.59,520.32L534.33,519.59L534.32,519.11L534.54,518.40L535.47,517.47L536.18,517.25L536.66,517.26L537.39,517.52L537.88,518.01L538.14,518.73L538.41,519.94L538.53,524.73L541.80,521.46" stroke="#5a00a0"/><path d="M553.78,524.52L554.00,523.81L553.97,522.37L559.13,527.53M559.57,516.77L557.24,519.10L559.22,521.55L559.20,521.07L559.66,520.12L560.36,519.42L561.30,518.97L562.26,518.99L563.23,519.50L563.73,519.99L564.23,520.96L564.25,521.92L563.80,522.86L563.10,523.56L562.15,524.02L561.67,524.01L560.95,523.75" stroke="#5a00a0"/><path d="M584.31,523.88L584.07,523.64L583.81,522.91L583.80,522.43L584.02,521.72L584.95,520.79L585.66,520.57L586.14,520.58L586.87,520.84L587.36,521.33L587.62,522.05L587.89,523.26L588.01,528.05L591.28,524.78M588.92,516.82L588.47,517.76L588.74,518.97L589.73,520.43L590.47,521.17L591.93,522.16L593.14,522.43L594.08,521.98L594.55,521.51L595.00,520.57L594.73,519.36L593.74,517.90L593.00,517.16L591.54,516.17L590.33,515.90L589.39,516.35L588.92,516.82" stroke="#5a00a0"/><path d="M608.91,524.38L608.67,524.14L608.41,523.41L608.40,522.93L608.62,522.22L609.55,521.29L610.26,521.07L610.74,521.08L611.47,521.34L611.96,521.83L612.22,522.55L612.49,523.76L612.61,528.55L615.88,525.28M614.92,515.92L612.59,518.25L614.57,520.70L614.55,520.22L615.01,519.27L615.71,518.57L616.65,518.12L617.61,518.14L618.58,518.64L619.08,519.14L619.58,520.11L619.60,521.07L619.15,522.01L618.45,522.71L617.50,523.17L617.02,523.16L616.30,522.90" stroke="#5a00a0"/><path d="M628.82,522.42L631.39,519.85L631.95,523.22L632.65,522.52L633.36,522.30L633.84,522.31L634.81,522.82L635.31,523.31L635.81,524.28L635.83,525.24L635.38,526.18L634.68,526.88L633.73,527.34L633.25,527.33L632.53,527.07M634.42,516.82L633.97,517.76L634.24,518.97L635.23,520.43L635.97,521.17L637.43,522.16L638.64,522.43L639.58,521.98L640.05,521.51L640.50,520.57L640.23,519.36L639.24,517.90L638.50,517.16L637.04,516.17L635.83,515.90L634.89,516.35L634.42,516.82" stroke="#5a00a0"/><path d="M664.08,522.05L665.19,527.83L668.69,524.33M664.08,522.05L669.25,527.22M667.82,518.32L667.37,519.26L667.64,520.47L668.63,521.93L669.37,522.67L670.83,523.66L672.04,523.93L672.98,523.48L673.45,523.01L673.90,522.07L673.63,520.86L672.64,519.40L671.90,518.66L670.44,517.67L669.23,517.40L668.29,517.85L667.82,518.32" stroke="#5a00a0"/></g>
<rect x="85" y="50" width="1" height="2" fill="#000"/>
</svg></body></html>
